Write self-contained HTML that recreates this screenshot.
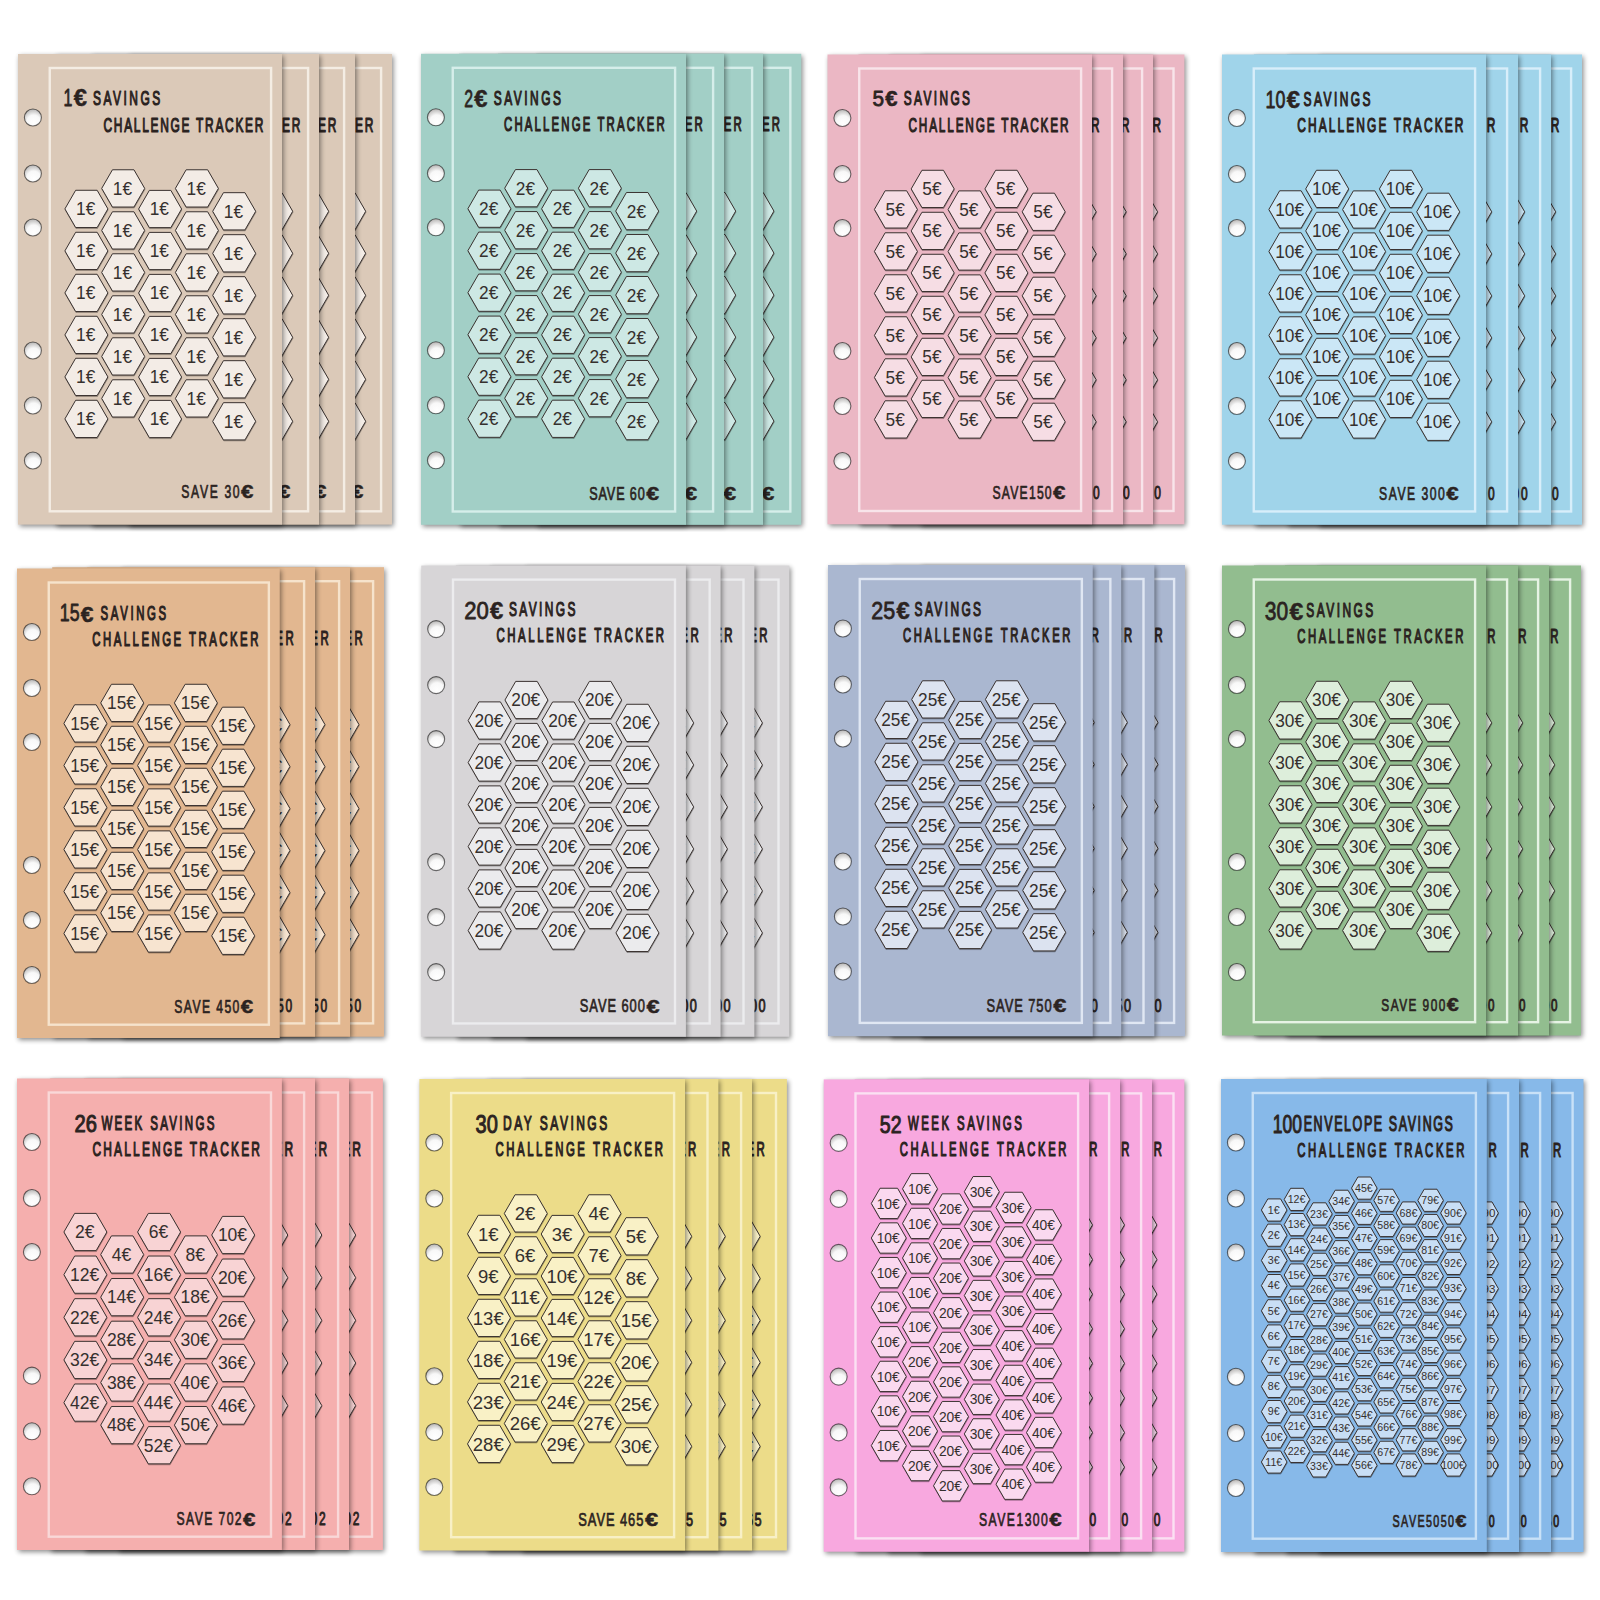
<!DOCTYPE html>
<html><head><meta charset="utf-8"><style>
html,body{margin:0;padding:0;background:#ffffff;}
svg{display:block;}
text{font-family:"Liberation Sans", sans-serif;}
</style></head><body>
<svg width="1600" height="1600" viewBox="0 0 1600 1600">
<defs>
<radialGradient id="hole" cx="0.55" cy="0.72" r="0.8" fx="0.55" fy="0.8">
<stop offset="0" stop-color="#ffffff"/><stop offset="0.5" stop-color="#f8f8f8"/><stop offset="1" stop-color="#a8a6a5"/>
</radialGradient>
<filter id="blur" x="-20%" y="-20%" width="140%" height="140%"><feGaussianBlur stdDeviation="2.6"/></filter>
<linearGradient id="shR" x1="0" y1="0" x2="1" y2="0">
<stop offset="0" stop-color="#000" stop-opacity="0.30"/><stop offset="0.35" stop-color="#000" stop-opacity="0.12"/><stop offset="1" stop-color="#000" stop-opacity="0"/>
</linearGradient>
<linearGradient id="shB" x1="0" y1="0" x2="0" y2="1">
<stop offset="0" stop-color="#000" stop-opacity="0.70"/><stop offset="0.3" stop-color="#000" stop-opacity="0.35"/><stop offset="1" stop-color="#000" stop-opacity="0"/>
</linearGradient>
<linearGradient id="shT" x1="0" y1="1" x2="0" y2="0">
<stop offset="0" stop-color="#000" stop-opacity="0.08"/><stop offset="1" stop-color="#000" stop-opacity="0"/>
</linearGradient>
</defs>
<rect width="1600" height="1600" fill="#ffffff"/>

<defs>
<g id="hx0f"><polygon points="64.90,208.90 75.65,190.28 97.15,190.28 107.90,208.90 97.15,227.52 75.65,227.52"/><polygon points="64.90,250.90 75.65,232.28 97.15,232.28 107.90,250.90 97.15,269.52 75.65,269.52"/><polygon points="64.90,292.90 75.65,274.28 97.15,274.28 107.90,292.90 97.15,311.52 75.65,311.52"/><polygon points="64.90,334.90 75.65,316.28 97.15,316.28 107.90,334.90 97.15,353.52 75.65,353.52"/><polygon points="64.90,376.90 75.65,358.28 97.15,358.28 107.90,376.90 97.15,395.52 75.65,395.52"/><polygon points="64.90,418.90 75.65,400.28 97.15,400.28 107.90,418.90 97.15,437.52 75.65,437.52"/><polygon points="101.70,188.40 112.45,169.78 133.95,169.78 144.70,188.40 133.95,207.02 112.45,207.02"/><polygon points="101.70,230.40 112.45,211.78 133.95,211.78 144.70,230.40 133.95,249.02 112.45,249.02"/><polygon points="101.70,272.40 112.45,253.78 133.95,253.78 144.70,272.40 133.95,291.02 112.45,291.02"/><polygon points="101.70,314.40 112.45,295.78 133.95,295.78 144.70,314.40 133.95,333.02 112.45,333.02"/><polygon points="101.70,356.40 112.45,337.78 133.95,337.78 144.70,356.40 133.95,375.02 112.45,375.02"/><polygon points="101.70,398.40 112.45,379.78 133.95,379.78 144.70,398.40 133.95,417.02 112.45,417.02"/><polygon points="138.60,209.00 149.35,190.38 170.85,190.38 181.60,209.00 170.85,227.62 149.35,227.62"/><polygon points="138.60,251.00 149.35,232.38 170.85,232.38 181.60,251.00 170.85,269.62 149.35,269.62"/><polygon points="138.60,293.00 149.35,274.38 170.85,274.38 181.60,293.00 170.85,311.62 149.35,311.62"/><polygon points="138.60,335.00 149.35,316.38 170.85,316.38 181.60,335.00 170.85,353.62 149.35,353.62"/><polygon points="138.60,377.00 149.35,358.38 170.85,358.38 181.60,377.00 170.85,395.62 149.35,395.62"/><polygon points="138.60,419.00 149.35,400.38 170.85,400.38 181.60,419.00 170.85,437.62 149.35,437.62"/><polygon points="175.40,188.40 186.15,169.78 207.65,169.78 218.40,188.40 207.65,207.02 186.15,207.02"/><polygon points="175.40,230.40 186.15,211.78 207.65,211.78 218.40,230.40 207.65,249.02 186.15,249.02"/><polygon points="175.40,272.40 186.15,253.78 207.65,253.78 218.40,272.40 207.65,291.02 186.15,291.02"/><polygon points="175.40,314.40 186.15,295.78 207.65,295.78 218.40,314.40 207.65,333.02 186.15,333.02"/><polygon points="175.40,356.40 186.15,337.78 207.65,337.78 218.40,356.40 207.65,375.02 186.15,375.02"/><polygon points="175.40,398.40 186.15,379.78 207.65,379.78 218.40,398.40 207.65,417.02 186.15,417.02"/><polygon points="212.70,211.30 223.45,192.68 244.95,192.68 255.70,211.30 244.95,229.92 223.45,229.92"/><polygon points="212.70,253.30 223.45,234.68 244.95,234.68 255.70,253.30 244.95,271.92 223.45,271.92"/><polygon points="212.70,295.30 223.45,276.68 244.95,276.68 255.70,295.30 244.95,313.92 223.45,313.92"/><polygon points="212.70,337.30 223.45,318.68 244.95,318.68 255.70,337.30 244.95,355.92 223.45,355.92"/><polygon points="212.70,379.30 223.45,360.68 244.95,360.68 255.70,379.30 244.95,397.92 223.45,397.92"/><polygon points="212.70,421.30 223.45,402.68 244.95,402.68 255.70,421.30 244.95,439.92 223.45,439.92"/></g>
<g id="hx0b"><polygon points="212.70,211.30 223.45,192.68 244.95,192.68 255.70,211.30 244.95,229.92 223.45,229.92"/><polygon points="212.70,253.30 223.45,234.68 244.95,234.68 255.70,253.30 244.95,271.92 223.45,271.92"/><polygon points="212.70,295.30 223.45,276.68 244.95,276.68 255.70,295.30 244.95,313.92 223.45,313.92"/><polygon points="212.70,337.30 223.45,318.68 244.95,318.68 255.70,337.30 244.95,355.92 223.45,355.92"/><polygon points="212.70,379.30 223.45,360.68 244.95,360.68 255.70,379.30 244.95,397.92 223.45,397.92"/><polygon points="212.70,421.30 223.45,402.68 244.95,402.68 255.70,421.30 244.95,439.92 223.45,439.92"/></g>
<g id="hx1f"><polygon points="467.90,208.70 478.65,190.08 500.15,190.08 510.90,208.70 500.15,227.32 478.65,227.32"/><polygon points="467.90,250.70 478.65,232.08 500.15,232.08 510.90,250.70 500.15,269.32 478.65,269.32"/><polygon points="467.90,292.70 478.65,274.08 500.15,274.08 510.90,292.70 500.15,311.32 478.65,311.32"/><polygon points="467.90,334.70 478.65,316.08 500.15,316.08 510.90,334.70 500.15,353.32 478.65,353.32"/><polygon points="467.90,376.70 478.65,358.08 500.15,358.08 510.90,376.70 500.15,395.32 478.65,395.32"/><polygon points="467.90,418.70 478.65,400.08 500.15,400.08 510.90,418.70 500.15,437.32 478.65,437.32"/><polygon points="504.70,188.20 515.45,169.58 536.95,169.58 547.70,188.20 536.95,206.82 515.45,206.82"/><polygon points="504.70,230.20 515.45,211.58 536.95,211.58 547.70,230.20 536.95,248.82 515.45,248.82"/><polygon points="504.70,272.20 515.45,253.58 536.95,253.58 547.70,272.20 536.95,290.82 515.45,290.82"/><polygon points="504.70,314.20 515.45,295.58 536.95,295.58 547.70,314.20 536.95,332.82 515.45,332.82"/><polygon points="504.70,356.20 515.45,337.58 536.95,337.58 547.70,356.20 536.95,374.82 515.45,374.82"/><polygon points="504.70,398.20 515.45,379.58 536.95,379.58 547.70,398.20 536.95,416.82 515.45,416.82"/><polygon points="541.60,208.80 552.35,190.18 573.85,190.18 584.60,208.80 573.85,227.42 552.35,227.42"/><polygon points="541.60,250.80 552.35,232.18 573.85,232.18 584.60,250.80 573.85,269.42 552.35,269.42"/><polygon points="541.60,292.80 552.35,274.18 573.85,274.18 584.60,292.80 573.85,311.42 552.35,311.42"/><polygon points="541.60,334.80 552.35,316.18 573.85,316.18 584.60,334.80 573.85,353.42 552.35,353.42"/><polygon points="541.60,376.80 552.35,358.18 573.85,358.18 584.60,376.80 573.85,395.42 552.35,395.42"/><polygon points="541.60,418.80 552.35,400.18 573.85,400.18 584.60,418.80 573.85,437.42 552.35,437.42"/><polygon points="578.40,188.20 589.15,169.58 610.65,169.58 621.40,188.20 610.65,206.82 589.15,206.82"/><polygon points="578.40,230.20 589.15,211.58 610.65,211.58 621.40,230.20 610.65,248.82 589.15,248.82"/><polygon points="578.40,272.20 589.15,253.58 610.65,253.58 621.40,272.20 610.65,290.82 589.15,290.82"/><polygon points="578.40,314.20 589.15,295.58 610.65,295.58 621.40,314.20 610.65,332.82 589.15,332.82"/><polygon points="578.40,356.20 589.15,337.58 610.65,337.58 621.40,356.20 610.65,374.82 589.15,374.82"/><polygon points="578.40,398.20 589.15,379.58 610.65,379.58 621.40,398.20 610.65,416.82 589.15,416.82"/><polygon points="615.70,211.10 626.45,192.48 647.95,192.48 658.70,211.10 647.95,229.72 626.45,229.72"/><polygon points="615.70,253.10 626.45,234.48 647.95,234.48 658.70,253.10 647.95,271.72 626.45,271.72"/><polygon points="615.70,295.10 626.45,276.48 647.95,276.48 658.70,295.10 647.95,313.72 626.45,313.72"/><polygon points="615.70,337.10 626.45,318.48 647.95,318.48 658.70,337.10 647.95,355.72 626.45,355.72"/><polygon points="615.70,379.10 626.45,360.48 647.95,360.48 658.70,379.10 647.95,397.72 626.45,397.72"/><polygon points="615.70,421.10 626.45,402.48 647.95,402.48 658.70,421.10 647.95,439.72 626.45,439.72"/></g>
<g id="hx1b"><polygon points="615.70,211.10 626.45,192.48 647.95,192.48 658.70,211.10 647.95,229.72 626.45,229.72"/><polygon points="615.70,253.10 626.45,234.48 647.95,234.48 658.70,253.10 647.95,271.72 626.45,271.72"/><polygon points="615.70,295.10 626.45,276.48 647.95,276.48 658.70,295.10 647.95,313.72 626.45,313.72"/><polygon points="615.70,337.10 626.45,318.48 647.95,318.48 658.70,337.10 647.95,355.72 626.45,355.72"/><polygon points="615.70,379.10 626.45,360.48 647.95,360.48 658.70,379.10 647.95,397.72 626.45,397.72"/><polygon points="615.70,421.10 626.45,402.48 647.95,402.48 658.70,421.10 647.95,439.72 626.45,439.72"/></g>
<g id="hx2f"><polygon points="874.40,209.40 885.15,190.78 906.65,190.78 917.40,209.40 906.65,228.02 885.15,228.02"/><polygon points="874.40,251.40 885.15,232.78 906.65,232.78 917.40,251.40 906.65,270.02 885.15,270.02"/><polygon points="874.40,293.40 885.15,274.78 906.65,274.78 917.40,293.40 906.65,312.02 885.15,312.02"/><polygon points="874.40,335.40 885.15,316.78 906.65,316.78 917.40,335.40 906.65,354.02 885.15,354.02"/><polygon points="874.40,377.40 885.15,358.78 906.65,358.78 917.40,377.40 906.65,396.02 885.15,396.02"/><polygon points="874.40,419.40 885.15,400.78 906.65,400.78 917.40,419.40 906.65,438.02 885.15,438.02"/><polygon points="911.20,188.90 921.95,170.28 943.45,170.28 954.20,188.90 943.45,207.52 921.95,207.52"/><polygon points="911.20,230.90 921.95,212.28 943.45,212.28 954.20,230.90 943.45,249.52 921.95,249.52"/><polygon points="911.20,272.90 921.95,254.28 943.45,254.28 954.20,272.90 943.45,291.52 921.95,291.52"/><polygon points="911.20,314.90 921.95,296.28 943.45,296.28 954.20,314.90 943.45,333.52 921.95,333.52"/><polygon points="911.20,356.90 921.95,338.28 943.45,338.28 954.20,356.90 943.45,375.52 921.95,375.52"/><polygon points="911.20,398.90 921.95,380.28 943.45,380.28 954.20,398.90 943.45,417.52 921.95,417.52"/><polygon points="948.10,209.50 958.85,190.88 980.35,190.88 991.10,209.50 980.35,228.12 958.85,228.12"/><polygon points="948.10,251.50 958.85,232.88 980.35,232.88 991.10,251.50 980.35,270.12 958.85,270.12"/><polygon points="948.10,293.50 958.85,274.88 980.35,274.88 991.10,293.50 980.35,312.12 958.85,312.12"/><polygon points="948.10,335.50 958.85,316.88 980.35,316.88 991.10,335.50 980.35,354.12 958.85,354.12"/><polygon points="948.10,377.50 958.85,358.88 980.35,358.88 991.10,377.50 980.35,396.12 958.85,396.12"/><polygon points="948.10,419.50 958.85,400.88 980.35,400.88 991.10,419.50 980.35,438.12 958.85,438.12"/><polygon points="984.90,188.90 995.65,170.28 1017.15,170.28 1027.90,188.90 1017.15,207.52 995.65,207.52"/><polygon points="984.90,230.90 995.65,212.28 1017.15,212.28 1027.90,230.90 1017.15,249.52 995.65,249.52"/><polygon points="984.90,272.90 995.65,254.28 1017.15,254.28 1027.90,272.90 1017.15,291.52 995.65,291.52"/><polygon points="984.90,314.90 995.65,296.28 1017.15,296.28 1027.90,314.90 1017.15,333.52 995.65,333.52"/><polygon points="984.90,356.90 995.65,338.28 1017.15,338.28 1027.90,356.90 1017.15,375.52 995.65,375.52"/><polygon points="984.90,398.90 995.65,380.28 1017.15,380.28 1027.90,398.90 1017.15,417.52 995.65,417.52"/><polygon points="1022.20,211.80 1032.95,193.18 1054.45,193.18 1065.20,211.80 1054.45,230.42 1032.95,230.42"/><polygon points="1022.20,253.80 1032.95,235.18 1054.45,235.18 1065.20,253.80 1054.45,272.42 1032.95,272.42"/><polygon points="1022.20,295.80 1032.95,277.18 1054.45,277.18 1065.20,295.80 1054.45,314.42 1032.95,314.42"/><polygon points="1022.20,337.80 1032.95,319.18 1054.45,319.18 1065.20,337.80 1054.45,356.42 1032.95,356.42"/><polygon points="1022.20,379.80 1032.95,361.18 1054.45,361.18 1065.20,379.80 1054.45,398.42 1032.95,398.42"/><polygon points="1022.20,421.80 1032.95,403.18 1054.45,403.18 1065.20,421.80 1054.45,440.42 1032.95,440.42"/></g>
<g id="hx2b"><polygon points="1022.20,211.80 1032.95,193.18 1054.45,193.18 1065.20,211.80 1054.45,230.42 1032.95,230.42"/><polygon points="1022.20,253.80 1032.95,235.18 1054.45,235.18 1065.20,253.80 1054.45,272.42 1032.95,272.42"/><polygon points="1022.20,295.80 1032.95,277.18 1054.45,277.18 1065.20,295.80 1054.45,314.42 1032.95,314.42"/><polygon points="1022.20,337.80 1032.95,319.18 1054.45,319.18 1065.20,337.80 1054.45,356.42 1032.95,356.42"/><polygon points="1022.20,379.80 1032.95,361.18 1054.45,361.18 1065.20,379.80 1054.45,398.42 1032.95,398.42"/><polygon points="1022.20,421.80 1032.95,403.18 1054.45,403.18 1065.20,421.80 1054.45,440.42 1032.95,440.42"/></g>
<g id="hx3f"><polygon points="1268.90,209.40 1279.65,190.78 1301.15,190.78 1311.90,209.40 1301.15,228.02 1279.65,228.02"/><polygon points="1268.90,251.40 1279.65,232.78 1301.15,232.78 1311.90,251.40 1301.15,270.02 1279.65,270.02"/><polygon points="1268.90,293.40 1279.65,274.78 1301.15,274.78 1311.90,293.40 1301.15,312.02 1279.65,312.02"/><polygon points="1268.90,335.40 1279.65,316.78 1301.15,316.78 1311.90,335.40 1301.15,354.02 1279.65,354.02"/><polygon points="1268.90,377.40 1279.65,358.78 1301.15,358.78 1311.90,377.40 1301.15,396.02 1279.65,396.02"/><polygon points="1268.90,419.40 1279.65,400.78 1301.15,400.78 1311.90,419.40 1301.15,438.02 1279.65,438.02"/><polygon points="1305.70,188.90 1316.45,170.28 1337.95,170.28 1348.70,188.90 1337.95,207.52 1316.45,207.52"/><polygon points="1305.70,230.90 1316.45,212.28 1337.95,212.28 1348.70,230.90 1337.95,249.52 1316.45,249.52"/><polygon points="1305.70,272.90 1316.45,254.28 1337.95,254.28 1348.70,272.90 1337.95,291.52 1316.45,291.52"/><polygon points="1305.70,314.90 1316.45,296.28 1337.95,296.28 1348.70,314.90 1337.95,333.52 1316.45,333.52"/><polygon points="1305.70,356.90 1316.45,338.28 1337.95,338.28 1348.70,356.90 1337.95,375.52 1316.45,375.52"/><polygon points="1305.70,398.90 1316.45,380.28 1337.95,380.28 1348.70,398.90 1337.95,417.52 1316.45,417.52"/><polygon points="1342.60,209.50 1353.35,190.88 1374.85,190.88 1385.60,209.50 1374.85,228.12 1353.35,228.12"/><polygon points="1342.60,251.50 1353.35,232.88 1374.85,232.88 1385.60,251.50 1374.85,270.12 1353.35,270.12"/><polygon points="1342.60,293.50 1353.35,274.88 1374.85,274.88 1385.60,293.50 1374.85,312.12 1353.35,312.12"/><polygon points="1342.60,335.50 1353.35,316.88 1374.85,316.88 1385.60,335.50 1374.85,354.12 1353.35,354.12"/><polygon points="1342.60,377.50 1353.35,358.88 1374.85,358.88 1385.60,377.50 1374.85,396.12 1353.35,396.12"/><polygon points="1342.60,419.50 1353.35,400.88 1374.85,400.88 1385.60,419.50 1374.85,438.12 1353.35,438.12"/><polygon points="1379.40,188.90 1390.15,170.28 1411.65,170.28 1422.40,188.90 1411.65,207.52 1390.15,207.52"/><polygon points="1379.40,230.90 1390.15,212.28 1411.65,212.28 1422.40,230.90 1411.65,249.52 1390.15,249.52"/><polygon points="1379.40,272.90 1390.15,254.28 1411.65,254.28 1422.40,272.90 1411.65,291.52 1390.15,291.52"/><polygon points="1379.40,314.90 1390.15,296.28 1411.65,296.28 1422.40,314.90 1411.65,333.52 1390.15,333.52"/><polygon points="1379.40,356.90 1390.15,338.28 1411.65,338.28 1422.40,356.90 1411.65,375.52 1390.15,375.52"/><polygon points="1379.40,398.90 1390.15,380.28 1411.65,380.28 1422.40,398.90 1411.65,417.52 1390.15,417.52"/><polygon points="1416.70,211.80 1427.45,193.18 1448.95,193.18 1459.70,211.80 1448.95,230.42 1427.45,230.42"/><polygon points="1416.70,253.80 1427.45,235.18 1448.95,235.18 1459.70,253.80 1448.95,272.42 1427.45,272.42"/><polygon points="1416.70,295.80 1427.45,277.18 1448.95,277.18 1459.70,295.80 1448.95,314.42 1427.45,314.42"/><polygon points="1416.70,337.80 1427.45,319.18 1448.95,319.18 1459.70,337.80 1448.95,356.42 1427.45,356.42"/><polygon points="1416.70,379.80 1427.45,361.18 1448.95,361.18 1459.70,379.80 1448.95,398.42 1427.45,398.42"/><polygon points="1416.70,421.80 1427.45,403.18 1448.95,403.18 1459.70,421.80 1448.95,440.42 1427.45,440.42"/></g>
<g id="hx3b"><polygon points="1416.70,211.80 1427.45,193.18 1448.95,193.18 1459.70,211.80 1448.95,230.42 1427.45,230.42"/><polygon points="1416.70,253.80 1427.45,235.18 1448.95,235.18 1459.70,253.80 1448.95,272.42 1427.45,272.42"/><polygon points="1416.70,295.80 1427.45,277.18 1448.95,277.18 1459.70,295.80 1448.95,314.42 1427.45,314.42"/><polygon points="1416.70,337.80 1427.45,319.18 1448.95,319.18 1459.70,337.80 1448.95,356.42 1427.45,356.42"/><polygon points="1416.70,379.80 1427.45,361.18 1448.95,361.18 1459.70,379.80 1448.95,398.42 1427.45,398.42"/><polygon points="1416.70,421.80 1427.45,403.18 1448.95,403.18 1459.70,421.80 1448.95,440.42 1427.45,440.42"/></g>
<g id="hx4f"><polygon points="63.90,723.40 74.65,704.78 96.15,704.78 106.90,723.40 96.15,742.02 74.65,742.02"/><polygon points="63.90,765.40 74.65,746.78 96.15,746.78 106.90,765.40 96.15,784.02 74.65,784.02"/><polygon points="63.90,807.40 74.65,788.78 96.15,788.78 106.90,807.40 96.15,826.02 74.65,826.02"/><polygon points="63.90,849.40 74.65,830.78 96.15,830.78 106.90,849.40 96.15,868.02 74.65,868.02"/><polygon points="63.90,891.40 74.65,872.78 96.15,872.78 106.90,891.40 96.15,910.02 74.65,910.02"/><polygon points="63.90,933.40 74.65,914.78 96.15,914.78 106.90,933.40 96.15,952.02 74.65,952.02"/><polygon points="100.70,702.90 111.45,684.28 132.95,684.28 143.70,702.90 132.95,721.52 111.45,721.52"/><polygon points="100.70,744.90 111.45,726.28 132.95,726.28 143.70,744.90 132.95,763.52 111.45,763.52"/><polygon points="100.70,786.90 111.45,768.28 132.95,768.28 143.70,786.90 132.95,805.52 111.45,805.52"/><polygon points="100.70,828.90 111.45,810.28 132.95,810.28 143.70,828.90 132.95,847.52 111.45,847.52"/><polygon points="100.70,870.90 111.45,852.28 132.95,852.28 143.70,870.90 132.95,889.52 111.45,889.52"/><polygon points="100.70,912.90 111.45,894.28 132.95,894.28 143.70,912.90 132.95,931.52 111.45,931.52"/><polygon points="137.60,723.50 148.35,704.88 169.85,704.88 180.60,723.50 169.85,742.12 148.35,742.12"/><polygon points="137.60,765.50 148.35,746.88 169.85,746.88 180.60,765.50 169.85,784.12 148.35,784.12"/><polygon points="137.60,807.50 148.35,788.88 169.85,788.88 180.60,807.50 169.85,826.12 148.35,826.12"/><polygon points="137.60,849.50 148.35,830.88 169.85,830.88 180.60,849.50 169.85,868.12 148.35,868.12"/><polygon points="137.60,891.50 148.35,872.88 169.85,872.88 180.60,891.50 169.85,910.12 148.35,910.12"/><polygon points="137.60,933.50 148.35,914.88 169.85,914.88 180.60,933.50 169.85,952.12 148.35,952.12"/><polygon points="174.40,702.90 185.15,684.28 206.65,684.28 217.40,702.90 206.65,721.52 185.15,721.52"/><polygon points="174.40,744.90 185.15,726.28 206.65,726.28 217.40,744.90 206.65,763.52 185.15,763.52"/><polygon points="174.40,786.90 185.15,768.28 206.65,768.28 217.40,786.90 206.65,805.52 185.15,805.52"/><polygon points="174.40,828.90 185.15,810.28 206.65,810.28 217.40,828.90 206.65,847.52 185.15,847.52"/><polygon points="174.40,870.90 185.15,852.28 206.65,852.28 217.40,870.90 206.65,889.52 185.15,889.52"/><polygon points="174.40,912.90 185.15,894.28 206.65,894.28 217.40,912.90 206.65,931.52 185.15,931.52"/><polygon points="211.70,725.80 222.45,707.18 243.95,707.18 254.70,725.80 243.95,744.42 222.45,744.42"/><polygon points="211.70,767.80 222.45,749.18 243.95,749.18 254.70,767.80 243.95,786.42 222.45,786.42"/><polygon points="211.70,809.80 222.45,791.18 243.95,791.18 254.70,809.80 243.95,828.42 222.45,828.42"/><polygon points="211.70,851.80 222.45,833.18 243.95,833.18 254.70,851.80 243.95,870.42 222.45,870.42"/><polygon points="211.70,893.80 222.45,875.18 243.95,875.18 254.70,893.80 243.95,912.42 222.45,912.42"/><polygon points="211.70,935.80 222.45,917.18 243.95,917.18 254.70,935.80 243.95,954.42 222.45,954.42"/></g>
<g id="hx4b"><polygon points="211.70,725.80 222.45,707.18 243.95,707.18 254.70,725.80 243.95,744.42 222.45,744.42"/><polygon points="211.70,767.80 222.45,749.18 243.95,749.18 254.70,767.80 243.95,786.42 222.45,786.42"/><polygon points="211.70,809.80 222.45,791.18 243.95,791.18 254.70,809.80 243.95,828.42 222.45,828.42"/><polygon points="211.70,851.80 222.45,833.18 243.95,833.18 254.70,851.80 243.95,870.42 222.45,870.42"/><polygon points="211.70,893.80 222.45,875.18 243.95,875.18 254.70,893.80 243.95,912.42 222.45,912.42"/><polygon points="211.70,935.80 222.45,917.18 243.95,917.18 254.70,935.80 243.95,954.42 222.45,954.42"/></g>
<g id="hx5f"><polygon points="468.15,720.50 478.90,701.88 500.40,701.88 511.15,720.50 500.40,739.12 478.90,739.12"/><polygon points="468.15,762.50 478.90,743.88 500.40,743.88 511.15,762.50 500.40,781.12 478.90,781.12"/><polygon points="468.15,804.50 478.90,785.88 500.40,785.88 511.15,804.50 500.40,823.12 478.90,823.12"/><polygon points="468.15,846.50 478.90,827.88 500.40,827.88 511.15,846.50 500.40,865.12 478.90,865.12"/><polygon points="468.15,888.50 478.90,869.88 500.40,869.88 511.15,888.50 500.40,907.12 478.90,907.12"/><polygon points="468.15,930.50 478.90,911.88 500.40,911.88 511.15,930.50 500.40,949.12 478.90,949.12"/><polygon points="504.95,700.00 515.70,681.38 537.20,681.38 547.95,700.00 537.20,718.62 515.70,718.62"/><polygon points="504.95,742.00 515.70,723.38 537.20,723.38 547.95,742.00 537.20,760.62 515.70,760.62"/><polygon points="504.95,784.00 515.70,765.38 537.20,765.38 547.95,784.00 537.20,802.62 515.70,802.62"/><polygon points="504.95,826.00 515.70,807.38 537.20,807.38 547.95,826.00 537.20,844.62 515.70,844.62"/><polygon points="504.95,868.00 515.70,849.38 537.20,849.38 547.95,868.00 537.20,886.62 515.70,886.62"/><polygon points="504.95,910.00 515.70,891.38 537.20,891.38 547.95,910.00 537.20,928.62 515.70,928.62"/><polygon points="541.85,720.60 552.60,701.98 574.10,701.98 584.85,720.60 574.10,739.22 552.60,739.22"/><polygon points="541.85,762.60 552.60,743.98 574.10,743.98 584.85,762.60 574.10,781.22 552.60,781.22"/><polygon points="541.85,804.60 552.60,785.98 574.10,785.98 584.85,804.60 574.10,823.22 552.60,823.22"/><polygon points="541.85,846.60 552.60,827.98 574.10,827.98 584.85,846.60 574.10,865.22 552.60,865.22"/><polygon points="541.85,888.60 552.60,869.98 574.10,869.98 584.85,888.60 574.10,907.22 552.60,907.22"/><polygon points="541.85,930.60 552.60,911.98 574.10,911.98 584.85,930.60 574.10,949.22 552.60,949.22"/><polygon points="578.65,700.00 589.40,681.38 610.90,681.38 621.65,700.00 610.90,718.62 589.40,718.62"/><polygon points="578.65,742.00 589.40,723.38 610.90,723.38 621.65,742.00 610.90,760.62 589.40,760.62"/><polygon points="578.65,784.00 589.40,765.38 610.90,765.38 621.65,784.00 610.90,802.62 589.40,802.62"/><polygon points="578.65,826.00 589.40,807.38 610.90,807.38 621.65,826.00 610.90,844.62 589.40,844.62"/><polygon points="578.65,868.00 589.40,849.38 610.90,849.38 621.65,868.00 610.90,886.62 589.40,886.62"/><polygon points="578.65,910.00 589.40,891.38 610.90,891.38 621.65,910.00 610.90,928.62 589.40,928.62"/><polygon points="615.95,722.90 626.70,704.28 648.20,704.28 658.95,722.90 648.20,741.52 626.70,741.52"/><polygon points="615.95,764.90 626.70,746.28 648.20,746.28 658.95,764.90 648.20,783.52 626.70,783.52"/><polygon points="615.95,806.90 626.70,788.28 648.20,788.28 658.95,806.90 648.20,825.52 626.70,825.52"/><polygon points="615.95,848.90 626.70,830.28 648.20,830.28 658.95,848.90 648.20,867.52 626.70,867.52"/><polygon points="615.95,890.90 626.70,872.28 648.20,872.28 658.95,890.90 648.20,909.52 626.70,909.52"/><polygon points="615.95,932.90 626.70,914.28 648.20,914.28 658.95,932.90 648.20,951.52 626.70,951.52"/></g>
<g id="hx5b"><polygon points="615.95,722.90 626.70,704.28 648.20,704.28 658.95,722.90 648.20,741.52 626.70,741.52"/><polygon points="615.95,764.90 626.70,746.28 648.20,746.28 658.95,764.90 648.20,783.52 626.70,783.52"/><polygon points="615.95,806.90 626.70,788.28 648.20,788.28 658.95,806.90 648.20,825.52 626.70,825.52"/><polygon points="615.95,848.90 626.70,830.28 648.20,830.28 658.95,848.90 648.20,867.52 626.70,867.52"/><polygon points="615.95,890.90 626.70,872.28 648.20,872.28 658.95,890.90 648.20,909.52 626.70,909.52"/><polygon points="615.95,932.90 626.70,914.28 648.20,914.28 658.95,932.90 648.20,951.52 626.70,951.52"/></g>
<g id="hx6f"><polygon points="874.90,719.90 885.65,701.28 907.15,701.28 917.90,719.90 907.15,738.52 885.65,738.52"/><polygon points="874.90,761.90 885.65,743.28 907.15,743.28 917.90,761.90 907.15,780.52 885.65,780.52"/><polygon points="874.90,803.90 885.65,785.28 907.15,785.28 917.90,803.90 907.15,822.52 885.65,822.52"/><polygon points="874.90,845.90 885.65,827.28 907.15,827.28 917.90,845.90 907.15,864.52 885.65,864.52"/><polygon points="874.90,887.90 885.65,869.28 907.15,869.28 917.90,887.90 907.15,906.52 885.65,906.52"/><polygon points="874.90,929.90 885.65,911.28 907.15,911.28 917.90,929.90 907.15,948.52 885.65,948.52"/><polygon points="911.70,699.40 922.45,680.78 943.95,680.78 954.70,699.40 943.95,718.02 922.45,718.02"/><polygon points="911.70,741.40 922.45,722.78 943.95,722.78 954.70,741.40 943.95,760.02 922.45,760.02"/><polygon points="911.70,783.40 922.45,764.78 943.95,764.78 954.70,783.40 943.95,802.02 922.45,802.02"/><polygon points="911.70,825.40 922.45,806.78 943.95,806.78 954.70,825.40 943.95,844.02 922.45,844.02"/><polygon points="911.70,867.40 922.45,848.78 943.95,848.78 954.70,867.40 943.95,886.02 922.45,886.02"/><polygon points="911.70,909.40 922.45,890.78 943.95,890.78 954.70,909.40 943.95,928.02 922.45,928.02"/><polygon points="948.60,720.00 959.35,701.38 980.85,701.38 991.60,720.00 980.85,738.62 959.35,738.62"/><polygon points="948.60,762.00 959.35,743.38 980.85,743.38 991.60,762.00 980.85,780.62 959.35,780.62"/><polygon points="948.60,804.00 959.35,785.38 980.85,785.38 991.60,804.00 980.85,822.62 959.35,822.62"/><polygon points="948.60,846.00 959.35,827.38 980.85,827.38 991.60,846.00 980.85,864.62 959.35,864.62"/><polygon points="948.60,888.00 959.35,869.38 980.85,869.38 991.60,888.00 980.85,906.62 959.35,906.62"/><polygon points="948.60,930.00 959.35,911.38 980.85,911.38 991.60,930.00 980.85,948.62 959.35,948.62"/><polygon points="985.40,699.40 996.15,680.78 1017.65,680.78 1028.40,699.40 1017.65,718.02 996.15,718.02"/><polygon points="985.40,741.40 996.15,722.78 1017.65,722.78 1028.40,741.40 1017.65,760.02 996.15,760.02"/><polygon points="985.40,783.40 996.15,764.78 1017.65,764.78 1028.40,783.40 1017.65,802.02 996.15,802.02"/><polygon points="985.40,825.40 996.15,806.78 1017.65,806.78 1028.40,825.40 1017.65,844.02 996.15,844.02"/><polygon points="985.40,867.40 996.15,848.78 1017.65,848.78 1028.40,867.40 1017.65,886.02 996.15,886.02"/><polygon points="985.40,909.40 996.15,890.78 1017.65,890.78 1028.40,909.40 1017.65,928.02 996.15,928.02"/><polygon points="1022.70,722.30 1033.45,703.68 1054.95,703.68 1065.70,722.30 1054.95,740.92 1033.45,740.92"/><polygon points="1022.70,764.30 1033.45,745.68 1054.95,745.68 1065.70,764.30 1054.95,782.92 1033.45,782.92"/><polygon points="1022.70,806.30 1033.45,787.68 1054.95,787.68 1065.70,806.30 1054.95,824.92 1033.45,824.92"/><polygon points="1022.70,848.30 1033.45,829.68 1054.95,829.68 1065.70,848.30 1054.95,866.92 1033.45,866.92"/><polygon points="1022.70,890.30 1033.45,871.68 1054.95,871.68 1065.70,890.30 1054.95,908.92 1033.45,908.92"/><polygon points="1022.70,932.30 1033.45,913.68 1054.95,913.68 1065.70,932.30 1054.95,950.92 1033.45,950.92"/></g>
<g id="hx6b"><polygon points="1022.70,722.30 1033.45,703.68 1054.95,703.68 1065.70,722.30 1054.95,740.92 1033.45,740.92"/><polygon points="1022.70,764.30 1033.45,745.68 1054.95,745.68 1065.70,764.30 1054.95,782.92 1033.45,782.92"/><polygon points="1022.70,806.30 1033.45,787.68 1054.95,787.68 1065.70,806.30 1054.95,824.92 1033.45,824.92"/><polygon points="1022.70,848.30 1033.45,829.68 1054.95,829.68 1065.70,848.30 1054.95,866.92 1033.45,866.92"/><polygon points="1022.70,890.30 1033.45,871.68 1054.95,871.68 1065.70,890.30 1054.95,908.92 1033.45,908.92"/><polygon points="1022.70,932.30 1033.45,913.68 1054.95,913.68 1065.70,932.30 1054.95,950.92 1033.45,950.92"/></g>
<g id="hx7f"><polygon points="1268.90,720.40 1279.65,701.78 1301.15,701.78 1311.90,720.40 1301.15,739.02 1279.65,739.02"/><polygon points="1268.90,762.40 1279.65,743.78 1301.15,743.78 1311.90,762.40 1301.15,781.02 1279.65,781.02"/><polygon points="1268.90,804.40 1279.65,785.78 1301.15,785.78 1311.90,804.40 1301.15,823.02 1279.65,823.02"/><polygon points="1268.90,846.40 1279.65,827.78 1301.15,827.78 1311.90,846.40 1301.15,865.02 1279.65,865.02"/><polygon points="1268.90,888.40 1279.65,869.78 1301.15,869.78 1311.90,888.40 1301.15,907.02 1279.65,907.02"/><polygon points="1268.90,930.40 1279.65,911.78 1301.15,911.78 1311.90,930.40 1301.15,949.02 1279.65,949.02"/><polygon points="1305.70,699.90 1316.45,681.28 1337.95,681.28 1348.70,699.90 1337.95,718.52 1316.45,718.52"/><polygon points="1305.70,741.90 1316.45,723.28 1337.95,723.28 1348.70,741.90 1337.95,760.52 1316.45,760.52"/><polygon points="1305.70,783.90 1316.45,765.28 1337.95,765.28 1348.70,783.90 1337.95,802.52 1316.45,802.52"/><polygon points="1305.70,825.90 1316.45,807.28 1337.95,807.28 1348.70,825.90 1337.95,844.52 1316.45,844.52"/><polygon points="1305.70,867.90 1316.45,849.28 1337.95,849.28 1348.70,867.90 1337.95,886.52 1316.45,886.52"/><polygon points="1305.70,909.90 1316.45,891.28 1337.95,891.28 1348.70,909.90 1337.95,928.52 1316.45,928.52"/><polygon points="1342.60,720.50 1353.35,701.88 1374.85,701.88 1385.60,720.50 1374.85,739.12 1353.35,739.12"/><polygon points="1342.60,762.50 1353.35,743.88 1374.85,743.88 1385.60,762.50 1374.85,781.12 1353.35,781.12"/><polygon points="1342.60,804.50 1353.35,785.88 1374.85,785.88 1385.60,804.50 1374.85,823.12 1353.35,823.12"/><polygon points="1342.60,846.50 1353.35,827.88 1374.85,827.88 1385.60,846.50 1374.85,865.12 1353.35,865.12"/><polygon points="1342.60,888.50 1353.35,869.88 1374.85,869.88 1385.60,888.50 1374.85,907.12 1353.35,907.12"/><polygon points="1342.60,930.50 1353.35,911.88 1374.85,911.88 1385.60,930.50 1374.85,949.12 1353.35,949.12"/><polygon points="1379.40,699.90 1390.15,681.28 1411.65,681.28 1422.40,699.90 1411.65,718.52 1390.15,718.52"/><polygon points="1379.40,741.90 1390.15,723.28 1411.65,723.28 1422.40,741.90 1411.65,760.52 1390.15,760.52"/><polygon points="1379.40,783.90 1390.15,765.28 1411.65,765.28 1422.40,783.90 1411.65,802.52 1390.15,802.52"/><polygon points="1379.40,825.90 1390.15,807.28 1411.65,807.28 1422.40,825.90 1411.65,844.52 1390.15,844.52"/><polygon points="1379.40,867.90 1390.15,849.28 1411.65,849.28 1422.40,867.90 1411.65,886.52 1390.15,886.52"/><polygon points="1379.40,909.90 1390.15,891.28 1411.65,891.28 1422.40,909.90 1411.65,928.52 1390.15,928.52"/><polygon points="1416.70,722.80 1427.45,704.18 1448.95,704.18 1459.70,722.80 1448.95,741.42 1427.45,741.42"/><polygon points="1416.70,764.80 1427.45,746.18 1448.95,746.18 1459.70,764.80 1448.95,783.42 1427.45,783.42"/><polygon points="1416.70,806.80 1427.45,788.18 1448.95,788.18 1459.70,806.80 1448.95,825.42 1427.45,825.42"/><polygon points="1416.70,848.80 1427.45,830.18 1448.95,830.18 1459.70,848.80 1448.95,867.42 1427.45,867.42"/><polygon points="1416.70,890.80 1427.45,872.18 1448.95,872.18 1459.70,890.80 1448.95,909.42 1427.45,909.42"/><polygon points="1416.70,932.80 1427.45,914.18 1448.95,914.18 1459.70,932.80 1448.95,951.42 1427.45,951.42"/></g>
<g id="hx7b"><polygon points="1416.70,722.80 1427.45,704.18 1448.95,704.18 1459.70,722.80 1448.95,741.42 1427.45,741.42"/><polygon points="1416.70,764.80 1427.45,746.18 1448.95,746.18 1459.70,764.80 1448.95,783.42 1427.45,783.42"/><polygon points="1416.70,806.80 1427.45,788.18 1448.95,788.18 1459.70,806.80 1448.95,825.42 1427.45,825.42"/><polygon points="1416.70,848.80 1427.45,830.18 1448.95,830.18 1459.70,848.80 1448.95,867.42 1427.45,867.42"/><polygon points="1416.70,890.80 1427.45,872.18 1448.95,872.18 1459.70,890.80 1448.95,909.42 1427.45,909.42"/><polygon points="1416.70,932.80 1427.45,914.18 1448.95,914.18 1459.70,932.80 1448.95,951.42 1427.45,951.42"/></g>
<g id="hx8f"><polygon points="63.90,1232.00 74.65,1213.38 96.15,1213.38 106.90,1232.00 96.15,1250.62 74.65,1250.62"/><polygon points="63.90,1274.65 74.65,1256.03 96.15,1256.03 106.90,1274.65 96.15,1293.27 74.65,1293.27"/><polygon points="63.90,1317.30 74.65,1298.68 96.15,1298.68 106.90,1317.30 96.15,1335.92 74.65,1335.92"/><polygon points="63.90,1359.95 74.65,1341.33 96.15,1341.33 106.90,1359.95 96.15,1378.57 74.65,1378.57"/><polygon points="63.90,1402.60 74.65,1383.98 96.15,1383.98 106.90,1402.60 96.15,1421.22 74.65,1421.22"/><polygon points="100.70,1254.50 111.45,1235.88 132.95,1235.88 143.70,1254.50 132.95,1273.12 111.45,1273.12"/><polygon points="100.70,1297.15 111.45,1278.53 132.95,1278.53 143.70,1297.15 132.95,1315.77 111.45,1315.77"/><polygon points="100.70,1339.80 111.45,1321.18 132.95,1321.18 143.70,1339.80 132.95,1358.42 111.45,1358.42"/><polygon points="100.70,1382.45 111.45,1363.83 132.95,1363.83 143.70,1382.45 132.95,1401.07 111.45,1401.07"/><polygon points="100.70,1425.10 111.45,1406.48 132.95,1406.48 143.70,1425.10 132.95,1443.72 111.45,1443.72"/><polygon points="137.60,1232.00 148.35,1213.38 169.85,1213.38 180.60,1232.00 169.85,1250.62 148.35,1250.62"/><polygon points="137.60,1274.65 148.35,1256.03 169.85,1256.03 180.60,1274.65 169.85,1293.27 148.35,1293.27"/><polygon points="137.60,1317.30 148.35,1298.68 169.85,1298.68 180.60,1317.30 169.85,1335.92 148.35,1335.92"/><polygon points="137.60,1359.95 148.35,1341.33 169.85,1341.33 180.60,1359.95 169.85,1378.57 148.35,1378.57"/><polygon points="137.60,1402.60 148.35,1383.98 169.85,1383.98 180.60,1402.60 169.85,1421.22 148.35,1421.22"/><polygon points="137.60,1445.25 148.35,1426.63 169.85,1426.63 180.60,1445.25 169.85,1463.87 148.35,1463.87"/><polygon points="174.40,1254.50 185.15,1235.88 206.65,1235.88 217.40,1254.50 206.65,1273.12 185.15,1273.12"/><polygon points="174.40,1297.15 185.15,1278.53 206.65,1278.53 217.40,1297.15 206.65,1315.77 185.15,1315.77"/><polygon points="174.40,1339.80 185.15,1321.18 206.65,1321.18 217.40,1339.80 206.65,1358.42 185.15,1358.42"/><polygon points="174.40,1382.45 185.15,1363.83 206.65,1363.83 217.40,1382.45 206.65,1401.07 185.15,1401.07"/><polygon points="174.40,1425.10 185.15,1406.48 206.65,1406.48 217.40,1425.10 206.65,1443.72 185.15,1443.72"/><polygon points="211.70,1235.00 222.45,1216.38 243.95,1216.38 254.70,1235.00 243.95,1253.62 222.45,1253.62"/><polygon points="211.70,1277.65 222.45,1259.03 243.95,1259.03 254.70,1277.65 243.95,1296.27 222.45,1296.27"/><polygon points="211.70,1320.30 222.45,1301.68 243.95,1301.68 254.70,1320.30 243.95,1338.92 222.45,1338.92"/><polygon points="211.70,1362.95 222.45,1344.33 243.95,1344.33 254.70,1362.95 243.95,1381.57 222.45,1381.57"/><polygon points="211.70,1405.60 222.45,1386.98 243.95,1386.98 254.70,1405.60 243.95,1424.22 222.45,1424.22"/></g>
<g id="hx8b"><polygon points="211.70,1235.00 222.45,1216.38 243.95,1216.38 254.70,1235.00 243.95,1253.62 222.45,1253.62"/><polygon points="211.70,1277.65 222.45,1259.03 243.95,1259.03 254.70,1277.65 243.95,1296.27 222.45,1296.27"/><polygon points="211.70,1320.30 222.45,1301.68 243.95,1301.68 254.70,1320.30 243.95,1338.92 222.45,1338.92"/><polygon points="211.70,1362.95 222.45,1344.33 243.95,1344.33 254.70,1362.95 243.95,1381.57 222.45,1381.57"/><polygon points="211.70,1405.60 222.45,1386.98 243.95,1386.98 254.70,1405.60 243.95,1424.22 222.45,1424.22"/></g>
<g id="hx9f"><polygon points="467.50,1233.90 478.25,1215.28 499.75,1215.28 510.50,1233.90 499.75,1252.52 478.25,1252.52"/><polygon points="467.50,1275.90 478.25,1257.28 499.75,1257.28 510.50,1275.90 499.75,1294.52 478.25,1294.52"/><polygon points="467.50,1317.90 478.25,1299.28 499.75,1299.28 510.50,1317.90 499.75,1336.52 478.25,1336.52"/><polygon points="467.50,1359.90 478.25,1341.28 499.75,1341.28 510.50,1359.90 499.75,1378.52 478.25,1378.52"/><polygon points="467.50,1401.90 478.25,1383.28 499.75,1383.28 510.50,1401.90 499.75,1420.52 478.25,1420.52"/><polygon points="467.50,1443.90 478.25,1425.28 499.75,1425.28 510.50,1443.90 499.75,1462.52 478.25,1462.52"/><polygon points="504.30,1213.40 515.05,1194.78 536.55,1194.78 547.30,1213.40 536.55,1232.02 515.05,1232.02"/><polygon points="504.30,1255.40 515.05,1236.78 536.55,1236.78 547.30,1255.40 536.55,1274.02 515.05,1274.02"/><polygon points="504.30,1297.40 515.05,1278.78 536.55,1278.78 547.30,1297.40 536.55,1316.02 515.05,1316.02"/><polygon points="504.30,1339.40 515.05,1320.78 536.55,1320.78 547.30,1339.40 536.55,1358.02 515.05,1358.02"/><polygon points="504.30,1381.40 515.05,1362.78 536.55,1362.78 547.30,1381.40 536.55,1400.02 515.05,1400.02"/><polygon points="504.30,1423.40 515.05,1404.78 536.55,1404.78 547.30,1423.40 536.55,1442.02 515.05,1442.02"/><polygon points="541.20,1234.00 551.95,1215.38 573.45,1215.38 584.20,1234.00 573.45,1252.62 551.95,1252.62"/><polygon points="541.20,1276.00 551.95,1257.38 573.45,1257.38 584.20,1276.00 573.45,1294.62 551.95,1294.62"/><polygon points="541.20,1318.00 551.95,1299.38 573.45,1299.38 584.20,1318.00 573.45,1336.62 551.95,1336.62"/><polygon points="541.20,1360.00 551.95,1341.38 573.45,1341.38 584.20,1360.00 573.45,1378.62 551.95,1378.62"/><polygon points="541.20,1402.00 551.95,1383.38 573.45,1383.38 584.20,1402.00 573.45,1420.62 551.95,1420.62"/><polygon points="541.20,1444.00 551.95,1425.38 573.45,1425.38 584.20,1444.00 573.45,1462.62 551.95,1462.62"/><polygon points="578.00,1213.40 588.75,1194.78 610.25,1194.78 621.00,1213.40 610.25,1232.02 588.75,1232.02"/><polygon points="578.00,1255.40 588.75,1236.78 610.25,1236.78 621.00,1255.40 610.25,1274.02 588.75,1274.02"/><polygon points="578.00,1297.40 588.75,1278.78 610.25,1278.78 621.00,1297.40 610.25,1316.02 588.75,1316.02"/><polygon points="578.00,1339.40 588.75,1320.78 610.25,1320.78 621.00,1339.40 610.25,1358.02 588.75,1358.02"/><polygon points="578.00,1381.40 588.75,1362.78 610.25,1362.78 621.00,1381.40 610.25,1400.02 588.75,1400.02"/><polygon points="578.00,1423.40 588.75,1404.78 610.25,1404.78 621.00,1423.40 610.25,1442.02 588.75,1442.02"/><polygon points="615.30,1236.30 626.05,1217.68 647.55,1217.68 658.30,1236.30 647.55,1254.92 626.05,1254.92"/><polygon points="615.30,1278.30 626.05,1259.68 647.55,1259.68 658.30,1278.30 647.55,1296.92 626.05,1296.92"/><polygon points="615.30,1320.30 626.05,1301.68 647.55,1301.68 658.30,1320.30 647.55,1338.92 626.05,1338.92"/><polygon points="615.30,1362.30 626.05,1343.68 647.55,1343.68 658.30,1362.30 647.55,1380.92 626.05,1380.92"/><polygon points="615.30,1404.30 626.05,1385.68 647.55,1385.68 658.30,1404.30 647.55,1422.92 626.05,1422.92"/><polygon points="615.30,1446.30 626.05,1427.68 647.55,1427.68 658.30,1446.30 647.55,1464.92 626.05,1464.92"/></g>
<g id="hx9b"><polygon points="615.30,1236.30 626.05,1217.68 647.55,1217.68 658.30,1236.30 647.55,1254.92 626.05,1254.92"/><polygon points="615.30,1278.30 626.05,1259.68 647.55,1259.68 658.30,1278.30 647.55,1296.92 626.05,1296.92"/><polygon points="615.30,1320.30 626.05,1301.68 647.55,1301.68 658.30,1320.30 647.55,1338.92 626.05,1338.92"/><polygon points="615.30,1362.30 626.05,1343.68 647.55,1343.68 658.30,1362.30 647.55,1380.92 626.05,1380.92"/><polygon points="615.30,1404.30 626.05,1385.68 647.55,1385.68 658.30,1404.30 647.55,1422.92 626.05,1422.92"/><polygon points="615.30,1446.30 626.05,1427.68 647.55,1427.68 658.30,1446.30 647.55,1464.92 626.05,1464.92"/></g>
<g id="hx10f"><polygon points="871.30,1203.40 880.05,1188.24 897.55,1188.24 906.30,1203.40 897.55,1218.56 880.05,1218.56"/><polygon points="871.30,1238.00 880.05,1222.84 897.55,1222.84 906.30,1238.00 897.55,1253.16 880.05,1253.16"/><polygon points="871.30,1272.60 880.05,1257.44 897.55,1257.44 906.30,1272.60 897.55,1287.76 880.05,1287.76"/><polygon points="871.30,1307.20 880.05,1292.04 897.55,1292.04 906.30,1307.20 897.55,1322.36 880.05,1322.36"/><polygon points="871.30,1341.80 880.05,1326.64 897.55,1326.64 906.30,1341.80 897.55,1356.96 880.05,1356.96"/><polygon points="871.30,1376.40 880.05,1361.24 897.55,1361.24 906.30,1376.40 897.55,1391.56 880.05,1391.56"/><polygon points="871.30,1411.00 880.05,1395.84 897.55,1395.84 906.30,1411.00 897.55,1426.16 880.05,1426.16"/><polygon points="871.30,1445.60 880.05,1430.44 897.55,1430.44 906.30,1445.60 897.55,1460.76 880.05,1460.76"/><polygon points="902.50,1188.80 911.25,1173.64 928.75,1173.64 937.50,1188.80 928.75,1203.96 911.25,1203.96"/><polygon points="902.50,1223.40 911.25,1208.24 928.75,1208.24 937.50,1223.40 928.75,1238.56 911.25,1238.56"/><polygon points="902.50,1258.00 911.25,1242.84 928.75,1242.84 937.50,1258.00 928.75,1273.16 911.25,1273.16"/><polygon points="902.50,1292.60 911.25,1277.44 928.75,1277.44 937.50,1292.60 928.75,1307.76 911.25,1307.76"/><polygon points="902.50,1327.20 911.25,1312.04 928.75,1312.04 937.50,1327.20 928.75,1342.36 911.25,1342.36"/><polygon points="902.50,1361.80 911.25,1346.64 928.75,1346.64 937.50,1361.80 928.75,1376.96 911.25,1376.96"/><polygon points="902.50,1396.40 911.25,1381.24 928.75,1381.24 937.50,1396.40 928.75,1411.56 911.25,1411.56"/><polygon points="902.50,1431.00 911.25,1415.84 928.75,1415.84 937.50,1431.00 928.75,1446.16 911.25,1446.16"/><polygon points="902.50,1465.60 911.25,1450.44 928.75,1450.44 937.50,1465.60 928.75,1480.76 911.25,1480.76"/><polygon points="933.50,1209.00 942.25,1193.84 959.75,1193.84 968.50,1209.00 959.75,1224.16 942.25,1224.16"/><polygon points="933.50,1243.60 942.25,1228.44 959.75,1228.44 968.50,1243.60 959.75,1258.76 942.25,1258.76"/><polygon points="933.50,1278.20 942.25,1263.04 959.75,1263.04 968.50,1278.20 959.75,1293.36 942.25,1293.36"/><polygon points="933.50,1312.80 942.25,1297.64 959.75,1297.64 968.50,1312.80 959.75,1327.96 942.25,1327.96"/><polygon points="933.50,1347.40 942.25,1332.24 959.75,1332.24 968.50,1347.40 959.75,1362.56 942.25,1362.56"/><polygon points="933.50,1382.00 942.25,1366.84 959.75,1366.84 968.50,1382.00 959.75,1397.16 942.25,1397.16"/><polygon points="933.50,1416.60 942.25,1401.44 959.75,1401.44 968.50,1416.60 959.75,1431.76 942.25,1431.76"/><polygon points="933.50,1451.20 942.25,1436.04 959.75,1436.04 968.50,1451.20 959.75,1466.36 942.25,1466.36"/><polygon points="933.50,1485.80 942.25,1470.64 959.75,1470.64 968.50,1485.80 959.75,1500.96 942.25,1500.96"/><polygon points="964.30,1191.70 973.05,1176.54 990.55,1176.54 999.30,1191.70 990.55,1206.86 973.05,1206.86"/><polygon points="964.30,1226.30 973.05,1211.14 990.55,1211.14 999.30,1226.30 990.55,1241.46 973.05,1241.46"/><polygon points="964.30,1260.90 973.05,1245.74 990.55,1245.74 999.30,1260.90 990.55,1276.06 973.05,1276.06"/><polygon points="964.30,1295.50 973.05,1280.34 990.55,1280.34 999.30,1295.50 990.55,1310.66 973.05,1310.66"/><polygon points="964.30,1330.10 973.05,1314.94 990.55,1314.94 999.30,1330.10 990.55,1345.26 973.05,1345.26"/><polygon points="964.30,1364.70 973.05,1349.54 990.55,1349.54 999.30,1364.70 990.55,1379.86 973.05,1379.86"/><polygon points="964.30,1399.30 973.05,1384.14 990.55,1384.14 999.30,1399.30 990.55,1414.46 973.05,1414.46"/><polygon points="964.30,1433.90 973.05,1418.74 990.55,1418.74 999.30,1433.90 990.55,1449.06 973.05,1449.06"/><polygon points="964.30,1468.50 973.05,1453.34 990.55,1453.34 999.30,1468.50 990.55,1483.66 973.05,1483.66"/><polygon points="996.00,1207.40 1004.75,1192.24 1022.25,1192.24 1031.00,1207.40 1022.25,1222.56 1004.75,1222.56"/><polygon points="996.00,1242.00 1004.75,1226.84 1022.25,1226.84 1031.00,1242.00 1022.25,1257.16 1004.75,1257.16"/><polygon points="996.00,1276.60 1004.75,1261.44 1022.25,1261.44 1031.00,1276.60 1022.25,1291.76 1004.75,1291.76"/><polygon points="996.00,1311.20 1004.75,1296.04 1022.25,1296.04 1031.00,1311.20 1022.25,1326.36 1004.75,1326.36"/><polygon points="996.00,1345.80 1004.75,1330.64 1022.25,1330.64 1031.00,1345.80 1022.25,1360.96 1004.75,1360.96"/><polygon points="996.00,1380.40 1004.75,1365.24 1022.25,1365.24 1031.00,1380.40 1022.25,1395.56 1004.75,1395.56"/><polygon points="996.00,1415.00 1004.75,1399.84 1022.25,1399.84 1031.00,1415.00 1022.25,1430.16 1004.75,1430.16"/><polygon points="996.00,1449.60 1004.75,1434.44 1022.25,1434.44 1031.00,1449.60 1022.25,1464.76 1004.75,1464.76"/><polygon points="996.00,1484.20 1004.75,1469.04 1022.25,1469.04 1031.00,1484.20 1022.25,1499.36 1004.75,1499.36"/><polygon points="1026.50,1224.90 1035.25,1209.74 1052.75,1209.74 1061.50,1224.90 1052.75,1240.06 1035.25,1240.06"/><polygon points="1026.50,1259.50 1035.25,1244.34 1052.75,1244.34 1061.50,1259.50 1052.75,1274.66 1035.25,1274.66"/><polygon points="1026.50,1294.10 1035.25,1278.94 1052.75,1278.94 1061.50,1294.10 1052.75,1309.26 1035.25,1309.26"/><polygon points="1026.50,1328.70 1035.25,1313.54 1052.75,1313.54 1061.50,1328.70 1052.75,1343.86 1035.25,1343.86"/><polygon points="1026.50,1363.30 1035.25,1348.14 1052.75,1348.14 1061.50,1363.30 1052.75,1378.46 1035.25,1378.46"/><polygon points="1026.50,1397.90 1035.25,1382.74 1052.75,1382.74 1061.50,1397.90 1052.75,1413.06 1035.25,1413.06"/><polygon points="1026.50,1432.50 1035.25,1417.34 1052.75,1417.34 1061.50,1432.50 1052.75,1447.66 1035.25,1447.66"/><polygon points="1026.50,1467.10 1035.25,1451.94 1052.75,1451.94 1061.50,1467.10 1052.75,1482.26 1035.25,1482.26"/></g>
<g id="hx10b"><polygon points="1026.50,1224.90 1035.25,1209.74 1052.75,1209.74 1061.50,1224.90 1052.75,1240.06 1035.25,1240.06"/><polygon points="1026.50,1259.50 1035.25,1244.34 1052.75,1244.34 1061.50,1259.50 1052.75,1274.66 1035.25,1274.66"/><polygon points="1026.50,1294.10 1035.25,1278.94 1052.75,1278.94 1061.50,1294.10 1052.75,1309.26 1035.25,1309.26"/><polygon points="1026.50,1328.70 1035.25,1313.54 1052.75,1313.54 1061.50,1328.70 1052.75,1343.86 1035.25,1343.86"/><polygon points="1026.50,1363.30 1035.25,1348.14 1052.75,1348.14 1061.50,1363.30 1052.75,1378.46 1035.25,1378.46"/><polygon points="1026.50,1397.90 1035.25,1382.74 1052.75,1382.74 1061.50,1397.90 1052.75,1413.06 1035.25,1413.06"/><polygon points="1026.50,1432.50 1035.25,1417.34 1052.75,1417.34 1061.50,1432.50 1052.75,1447.66 1035.25,1447.66"/><polygon points="1026.50,1467.10 1035.25,1451.94 1052.75,1451.94 1061.50,1467.10 1052.75,1482.26 1035.25,1482.26"/></g>
<g id="hx11f"><polygon points="1261.40,1210.00 1267.80,1198.91 1280.60,1198.91 1287.00,1210.00 1280.60,1221.09 1267.80,1221.09"/><polygon points="1261.40,1235.20 1267.80,1224.11 1280.60,1224.11 1287.00,1235.20 1280.60,1246.29 1267.80,1246.29"/><polygon points="1261.40,1260.40 1267.80,1249.31 1280.60,1249.31 1287.00,1260.40 1280.60,1271.49 1267.80,1271.49"/><polygon points="1261.40,1285.60 1267.80,1274.51 1280.60,1274.51 1287.00,1285.60 1280.60,1296.69 1267.80,1296.69"/><polygon points="1261.40,1310.80 1267.80,1299.71 1280.60,1299.71 1287.00,1310.80 1280.60,1321.89 1267.80,1321.89"/><polygon points="1261.40,1336.00 1267.80,1324.91 1280.60,1324.91 1287.00,1336.00 1280.60,1347.09 1267.80,1347.09"/><polygon points="1261.40,1361.20 1267.80,1350.11 1280.60,1350.11 1287.00,1361.20 1280.60,1372.29 1267.80,1372.29"/><polygon points="1261.40,1386.40 1267.80,1375.31 1280.60,1375.31 1287.00,1386.40 1280.60,1397.49 1267.80,1397.49"/><polygon points="1261.40,1411.60 1267.80,1400.51 1280.60,1400.51 1287.00,1411.60 1280.60,1422.69 1267.80,1422.69"/><polygon points="1261.40,1436.80 1267.80,1425.71 1280.60,1425.71 1287.00,1436.80 1280.60,1447.89 1267.80,1447.89"/><polygon points="1261.40,1462.00 1267.80,1450.91 1280.60,1450.91 1287.00,1462.00 1280.60,1473.09 1267.80,1473.09"/><polygon points="1284.20,1199.40 1290.60,1188.31 1303.40,1188.31 1309.80,1199.40 1303.40,1210.49 1290.60,1210.49"/><polygon points="1284.20,1224.60 1290.60,1213.51 1303.40,1213.51 1309.80,1224.60 1303.40,1235.69 1290.60,1235.69"/><polygon points="1284.20,1249.80 1290.60,1238.71 1303.40,1238.71 1309.80,1249.80 1303.40,1260.89 1290.60,1260.89"/><polygon points="1284.20,1275.00 1290.60,1263.91 1303.40,1263.91 1309.80,1275.00 1303.40,1286.09 1290.60,1286.09"/><polygon points="1284.20,1300.20 1290.60,1289.11 1303.40,1289.11 1309.80,1300.20 1303.40,1311.29 1290.60,1311.29"/><polygon points="1284.20,1325.40 1290.60,1314.31 1303.40,1314.31 1309.80,1325.40 1303.40,1336.49 1290.60,1336.49"/><polygon points="1284.20,1350.60 1290.60,1339.51 1303.40,1339.51 1309.80,1350.60 1303.40,1361.69 1290.60,1361.69"/><polygon points="1284.20,1375.80 1290.60,1364.71 1303.40,1364.71 1309.80,1375.80 1303.40,1386.89 1290.60,1386.89"/><polygon points="1284.20,1401.00 1290.60,1389.91 1303.40,1389.91 1309.80,1401.00 1303.40,1412.09 1290.60,1412.09"/><polygon points="1284.20,1426.20 1290.60,1415.11 1303.40,1415.11 1309.80,1426.20 1303.40,1437.29 1290.60,1437.29"/><polygon points="1284.20,1451.40 1290.60,1440.31 1303.40,1440.31 1309.80,1451.40 1303.40,1462.49 1290.60,1462.49"/><polygon points="1306.60,1213.90 1313.00,1202.81 1325.80,1202.81 1332.20,1213.90 1325.80,1224.99 1313.00,1224.99"/><polygon points="1306.60,1239.10 1313.00,1228.01 1325.80,1228.01 1332.20,1239.10 1325.80,1250.19 1313.00,1250.19"/><polygon points="1306.60,1264.30 1313.00,1253.21 1325.80,1253.21 1332.20,1264.30 1325.80,1275.39 1313.00,1275.39"/><polygon points="1306.60,1289.50 1313.00,1278.41 1325.80,1278.41 1332.20,1289.50 1325.80,1300.59 1313.00,1300.59"/><polygon points="1306.60,1314.70 1313.00,1303.61 1325.80,1303.61 1332.20,1314.70 1325.80,1325.79 1313.00,1325.79"/><polygon points="1306.60,1339.90 1313.00,1328.81 1325.80,1328.81 1332.20,1339.90 1325.80,1350.99 1313.00,1350.99"/><polygon points="1306.60,1365.10 1313.00,1354.01 1325.80,1354.01 1332.20,1365.10 1325.80,1376.19 1313.00,1376.19"/><polygon points="1306.60,1390.30 1313.00,1379.21 1325.80,1379.21 1332.20,1390.30 1325.80,1401.39 1313.00,1401.39"/><polygon points="1306.60,1415.50 1313.00,1404.41 1325.80,1404.41 1332.20,1415.50 1325.80,1426.59 1313.00,1426.59"/><polygon points="1306.60,1440.70 1313.00,1429.61 1325.80,1429.61 1332.20,1440.70 1325.80,1451.79 1313.00,1451.79"/><polygon points="1306.60,1465.90 1313.00,1454.81 1325.80,1454.81 1332.20,1465.90 1325.80,1476.99 1313.00,1476.99"/><polygon points="1328.80,1201.30 1335.20,1190.21 1348.00,1190.21 1354.40,1201.30 1348.00,1212.39 1335.20,1212.39"/><polygon points="1328.80,1226.50 1335.20,1215.41 1348.00,1215.41 1354.40,1226.50 1348.00,1237.59 1335.20,1237.59"/><polygon points="1328.80,1251.70 1335.20,1240.61 1348.00,1240.61 1354.40,1251.70 1348.00,1262.79 1335.20,1262.79"/><polygon points="1328.80,1276.90 1335.20,1265.81 1348.00,1265.81 1354.40,1276.90 1348.00,1287.99 1335.20,1287.99"/><polygon points="1328.80,1302.10 1335.20,1291.01 1348.00,1291.01 1354.40,1302.10 1348.00,1313.19 1335.20,1313.19"/><polygon points="1328.80,1327.30 1335.20,1316.21 1348.00,1316.21 1354.40,1327.30 1348.00,1338.39 1335.20,1338.39"/><polygon points="1328.80,1352.50 1335.20,1341.41 1348.00,1341.41 1354.40,1352.50 1348.00,1363.59 1335.20,1363.59"/><polygon points="1328.80,1377.70 1335.20,1366.61 1348.00,1366.61 1354.40,1377.70 1348.00,1388.79 1335.20,1388.79"/><polygon points="1328.80,1402.90 1335.20,1391.81 1348.00,1391.81 1354.40,1402.90 1348.00,1413.99 1335.20,1413.99"/><polygon points="1328.80,1428.10 1335.20,1417.01 1348.00,1417.01 1354.40,1428.10 1348.00,1439.19 1335.20,1439.19"/><polygon points="1328.80,1453.30 1335.20,1442.21 1348.00,1442.21 1354.40,1453.30 1348.00,1464.39 1335.20,1464.39"/><polygon points="1351.50,1188.10 1357.90,1177.01 1370.70,1177.01 1377.10,1188.10 1370.70,1199.19 1357.90,1199.19"/><polygon points="1351.50,1213.30 1357.90,1202.21 1370.70,1202.21 1377.10,1213.30 1370.70,1224.39 1357.90,1224.39"/><polygon points="1351.50,1238.50 1357.90,1227.41 1370.70,1227.41 1377.10,1238.50 1370.70,1249.59 1357.90,1249.59"/><polygon points="1351.50,1263.70 1357.90,1252.61 1370.70,1252.61 1377.10,1263.70 1370.70,1274.79 1357.90,1274.79"/><polygon points="1351.50,1288.90 1357.90,1277.81 1370.70,1277.81 1377.10,1288.90 1370.70,1299.99 1357.90,1299.99"/><polygon points="1351.50,1314.10 1357.90,1303.01 1370.70,1303.01 1377.10,1314.10 1370.70,1325.19 1357.90,1325.19"/><polygon points="1351.50,1339.30 1357.90,1328.21 1370.70,1328.21 1377.10,1339.30 1370.70,1350.39 1357.90,1350.39"/><polygon points="1351.50,1364.50 1357.90,1353.41 1370.70,1353.41 1377.10,1364.50 1370.70,1375.59 1357.90,1375.59"/><polygon points="1351.50,1389.70 1357.90,1378.61 1370.70,1378.61 1377.10,1389.70 1370.70,1400.79 1357.90,1400.79"/><polygon points="1351.50,1414.90 1357.90,1403.81 1370.70,1403.81 1377.10,1414.90 1370.70,1425.99 1357.90,1425.99"/><polygon points="1351.50,1440.10 1357.90,1429.01 1370.70,1429.01 1377.10,1440.10 1370.70,1451.19 1357.90,1451.19"/><polygon points="1351.50,1465.30 1357.90,1454.21 1370.70,1454.21 1377.10,1465.30 1370.70,1476.39 1357.90,1476.39"/><polygon points="1373.80,1200.30 1380.20,1189.21 1393.00,1189.21 1399.40,1200.30 1393.00,1211.39 1380.20,1211.39"/><polygon points="1373.80,1225.50 1380.20,1214.41 1393.00,1214.41 1399.40,1225.50 1393.00,1236.59 1380.20,1236.59"/><polygon points="1373.80,1250.70 1380.20,1239.61 1393.00,1239.61 1399.40,1250.70 1393.00,1261.79 1380.20,1261.79"/><polygon points="1373.80,1275.90 1380.20,1264.81 1393.00,1264.81 1399.40,1275.90 1393.00,1286.99 1380.20,1286.99"/><polygon points="1373.80,1301.10 1380.20,1290.01 1393.00,1290.01 1399.40,1301.10 1393.00,1312.19 1380.20,1312.19"/><polygon points="1373.80,1326.30 1380.20,1315.21 1393.00,1315.21 1399.40,1326.30 1393.00,1337.39 1380.20,1337.39"/><polygon points="1373.80,1351.50 1380.20,1340.41 1393.00,1340.41 1399.40,1351.50 1393.00,1362.59 1380.20,1362.59"/><polygon points="1373.80,1376.70 1380.20,1365.61 1393.00,1365.61 1399.40,1376.70 1393.00,1387.79 1380.20,1387.79"/><polygon points="1373.80,1401.90 1380.20,1390.81 1393.00,1390.81 1399.40,1401.90 1393.00,1412.99 1380.20,1412.99"/><polygon points="1373.80,1427.10 1380.20,1416.01 1393.00,1416.01 1399.40,1427.10 1393.00,1438.19 1380.20,1438.19"/><polygon points="1373.80,1452.30 1380.20,1441.21 1393.00,1441.21 1399.40,1452.30 1393.00,1463.39 1380.20,1463.39"/><polygon points="1396.10,1213.00 1402.50,1201.91 1415.30,1201.91 1421.70,1213.00 1415.30,1224.09 1402.50,1224.09"/><polygon points="1396.10,1238.20 1402.50,1227.11 1415.30,1227.11 1421.70,1238.20 1415.30,1249.29 1402.50,1249.29"/><polygon points="1396.10,1263.40 1402.50,1252.31 1415.30,1252.31 1421.70,1263.40 1415.30,1274.49 1402.50,1274.49"/><polygon points="1396.10,1288.60 1402.50,1277.51 1415.30,1277.51 1421.70,1288.60 1415.30,1299.69 1402.50,1299.69"/><polygon points="1396.10,1313.80 1402.50,1302.71 1415.30,1302.71 1421.70,1313.80 1415.30,1324.89 1402.50,1324.89"/><polygon points="1396.10,1339.00 1402.50,1327.91 1415.30,1327.91 1421.70,1339.00 1415.30,1350.09 1402.50,1350.09"/><polygon points="1396.10,1364.20 1402.50,1353.11 1415.30,1353.11 1421.70,1364.20 1415.30,1375.29 1402.50,1375.29"/><polygon points="1396.10,1389.40 1402.50,1378.31 1415.30,1378.31 1421.70,1389.40 1415.30,1400.49 1402.50,1400.49"/><polygon points="1396.10,1414.60 1402.50,1403.51 1415.30,1403.51 1421.70,1414.60 1415.30,1425.69 1402.50,1425.69"/><polygon points="1396.10,1439.80 1402.50,1428.71 1415.30,1428.71 1421.70,1439.80 1415.30,1450.89 1402.50,1450.89"/><polygon points="1396.10,1465.00 1402.50,1453.91 1415.30,1453.91 1421.70,1465.00 1415.30,1476.09 1402.50,1476.09"/><polygon points="1417.80,1200.30 1424.20,1189.21 1437.00,1189.21 1443.40,1200.30 1437.00,1211.39 1424.20,1211.39"/><polygon points="1417.80,1225.50 1424.20,1214.41 1437.00,1214.41 1443.40,1225.50 1437.00,1236.59 1424.20,1236.59"/><polygon points="1417.80,1250.70 1424.20,1239.61 1437.00,1239.61 1443.40,1250.70 1437.00,1261.79 1424.20,1261.79"/><polygon points="1417.80,1275.90 1424.20,1264.81 1437.00,1264.81 1443.40,1275.90 1437.00,1286.99 1424.20,1286.99"/><polygon points="1417.80,1301.10 1424.20,1290.01 1437.00,1290.01 1443.40,1301.10 1437.00,1312.19 1424.20,1312.19"/><polygon points="1417.80,1326.30 1424.20,1315.21 1437.00,1315.21 1443.40,1326.30 1437.00,1337.39 1424.20,1337.39"/><polygon points="1417.80,1351.50 1424.20,1340.41 1437.00,1340.41 1443.40,1351.50 1437.00,1362.59 1424.20,1362.59"/><polygon points="1417.80,1376.70 1424.20,1365.61 1437.00,1365.61 1443.40,1376.70 1437.00,1387.79 1424.20,1387.79"/><polygon points="1417.80,1401.90 1424.20,1390.81 1437.00,1390.81 1443.40,1401.90 1437.00,1412.99 1424.20,1412.99"/><polygon points="1417.80,1427.10 1424.20,1416.01 1437.00,1416.01 1443.40,1427.10 1437.00,1438.19 1424.20,1438.19"/><polygon points="1417.80,1452.30 1424.20,1441.21 1437.00,1441.21 1443.40,1452.30 1437.00,1463.39 1424.20,1463.39"/><polygon points="1440.60,1213.00 1447.00,1201.91 1459.80,1201.91 1466.20,1213.00 1459.80,1224.09 1447.00,1224.09"/><polygon points="1440.60,1238.20 1447.00,1227.11 1459.80,1227.11 1466.20,1238.20 1459.80,1249.29 1447.00,1249.29"/><polygon points="1440.60,1263.40 1447.00,1252.31 1459.80,1252.31 1466.20,1263.40 1459.80,1274.49 1447.00,1274.49"/><polygon points="1440.60,1288.60 1447.00,1277.51 1459.80,1277.51 1466.20,1288.60 1459.80,1299.69 1447.00,1299.69"/><polygon points="1440.60,1313.80 1447.00,1302.71 1459.80,1302.71 1466.20,1313.80 1459.80,1324.89 1447.00,1324.89"/><polygon points="1440.60,1339.00 1447.00,1327.91 1459.80,1327.91 1466.20,1339.00 1459.80,1350.09 1447.00,1350.09"/><polygon points="1440.60,1364.20 1447.00,1353.11 1459.80,1353.11 1466.20,1364.20 1459.80,1375.29 1447.00,1375.29"/><polygon points="1440.60,1389.40 1447.00,1378.31 1459.80,1378.31 1466.20,1389.40 1459.80,1400.49 1447.00,1400.49"/><polygon points="1440.60,1414.60 1447.00,1403.51 1459.80,1403.51 1466.20,1414.60 1459.80,1425.69 1447.00,1425.69"/><polygon points="1440.60,1439.80 1447.00,1428.71 1459.80,1428.71 1466.20,1439.80 1459.80,1450.89 1447.00,1450.89"/><polygon points="1440.60,1465.00 1447.00,1453.91 1459.80,1453.91 1466.20,1465.00 1459.80,1476.09 1447.00,1476.09"/></g>
<g id="hx11b"><polygon points="1417.80,1200.30 1424.20,1189.21 1437.00,1189.21 1443.40,1200.30 1437.00,1211.39 1424.20,1211.39"/><polygon points="1417.80,1225.50 1424.20,1214.41 1437.00,1214.41 1443.40,1225.50 1437.00,1236.59 1424.20,1236.59"/><polygon points="1417.80,1250.70 1424.20,1239.61 1437.00,1239.61 1443.40,1250.70 1437.00,1261.79 1424.20,1261.79"/><polygon points="1417.80,1275.90 1424.20,1264.81 1437.00,1264.81 1443.40,1275.90 1437.00,1286.99 1424.20,1286.99"/><polygon points="1417.80,1301.10 1424.20,1290.01 1437.00,1290.01 1443.40,1301.10 1437.00,1312.19 1424.20,1312.19"/><polygon points="1417.80,1326.30 1424.20,1315.21 1437.00,1315.21 1443.40,1326.30 1437.00,1337.39 1424.20,1337.39"/><polygon points="1417.80,1351.50 1424.20,1340.41 1437.00,1340.41 1443.40,1351.50 1437.00,1362.59 1424.20,1362.59"/><polygon points="1417.80,1376.70 1424.20,1365.61 1437.00,1365.61 1443.40,1376.70 1437.00,1387.79 1424.20,1387.79"/><polygon points="1417.80,1401.90 1424.20,1390.81 1437.00,1390.81 1443.40,1401.90 1437.00,1412.99 1424.20,1412.99"/><polygon points="1417.80,1427.10 1424.20,1416.01 1437.00,1416.01 1443.40,1427.10 1437.00,1438.19 1424.20,1438.19"/><polygon points="1417.80,1452.30 1424.20,1441.21 1437.00,1441.21 1443.40,1452.30 1437.00,1463.39 1424.20,1463.39"/><polygon points="1440.60,1213.00 1447.00,1201.91 1459.80,1201.91 1466.20,1213.00 1459.80,1224.09 1447.00,1224.09"/><polygon points="1440.60,1238.20 1447.00,1227.11 1459.80,1227.11 1466.20,1238.20 1459.80,1249.29 1447.00,1249.29"/><polygon points="1440.60,1263.40 1447.00,1252.31 1459.80,1252.31 1466.20,1263.40 1459.80,1274.49 1447.00,1274.49"/><polygon points="1440.60,1288.60 1447.00,1277.51 1459.80,1277.51 1466.20,1288.60 1459.80,1299.69 1447.00,1299.69"/><polygon points="1440.60,1313.80 1447.00,1302.71 1459.80,1302.71 1466.20,1313.80 1459.80,1324.89 1447.00,1324.89"/><polygon points="1440.60,1339.00 1447.00,1327.91 1459.80,1327.91 1466.20,1339.00 1459.80,1350.09 1447.00,1350.09"/><polygon points="1440.60,1364.20 1447.00,1353.11 1459.80,1353.11 1466.20,1364.20 1459.80,1375.29 1447.00,1375.29"/><polygon points="1440.60,1389.40 1447.00,1378.31 1459.80,1378.31 1466.20,1389.40 1459.80,1400.49 1447.00,1400.49"/><polygon points="1440.60,1414.60 1447.00,1403.51 1459.80,1403.51 1466.20,1414.60 1459.80,1425.69 1447.00,1425.69"/><polygon points="1440.60,1439.80 1447.00,1428.71 1459.80,1428.71 1466.20,1439.80 1459.80,1450.89 1447.00,1450.89"/><polygon points="1440.60,1465.00 1447.00,1453.91 1459.80,1453.91 1466.20,1465.00 1459.80,1476.09 1447.00,1476.09"/></g>
<g id="pc0"><rect x="49.75" y="68.00" width="221.35" height="443.30" fill="none" stroke="#f4ede4" stroke-width="2.4"/>
<text x="63.40" y="105.70" font-size="24.6" font-weight="normal" textLength="8.87" lengthAdjust="spacingAndGlyphs" fill="#2b2321" stroke="#2b2321" stroke-width="0.8" stroke-linejoin="round" >1</text>
<text x="73.66" y="105.85" font-size="23.1" font-weight="bold" textLength="13.19" lengthAdjust="spacingAndGlyphs" fill="#2b2321" stroke="#2b2321" stroke-width="0.5" stroke-linejoin="round" >€</text>
<text transform="scale(0.58,1)" x="160.52" y="104.90" font-size="20.6" font-weight="normal" textLength="115.69" lengthAdjust="spacing" fill="#2b2321" stroke="#2b2321" stroke-width="1.0" stroke-linejoin="round" vector-effect="non-scaling-stroke" >SAVINGS</text>
<text transform="scale(0.58,1)" x="178.45" y="131.80" font-size="20.6" font-weight="normal" textLength="275.69" lengthAdjust="spacing" fill="#2b2321" stroke="#2b2321" stroke-width="1.0" stroke-linejoin="round" vector-effect="non-scaling-stroke" >CHALLENGE TRACKER</text>
<use href="#hx0f" fill="#000" fill-opacity="0.22" stroke="#000" stroke-opacity="0.22" stroke-width="1" transform="translate(0.3,1.0)"/>
<use href="#hx0f" fill="#f3ece6" stroke="#3a3230" stroke-width="1.0"/>
<g text-anchor="middle" fill="#35302e" font-weight="normal"><text x="85.68" y="215.38" font-size="18.0" textLength="19.22" lengthAdjust="spacingAndGlyphs">1€</text><text x="85.68" y="257.38" font-size="18.0" textLength="19.22" lengthAdjust="spacingAndGlyphs">1€</text><text x="85.68" y="299.38" font-size="18.0" textLength="19.22" lengthAdjust="spacingAndGlyphs">1€</text><text x="85.68" y="341.38" font-size="18.0" textLength="19.22" lengthAdjust="spacingAndGlyphs">1€</text><text x="85.68" y="383.38" font-size="18.0" textLength="19.22" lengthAdjust="spacingAndGlyphs">1€</text><text x="85.68" y="425.38" font-size="18.0" textLength="19.22" lengthAdjust="spacingAndGlyphs">1€</text><text x="122.48" y="194.88" font-size="18.0" textLength="19.22" lengthAdjust="spacingAndGlyphs">1€</text><text x="122.48" y="236.88" font-size="18.0" textLength="19.22" lengthAdjust="spacingAndGlyphs">1€</text><text x="122.48" y="278.88" font-size="18.0" textLength="19.22" lengthAdjust="spacingAndGlyphs">1€</text><text x="122.48" y="320.88" font-size="18.0" textLength="19.22" lengthAdjust="spacingAndGlyphs">1€</text><text x="122.48" y="362.88" font-size="18.0" textLength="19.22" lengthAdjust="spacingAndGlyphs">1€</text><text x="122.48" y="404.88" font-size="18.0" textLength="19.22" lengthAdjust="spacingAndGlyphs">1€</text><text x="159.38" y="215.48" font-size="18.0" textLength="19.22" lengthAdjust="spacingAndGlyphs">1€</text><text x="159.38" y="257.48" font-size="18.0" textLength="19.22" lengthAdjust="spacingAndGlyphs">1€</text><text x="159.38" y="299.48" font-size="18.0" textLength="19.22" lengthAdjust="spacingAndGlyphs">1€</text><text x="159.38" y="341.48" font-size="18.0" textLength="19.22" lengthAdjust="spacingAndGlyphs">1€</text><text x="159.38" y="383.48" font-size="18.0" textLength="19.22" lengthAdjust="spacingAndGlyphs">1€</text><text x="159.38" y="425.48" font-size="18.0" textLength="19.22" lengthAdjust="spacingAndGlyphs">1€</text><text x="196.18" y="194.88" font-size="18.0" textLength="19.22" lengthAdjust="spacingAndGlyphs">1€</text><text x="196.18" y="236.88" font-size="18.0" textLength="19.22" lengthAdjust="spacingAndGlyphs">1€</text><text x="196.18" y="278.88" font-size="18.0" textLength="19.22" lengthAdjust="spacingAndGlyphs">1€</text><text x="196.18" y="320.88" font-size="18.0" textLength="19.22" lengthAdjust="spacingAndGlyphs">1€</text><text x="196.18" y="362.88" font-size="18.0" textLength="19.22" lengthAdjust="spacingAndGlyphs">1€</text><text x="196.18" y="404.88" font-size="18.0" textLength="19.22" lengthAdjust="spacingAndGlyphs">1€</text><text x="233.48" y="217.78" font-size="18.0" textLength="19.22" lengthAdjust="spacingAndGlyphs">1€</text><text x="233.48" y="259.78" font-size="18.0" textLength="19.22" lengthAdjust="spacingAndGlyphs">1€</text><text x="233.48" y="301.78" font-size="18.0" textLength="19.22" lengthAdjust="spacingAndGlyphs">1€</text><text x="233.48" y="343.78" font-size="18.0" textLength="19.22" lengthAdjust="spacingAndGlyphs">1€</text><text x="233.48" y="385.78" font-size="18.0" textLength="19.22" lengthAdjust="spacingAndGlyphs">1€</text><text x="233.48" y="427.78" font-size="18.0" textLength="19.22" lengthAdjust="spacingAndGlyphs">1€</text></g></g>
<g id="pb0"><rect x="49.75" y="68.00" width="221.35" height="443.30" fill="none" stroke="#f4ede4" stroke-width="2.4"/>
<text x="63.40" y="105.70" font-size="24.6" font-weight="normal" textLength="8.87" lengthAdjust="spacingAndGlyphs" fill="#2b2321" stroke="#2b2321" stroke-width="0.8" stroke-linejoin="round" >1</text>
<text x="73.66" y="105.85" font-size="23.1" font-weight="bold" textLength="13.19" lengthAdjust="spacingAndGlyphs" fill="#2b2321" stroke="#2b2321" stroke-width="0.5" stroke-linejoin="round" >€</text>
<text transform="scale(0.58,1)" x="160.52" y="104.90" font-size="20.6" font-weight="normal" textLength="115.69" lengthAdjust="spacing" fill="#2b2321" stroke="#2b2321" stroke-width="1.0" stroke-linejoin="round" vector-effect="non-scaling-stroke" >SAVINGS</text>
<text transform="scale(0.58,1)" x="178.45" y="131.80" font-size="20.6" font-weight="normal" textLength="275.69" lengthAdjust="spacing" fill="#2b2321" stroke="#2b2321" stroke-width="1.0" stroke-linejoin="round" vector-effect="non-scaling-stroke" >CHALLENGE TRACKER</text>
<use href="#hx0b" fill="#000" fill-opacity="0.22" stroke="#000" stroke-opacity="0.22" stroke-width="1" transform="translate(0.3,1.0)"/>
<use href="#hx0b" fill="#f3ece6" stroke="#3a3230" stroke-width="1.0"/>
<g text-anchor="middle" fill="#35302e" font-weight="normal"><text x="233.48" y="217.78" font-size="18.0" textLength="19.22" lengthAdjust="spacingAndGlyphs">1€</text><text x="233.48" y="259.78" font-size="18.0" textLength="19.22" lengthAdjust="spacingAndGlyphs">1€</text><text x="233.48" y="301.78" font-size="18.0" textLength="19.22" lengthAdjust="spacingAndGlyphs">1€</text><text x="233.48" y="343.78" font-size="18.0" textLength="19.22" lengthAdjust="spacingAndGlyphs">1€</text><text x="233.48" y="385.78" font-size="18.0" textLength="19.22" lengthAdjust="spacingAndGlyphs">1€</text><text x="233.48" y="427.78" font-size="18.0" textLength="19.22" lengthAdjust="spacingAndGlyphs">1€</text></g></g>
<g id="pc1"><rect x="452.75" y="67.80" width="222.35" height="443.70" fill="none" stroke="#d6eeea" stroke-width="2.4"/>
<text x="464.15" y="107.10" font-size="24.6" font-weight="normal" textLength="8.82" lengthAdjust="spacingAndGlyphs" fill="#2b2321" stroke="#2b2321" stroke-width="0.8" stroke-linejoin="round" >2</text>
<text x="474.36" y="107.25" font-size="23.1" font-weight="bold" textLength="13.19" lengthAdjust="spacingAndGlyphs" fill="#2b2321" stroke="#2b2321" stroke-width="0.5" stroke-linejoin="round" >€</text>
<text transform="scale(0.58,1)" x="851.38" y="104.90" font-size="20.6" font-weight="normal" textLength="115.69" lengthAdjust="spacing" fill="#2b2321" stroke="#2b2321" stroke-width="1.0" stroke-linejoin="round" vector-effect="non-scaling-stroke" >SAVINGS</text>
<text transform="scale(0.58,1)" x="869.14" y="131.10" font-size="19.6" font-weight="normal" textLength="277.07" lengthAdjust="spacing" fill="#2b2321" stroke="#2b2321" stroke-width="1.0" stroke-linejoin="round" vector-effect="non-scaling-stroke" >CHALLENGE TRACKER</text>
<use href="#hx1f" fill="#000" fill-opacity="0.22" stroke="#000" stroke-opacity="0.22" stroke-width="1" transform="translate(0.3,1.0)"/>
<use href="#hx1f" fill="#cde8e4" stroke="#3a3230" stroke-width="1.0"/>
<g text-anchor="middle" fill="#35302e" font-weight="normal"><text x="488.68" y="215.18" font-size="18.0" textLength="19.22" lengthAdjust="spacingAndGlyphs">2€</text><text x="488.68" y="257.18" font-size="18.0" textLength="19.22" lengthAdjust="spacingAndGlyphs">2€</text><text x="488.68" y="299.18" font-size="18.0" textLength="19.22" lengthAdjust="spacingAndGlyphs">2€</text><text x="488.68" y="341.18" font-size="18.0" textLength="19.22" lengthAdjust="spacingAndGlyphs">2€</text><text x="488.68" y="383.18" font-size="18.0" textLength="19.22" lengthAdjust="spacingAndGlyphs">2€</text><text x="488.68" y="425.18" font-size="18.0" textLength="19.22" lengthAdjust="spacingAndGlyphs">2€</text><text x="525.48" y="194.68" font-size="18.0" textLength="19.22" lengthAdjust="spacingAndGlyphs">2€</text><text x="525.48" y="236.68" font-size="18.0" textLength="19.22" lengthAdjust="spacingAndGlyphs">2€</text><text x="525.48" y="278.68" font-size="18.0" textLength="19.22" lengthAdjust="spacingAndGlyphs">2€</text><text x="525.48" y="320.68" font-size="18.0" textLength="19.22" lengthAdjust="spacingAndGlyphs">2€</text><text x="525.48" y="362.68" font-size="18.0" textLength="19.22" lengthAdjust="spacingAndGlyphs">2€</text><text x="525.48" y="404.68" font-size="18.0" textLength="19.22" lengthAdjust="spacingAndGlyphs">2€</text><text x="562.38" y="215.28" font-size="18.0" textLength="19.22" lengthAdjust="spacingAndGlyphs">2€</text><text x="562.38" y="257.28" font-size="18.0" textLength="19.22" lengthAdjust="spacingAndGlyphs">2€</text><text x="562.38" y="299.28" font-size="18.0" textLength="19.22" lengthAdjust="spacingAndGlyphs">2€</text><text x="562.38" y="341.28" font-size="18.0" textLength="19.22" lengthAdjust="spacingAndGlyphs">2€</text><text x="562.38" y="383.28" font-size="18.0" textLength="19.22" lengthAdjust="spacingAndGlyphs">2€</text><text x="562.38" y="425.28" font-size="18.0" textLength="19.22" lengthAdjust="spacingAndGlyphs">2€</text><text x="599.18" y="194.68" font-size="18.0" textLength="19.22" lengthAdjust="spacingAndGlyphs">2€</text><text x="599.18" y="236.68" font-size="18.0" textLength="19.22" lengthAdjust="spacingAndGlyphs">2€</text><text x="599.18" y="278.68" font-size="18.0" textLength="19.22" lengthAdjust="spacingAndGlyphs">2€</text><text x="599.18" y="320.68" font-size="18.0" textLength="19.22" lengthAdjust="spacingAndGlyphs">2€</text><text x="599.18" y="362.68" font-size="18.0" textLength="19.22" lengthAdjust="spacingAndGlyphs">2€</text><text x="599.18" y="404.68" font-size="18.0" textLength="19.22" lengthAdjust="spacingAndGlyphs">2€</text><text x="636.48" y="217.58" font-size="18.0" textLength="19.22" lengthAdjust="spacingAndGlyphs">2€</text><text x="636.48" y="259.58" font-size="18.0" textLength="19.22" lengthAdjust="spacingAndGlyphs">2€</text><text x="636.48" y="301.58" font-size="18.0" textLength="19.22" lengthAdjust="spacingAndGlyphs">2€</text><text x="636.48" y="343.58" font-size="18.0" textLength="19.22" lengthAdjust="spacingAndGlyphs">2€</text><text x="636.48" y="385.58" font-size="18.0" textLength="19.22" lengthAdjust="spacingAndGlyphs">2€</text><text x="636.48" y="427.58" font-size="18.0" textLength="19.22" lengthAdjust="spacingAndGlyphs">2€</text></g></g>
<g id="pb1"><rect x="452.75" y="67.80" width="222.35" height="443.70" fill="none" stroke="#d6eeea" stroke-width="2.4"/>
<text x="464.15" y="107.10" font-size="24.6" font-weight="normal" textLength="8.82" lengthAdjust="spacingAndGlyphs" fill="#2b2321" stroke="#2b2321" stroke-width="0.8" stroke-linejoin="round" >2</text>
<text x="474.36" y="107.25" font-size="23.1" font-weight="bold" textLength="13.19" lengthAdjust="spacingAndGlyphs" fill="#2b2321" stroke="#2b2321" stroke-width="0.5" stroke-linejoin="round" >€</text>
<text transform="scale(0.58,1)" x="851.38" y="104.90" font-size="20.6" font-weight="normal" textLength="115.69" lengthAdjust="spacing" fill="#2b2321" stroke="#2b2321" stroke-width="1.0" stroke-linejoin="round" vector-effect="non-scaling-stroke" >SAVINGS</text>
<text transform="scale(0.58,1)" x="869.14" y="131.10" font-size="19.6" font-weight="normal" textLength="277.07" lengthAdjust="spacing" fill="#2b2321" stroke="#2b2321" stroke-width="1.0" stroke-linejoin="round" vector-effect="non-scaling-stroke" >CHALLENGE TRACKER</text>
<use href="#hx1b" fill="#000" fill-opacity="0.22" stroke="#000" stroke-opacity="0.22" stroke-width="1" transform="translate(0.3,1.0)"/>
<use href="#hx1b" fill="#cde8e4" stroke="#3a3230" stroke-width="1.0"/>
<g text-anchor="middle" fill="#35302e" font-weight="normal"><text x="636.48" y="217.58" font-size="18.0" textLength="19.22" lengthAdjust="spacingAndGlyphs">2€</text><text x="636.48" y="259.58" font-size="18.0" textLength="19.22" lengthAdjust="spacingAndGlyphs">2€</text><text x="636.48" y="301.58" font-size="18.0" textLength="19.22" lengthAdjust="spacingAndGlyphs">2€</text><text x="636.48" y="343.58" font-size="18.0" textLength="19.22" lengthAdjust="spacingAndGlyphs">2€</text><text x="636.48" y="385.58" font-size="18.0" textLength="19.22" lengthAdjust="spacingAndGlyphs">2€</text><text x="636.48" y="427.58" font-size="18.0" textLength="19.22" lengthAdjust="spacingAndGlyphs">2€</text></g></g>
<g id="pc2"><rect x="859.25" y="68.50" width="221.85" height="442.50" fill="none" stroke="#f8e4ea" stroke-width="2.4"/>
<text x="872.40" y="106.30" font-size="22.8" font-weight="normal" textLength="11.58" lengthAdjust="spacingAndGlyphs" fill="#2b2321" stroke="#2b2321" stroke-width="0.8" stroke-linejoin="round" >5</text>
<text x="885.32" y="106.45" font-size="21.4" font-weight="bold" textLength="12.23" lengthAdjust="spacingAndGlyphs" fill="#2b2321" stroke="#2b2321" stroke-width="0.5" stroke-linejoin="round" >€</text>
<text transform="scale(0.58,1)" x="1558.28" y="105.50" font-size="20.4" font-weight="normal" textLength="114.14" lengthAdjust="spacing" fill="#2b2321" stroke="#2b2321" stroke-width="1.0" stroke-linejoin="round" vector-effect="non-scaling-stroke" >SAVINGS</text>
<text transform="scale(0.58,1)" x="1566.38" y="132.00" font-size="20.3" font-weight="normal" textLength="275.86" lengthAdjust="spacing" fill="#2b2321" stroke="#2b2321" stroke-width="1.0" stroke-linejoin="round" vector-effect="non-scaling-stroke" >CHALLENGE TRACKER</text>
<use href="#hx2f" fill="#000" fill-opacity="0.22" stroke="#000" stroke-opacity="0.22" stroke-width="1" transform="translate(0.3,1.0)"/>
<use href="#hx2f" fill="#f6dde4" stroke="#3a3230" stroke-width="1.0"/>
<g text-anchor="middle" fill="#35302e" font-weight="normal"><text x="895.18" y="215.88" font-size="18.0" textLength="19.22" lengthAdjust="spacingAndGlyphs">5€</text><text x="895.18" y="257.88" font-size="18.0" textLength="19.22" lengthAdjust="spacingAndGlyphs">5€</text><text x="895.18" y="299.88" font-size="18.0" textLength="19.22" lengthAdjust="spacingAndGlyphs">5€</text><text x="895.18" y="341.88" font-size="18.0" textLength="19.22" lengthAdjust="spacingAndGlyphs">5€</text><text x="895.18" y="383.88" font-size="18.0" textLength="19.22" lengthAdjust="spacingAndGlyphs">5€</text><text x="895.18" y="425.88" font-size="18.0" textLength="19.22" lengthAdjust="spacingAndGlyphs">5€</text><text x="931.98" y="195.38" font-size="18.0" textLength="19.22" lengthAdjust="spacingAndGlyphs">5€</text><text x="931.98" y="237.38" font-size="18.0" textLength="19.22" lengthAdjust="spacingAndGlyphs">5€</text><text x="931.98" y="279.38" font-size="18.0" textLength="19.22" lengthAdjust="spacingAndGlyphs">5€</text><text x="931.98" y="321.38" font-size="18.0" textLength="19.22" lengthAdjust="spacingAndGlyphs">5€</text><text x="931.98" y="363.38" font-size="18.0" textLength="19.22" lengthAdjust="spacingAndGlyphs">5€</text><text x="931.98" y="405.38" font-size="18.0" textLength="19.22" lengthAdjust="spacingAndGlyphs">5€</text><text x="968.88" y="215.98" font-size="18.0" textLength="19.22" lengthAdjust="spacingAndGlyphs">5€</text><text x="968.88" y="257.98" font-size="18.0" textLength="19.22" lengthAdjust="spacingAndGlyphs">5€</text><text x="968.88" y="299.98" font-size="18.0" textLength="19.22" lengthAdjust="spacingAndGlyphs">5€</text><text x="968.88" y="341.98" font-size="18.0" textLength="19.22" lengthAdjust="spacingAndGlyphs">5€</text><text x="968.88" y="383.98" font-size="18.0" textLength="19.22" lengthAdjust="spacingAndGlyphs">5€</text><text x="968.88" y="425.98" font-size="18.0" textLength="19.22" lengthAdjust="spacingAndGlyphs">5€</text><text x="1005.68" y="195.38" font-size="18.0" textLength="19.22" lengthAdjust="spacingAndGlyphs">5€</text><text x="1005.68" y="237.38" font-size="18.0" textLength="19.22" lengthAdjust="spacingAndGlyphs">5€</text><text x="1005.68" y="279.38" font-size="18.0" textLength="19.22" lengthAdjust="spacingAndGlyphs">5€</text><text x="1005.68" y="321.38" font-size="18.0" textLength="19.22" lengthAdjust="spacingAndGlyphs">5€</text><text x="1005.68" y="363.38" font-size="18.0" textLength="19.22" lengthAdjust="spacingAndGlyphs">5€</text><text x="1005.68" y="405.38" font-size="18.0" textLength="19.22" lengthAdjust="spacingAndGlyphs">5€</text><text x="1042.98" y="218.28" font-size="18.0" textLength="19.22" lengthAdjust="spacingAndGlyphs">5€</text><text x="1042.98" y="260.28" font-size="18.0" textLength="19.22" lengthAdjust="spacingAndGlyphs">5€</text><text x="1042.98" y="302.28" font-size="18.0" textLength="19.22" lengthAdjust="spacingAndGlyphs">5€</text><text x="1042.98" y="344.28" font-size="18.0" textLength="19.22" lengthAdjust="spacingAndGlyphs">5€</text><text x="1042.98" y="386.28" font-size="18.0" textLength="19.22" lengthAdjust="spacingAndGlyphs">5€</text><text x="1042.98" y="428.28" font-size="18.0" textLength="19.22" lengthAdjust="spacingAndGlyphs">5€</text></g></g>
<g id="pb2"><rect x="859.25" y="68.50" width="221.85" height="442.50" fill="none" stroke="#f8e4ea" stroke-width="2.4"/>
<text x="872.40" y="106.30" font-size="22.8" font-weight="normal" textLength="11.58" lengthAdjust="spacingAndGlyphs" fill="#2b2321" stroke="#2b2321" stroke-width="0.8" stroke-linejoin="round" >5</text>
<text x="885.32" y="106.45" font-size="21.4" font-weight="bold" textLength="12.23" lengthAdjust="spacingAndGlyphs" fill="#2b2321" stroke="#2b2321" stroke-width="0.5" stroke-linejoin="round" >€</text>
<text transform="scale(0.58,1)" x="1558.28" y="105.50" font-size="20.4" font-weight="normal" textLength="114.14" lengthAdjust="spacing" fill="#2b2321" stroke="#2b2321" stroke-width="1.0" stroke-linejoin="round" vector-effect="non-scaling-stroke" >SAVINGS</text>
<text transform="scale(0.58,1)" x="1566.38" y="132.00" font-size="20.3" font-weight="normal" textLength="275.86" lengthAdjust="spacing" fill="#2b2321" stroke="#2b2321" stroke-width="1.0" stroke-linejoin="round" vector-effect="non-scaling-stroke" >CHALLENGE TRACKER</text>
<use href="#hx2b" fill="#000" fill-opacity="0.22" stroke="#000" stroke-opacity="0.22" stroke-width="1" transform="translate(0.3,1.0)"/>
<use href="#hx2b" fill="#f6dde4" stroke="#3a3230" stroke-width="1.0"/>
<g text-anchor="middle" fill="#35302e" font-weight="normal"><text x="1042.98" y="218.28" font-size="18.0" textLength="19.22" lengthAdjust="spacingAndGlyphs">5€</text><text x="1042.98" y="260.28" font-size="18.0" textLength="19.22" lengthAdjust="spacingAndGlyphs">5€</text><text x="1042.98" y="302.28" font-size="18.0" textLength="19.22" lengthAdjust="spacingAndGlyphs">5€</text><text x="1042.98" y="344.28" font-size="18.0" textLength="19.22" lengthAdjust="spacingAndGlyphs">5€</text><text x="1042.98" y="386.28" font-size="18.0" textLength="19.22" lengthAdjust="spacingAndGlyphs">5€</text><text x="1042.98" y="428.28" font-size="18.0" textLength="19.22" lengthAdjust="spacingAndGlyphs">5€</text></g></g>
<g id="pc3"><rect x="1253.75" y="68.50" width="221.35" height="442.95" fill="none" stroke="#d8eefa" stroke-width="2.4"/>
<text x="1265.50" y="107.80" font-size="24.7" font-weight="normal" textLength="19.79" lengthAdjust="spacingAndGlyphs" fill="#2b2321" stroke="#2b2321" stroke-width="0.8" stroke-linejoin="round" >10</text>
<text x="1286.69" y="107.95" font-size="23.2" font-weight="bold" textLength="13.26" lengthAdjust="spacingAndGlyphs" fill="#2b2321" stroke="#2b2321" stroke-width="0.5" stroke-linejoin="round" >€</text>
<text transform="scale(0.58,1)" x="2247.41" y="105.60" font-size="20.6" font-weight="normal" textLength="115.52" lengthAdjust="spacing" fill="#2b2321" stroke="#2b2321" stroke-width="1.0" stroke-linejoin="round" vector-effect="non-scaling-stroke" >SAVINGS</text>
<text transform="scale(0.58,1)" x="2236.72" y="131.80" font-size="20.6" font-weight="normal" textLength="286.38" lengthAdjust="spacing" fill="#2b2321" stroke="#2b2321" stroke-width="1.0" stroke-linejoin="round" vector-effect="non-scaling-stroke" >CHALLENGE TRACKER</text>
<use href="#hx3f" fill="#000" fill-opacity="0.22" stroke="#000" stroke-opacity="0.22" stroke-width="1" transform="translate(0.3,1.0)"/>
<use href="#hx3f" fill="#cbe7f6" stroke="#3a3230" stroke-width="1.0"/>
<g text-anchor="middle" fill="#35302e" font-weight="normal"><text x="1289.68" y="215.88" font-size="18.0" textLength="28.83" lengthAdjust="spacingAndGlyphs">10€</text><text x="1289.68" y="257.88" font-size="18.0" textLength="28.83" lengthAdjust="spacingAndGlyphs">10€</text><text x="1289.68" y="299.88" font-size="18.0" textLength="28.83" lengthAdjust="spacingAndGlyphs">10€</text><text x="1289.68" y="341.88" font-size="18.0" textLength="28.83" lengthAdjust="spacingAndGlyphs">10€</text><text x="1289.68" y="383.88" font-size="18.0" textLength="28.83" lengthAdjust="spacingAndGlyphs">10€</text><text x="1289.68" y="425.88" font-size="18.0" textLength="28.83" lengthAdjust="spacingAndGlyphs">10€</text><text x="1326.48" y="195.38" font-size="18.0" textLength="28.83" lengthAdjust="spacingAndGlyphs">10€</text><text x="1326.48" y="237.38" font-size="18.0" textLength="28.83" lengthAdjust="spacingAndGlyphs">10€</text><text x="1326.48" y="279.38" font-size="18.0" textLength="28.83" lengthAdjust="spacingAndGlyphs">10€</text><text x="1326.48" y="321.38" font-size="18.0" textLength="28.83" lengthAdjust="spacingAndGlyphs">10€</text><text x="1326.48" y="363.38" font-size="18.0" textLength="28.83" lengthAdjust="spacingAndGlyphs">10€</text><text x="1326.48" y="405.38" font-size="18.0" textLength="28.83" lengthAdjust="spacingAndGlyphs">10€</text><text x="1363.38" y="215.98" font-size="18.0" textLength="28.83" lengthAdjust="spacingAndGlyphs">10€</text><text x="1363.38" y="257.98" font-size="18.0" textLength="28.83" lengthAdjust="spacingAndGlyphs">10€</text><text x="1363.38" y="299.98" font-size="18.0" textLength="28.83" lengthAdjust="spacingAndGlyphs">10€</text><text x="1363.38" y="341.98" font-size="18.0" textLength="28.83" lengthAdjust="spacingAndGlyphs">10€</text><text x="1363.38" y="383.98" font-size="18.0" textLength="28.83" lengthAdjust="spacingAndGlyphs">10€</text><text x="1363.38" y="425.98" font-size="18.0" textLength="28.83" lengthAdjust="spacingAndGlyphs">10€</text><text x="1400.18" y="195.38" font-size="18.0" textLength="28.83" lengthAdjust="spacingAndGlyphs">10€</text><text x="1400.18" y="237.38" font-size="18.0" textLength="28.83" lengthAdjust="spacingAndGlyphs">10€</text><text x="1400.18" y="279.38" font-size="18.0" textLength="28.83" lengthAdjust="spacingAndGlyphs">10€</text><text x="1400.18" y="321.38" font-size="18.0" textLength="28.83" lengthAdjust="spacingAndGlyphs">10€</text><text x="1400.18" y="363.38" font-size="18.0" textLength="28.83" lengthAdjust="spacingAndGlyphs">10€</text><text x="1400.18" y="405.38" font-size="18.0" textLength="28.83" lengthAdjust="spacingAndGlyphs">10€</text><text x="1437.48" y="218.28" font-size="18.0" textLength="28.83" lengthAdjust="spacingAndGlyphs">10€</text><text x="1437.48" y="260.28" font-size="18.0" textLength="28.83" lengthAdjust="spacingAndGlyphs">10€</text><text x="1437.48" y="302.28" font-size="18.0" textLength="28.83" lengthAdjust="spacingAndGlyphs">10€</text><text x="1437.48" y="344.28" font-size="18.0" textLength="28.83" lengthAdjust="spacingAndGlyphs">10€</text><text x="1437.48" y="386.28" font-size="18.0" textLength="28.83" lengthAdjust="spacingAndGlyphs">10€</text><text x="1437.48" y="428.28" font-size="18.0" textLength="28.83" lengthAdjust="spacingAndGlyphs">10€</text></g></g>
<g id="pb3"><rect x="1253.75" y="68.50" width="221.35" height="442.95" fill="none" stroke="#d8eefa" stroke-width="2.4"/>
<text x="1265.50" y="107.80" font-size="24.7" font-weight="normal" textLength="19.79" lengthAdjust="spacingAndGlyphs" fill="#2b2321" stroke="#2b2321" stroke-width="0.8" stroke-linejoin="round" >10</text>
<text x="1286.69" y="107.95" font-size="23.2" font-weight="bold" textLength="13.26" lengthAdjust="spacingAndGlyphs" fill="#2b2321" stroke="#2b2321" stroke-width="0.5" stroke-linejoin="round" >€</text>
<text transform="scale(0.58,1)" x="2247.41" y="105.60" font-size="20.6" font-weight="normal" textLength="115.52" lengthAdjust="spacing" fill="#2b2321" stroke="#2b2321" stroke-width="1.0" stroke-linejoin="round" vector-effect="non-scaling-stroke" >SAVINGS</text>
<text transform="scale(0.58,1)" x="2236.72" y="131.80" font-size="20.6" font-weight="normal" textLength="286.38" lengthAdjust="spacing" fill="#2b2321" stroke="#2b2321" stroke-width="1.0" stroke-linejoin="round" vector-effect="non-scaling-stroke" >CHALLENGE TRACKER</text>
<use href="#hx3b" fill="#000" fill-opacity="0.22" stroke="#000" stroke-opacity="0.22" stroke-width="1" transform="translate(0.3,1.0)"/>
<use href="#hx3b" fill="#cbe7f6" stroke="#3a3230" stroke-width="1.0"/>
<g text-anchor="middle" fill="#35302e" font-weight="normal"><text x="1437.48" y="218.28" font-size="18.0" textLength="28.83" lengthAdjust="spacingAndGlyphs">10€</text><text x="1437.48" y="260.28" font-size="18.0" textLength="28.83" lengthAdjust="spacingAndGlyphs">10€</text><text x="1437.48" y="302.28" font-size="18.0" textLength="28.83" lengthAdjust="spacingAndGlyphs">10€</text><text x="1437.48" y="344.28" font-size="18.0" textLength="28.83" lengthAdjust="spacingAndGlyphs">10€</text><text x="1437.48" y="386.28" font-size="18.0" textLength="28.83" lengthAdjust="spacingAndGlyphs">10€</text><text x="1437.48" y="428.28" font-size="18.0" textLength="28.83" lengthAdjust="spacingAndGlyphs">10€</text></g></g>
<g id="pc4"><rect x="48.75" y="582.50" width="220.10" height="442.20" fill="none" stroke="#f6e3cc" stroke-width="2.4"/>
<text x="59.80" y="621.40" font-size="23.6" font-weight="normal" textLength="19.72" lengthAdjust="spacingAndGlyphs" fill="#2b2321" stroke="#2b2321" stroke-width="0.8" stroke-linejoin="round" >15</text>
<text x="80.88" y="621.55" font-size="22.2" font-weight="bold" textLength="12.67" lengthAdjust="spacingAndGlyphs" fill="#2b2321" stroke="#2b2321" stroke-width="0.5" stroke-linejoin="round" >€</text>
<text transform="scale(0.58,1)" x="173.28" y="619.90" font-size="19.6" font-weight="normal" textLength="113.28" lengthAdjust="spacing" fill="#2b2321" stroke="#2b2321" stroke-width="1.0" stroke-linejoin="round" vector-effect="non-scaling-stroke" >SAVINGS</text>
<text transform="scale(0.58,1)" x="159.14" y="646.10" font-size="19.6" font-weight="normal" textLength="286.38" lengthAdjust="spacing" fill="#2b2321" stroke="#2b2321" stroke-width="1.0" stroke-linejoin="round" vector-effect="non-scaling-stroke" >CHALLENGE TRACKER</text>
<use href="#hx4f" fill="#000" fill-opacity="0.22" stroke="#000" stroke-opacity="0.22" stroke-width="1" transform="translate(0.3,1.0)"/>
<use href="#hx4f" fill="#f7e4d0" stroke="#3a3230" stroke-width="1.0"/>
<g text-anchor="middle" fill="#35302e" font-weight="normal"><text x="84.68" y="729.88" font-size="18.0" textLength="28.83" lengthAdjust="spacingAndGlyphs">15€</text><text x="84.68" y="771.88" font-size="18.0" textLength="28.83" lengthAdjust="spacingAndGlyphs">15€</text><text x="84.68" y="813.88" font-size="18.0" textLength="28.83" lengthAdjust="spacingAndGlyphs">15€</text><text x="84.68" y="855.88" font-size="18.0" textLength="28.83" lengthAdjust="spacingAndGlyphs">15€</text><text x="84.68" y="897.88" font-size="18.0" textLength="28.83" lengthAdjust="spacingAndGlyphs">15€</text><text x="84.68" y="939.88" font-size="18.0" textLength="28.83" lengthAdjust="spacingAndGlyphs">15€</text><text x="121.48" y="709.38" font-size="18.0" textLength="28.83" lengthAdjust="spacingAndGlyphs">15€</text><text x="121.48" y="751.38" font-size="18.0" textLength="28.83" lengthAdjust="spacingAndGlyphs">15€</text><text x="121.48" y="793.38" font-size="18.0" textLength="28.83" lengthAdjust="spacingAndGlyphs">15€</text><text x="121.48" y="835.38" font-size="18.0" textLength="28.83" lengthAdjust="spacingAndGlyphs">15€</text><text x="121.48" y="877.38" font-size="18.0" textLength="28.83" lengthAdjust="spacingAndGlyphs">15€</text><text x="121.48" y="919.38" font-size="18.0" textLength="28.83" lengthAdjust="spacingAndGlyphs">15€</text><text x="158.38" y="729.98" font-size="18.0" textLength="28.83" lengthAdjust="spacingAndGlyphs">15€</text><text x="158.38" y="771.98" font-size="18.0" textLength="28.83" lengthAdjust="spacingAndGlyphs">15€</text><text x="158.38" y="813.98" font-size="18.0" textLength="28.83" lengthAdjust="spacingAndGlyphs">15€</text><text x="158.38" y="855.98" font-size="18.0" textLength="28.83" lengthAdjust="spacingAndGlyphs">15€</text><text x="158.38" y="897.98" font-size="18.0" textLength="28.83" lengthAdjust="spacingAndGlyphs">15€</text><text x="158.38" y="939.98" font-size="18.0" textLength="28.83" lengthAdjust="spacingAndGlyphs">15€</text><text x="195.18" y="709.38" font-size="18.0" textLength="28.83" lengthAdjust="spacingAndGlyphs">15€</text><text x="195.18" y="751.38" font-size="18.0" textLength="28.83" lengthAdjust="spacingAndGlyphs">15€</text><text x="195.18" y="793.38" font-size="18.0" textLength="28.83" lengthAdjust="spacingAndGlyphs">15€</text><text x="195.18" y="835.38" font-size="18.0" textLength="28.83" lengthAdjust="spacingAndGlyphs">15€</text><text x="195.18" y="877.38" font-size="18.0" textLength="28.83" lengthAdjust="spacingAndGlyphs">15€</text><text x="195.18" y="919.38" font-size="18.0" textLength="28.83" lengthAdjust="spacingAndGlyphs">15€</text><text x="232.48" y="732.28" font-size="18.0" textLength="28.83" lengthAdjust="spacingAndGlyphs">15€</text><text x="232.48" y="774.28" font-size="18.0" textLength="28.83" lengthAdjust="spacingAndGlyphs">15€</text><text x="232.48" y="816.28" font-size="18.0" textLength="28.83" lengthAdjust="spacingAndGlyphs">15€</text><text x="232.48" y="858.28" font-size="18.0" textLength="28.83" lengthAdjust="spacingAndGlyphs">15€</text><text x="232.48" y="900.28" font-size="18.0" textLength="28.83" lengthAdjust="spacingAndGlyphs">15€</text><text x="232.48" y="942.28" font-size="18.0" textLength="28.83" lengthAdjust="spacingAndGlyphs">15€</text></g></g>
<g id="pb4"><rect x="48.75" y="582.50" width="220.10" height="442.20" fill="none" stroke="#f6e3cc" stroke-width="2.4"/>
<text x="59.80" y="621.40" font-size="23.6" font-weight="normal" textLength="19.72" lengthAdjust="spacingAndGlyphs" fill="#2b2321" stroke="#2b2321" stroke-width="0.8" stroke-linejoin="round" >15</text>
<text x="80.88" y="621.55" font-size="22.2" font-weight="bold" textLength="12.67" lengthAdjust="spacingAndGlyphs" fill="#2b2321" stroke="#2b2321" stroke-width="0.5" stroke-linejoin="round" >€</text>
<text transform="scale(0.58,1)" x="173.28" y="619.90" font-size="19.6" font-weight="normal" textLength="113.28" lengthAdjust="spacing" fill="#2b2321" stroke="#2b2321" stroke-width="1.0" stroke-linejoin="round" vector-effect="non-scaling-stroke" >SAVINGS</text>
<text transform="scale(0.58,1)" x="159.14" y="646.10" font-size="19.6" font-weight="normal" textLength="286.38" lengthAdjust="spacing" fill="#2b2321" stroke="#2b2321" stroke-width="1.0" stroke-linejoin="round" vector-effect="non-scaling-stroke" >CHALLENGE TRACKER</text>
<use href="#hx4b" fill="#000" fill-opacity="0.22" stroke="#000" stroke-opacity="0.22" stroke-width="1" transform="translate(0.3,1.0)"/>
<use href="#hx4b" fill="#f7e4d0" stroke="#3a3230" stroke-width="1.0"/>
<g text-anchor="middle" fill="#35302e" font-weight="normal"><text x="232.48" y="732.28" font-size="18.0" textLength="28.83" lengthAdjust="spacingAndGlyphs">15€</text><text x="232.48" y="774.28" font-size="18.0" textLength="28.83" lengthAdjust="spacingAndGlyphs">15€</text><text x="232.48" y="816.28" font-size="18.0" textLength="28.83" lengthAdjust="spacingAndGlyphs">15€</text><text x="232.48" y="858.28" font-size="18.0" textLength="28.83" lengthAdjust="spacingAndGlyphs">15€</text><text x="232.48" y="900.28" font-size="18.0" textLength="28.83" lengthAdjust="spacingAndGlyphs">15€</text><text x="232.48" y="942.28" font-size="18.0" textLength="28.83" lengthAdjust="spacingAndGlyphs">15€</text></g></g>
<g id="pc5"><rect x="453.00" y="579.60" width="222.00" height="443.85" fill="none" stroke="#ececee" stroke-width="2.4"/>
<text x="464.15" y="618.50" font-size="24.7" font-weight="normal" textLength="24.54" lengthAdjust="spacingAndGlyphs" fill="#2b2321" stroke="#2b2321" stroke-width="0.8" stroke-linejoin="round" >20</text>
<text x="490.09" y="618.65" font-size="23.2" font-weight="bold" textLength="13.26" lengthAdjust="spacingAndGlyphs" fill="#2b2321" stroke="#2b2321" stroke-width="0.5" stroke-linejoin="round" >€</text>
<text transform="scale(0.58,1)" x="877.59" y="616.30" font-size="20.6" font-weight="normal" textLength="114.48" lengthAdjust="spacing" fill="#2b2321" stroke="#2b2321" stroke-width="1.0" stroke-linejoin="round" vector-effect="non-scaling-stroke" >SAVINGS</text>
<text transform="scale(0.58,1)" x="856.03" y="642.50" font-size="19.7" font-weight="normal" textLength="288.97" lengthAdjust="spacing" fill="#2b2321" stroke="#2b2321" stroke-width="1.0" stroke-linejoin="round" vector-effect="non-scaling-stroke" >CHALLENGE TRACKER</text>
<use href="#hx5f" fill="#000" fill-opacity="0.22" stroke="#000" stroke-opacity="0.22" stroke-width="1" transform="translate(0.3,1.0)"/>
<use href="#hx5f" fill="#ebebed" stroke="#3a3230" stroke-width="1.0"/>
<g text-anchor="middle" fill="#35302e" font-weight="normal"><text x="488.93" y="726.98" font-size="18.0" textLength="28.83" lengthAdjust="spacingAndGlyphs">20€</text><text x="488.93" y="768.98" font-size="18.0" textLength="28.83" lengthAdjust="spacingAndGlyphs">20€</text><text x="488.93" y="810.98" font-size="18.0" textLength="28.83" lengthAdjust="spacingAndGlyphs">20€</text><text x="488.93" y="852.98" font-size="18.0" textLength="28.83" lengthAdjust="spacingAndGlyphs">20€</text><text x="488.93" y="894.98" font-size="18.0" textLength="28.83" lengthAdjust="spacingAndGlyphs">20€</text><text x="488.93" y="936.98" font-size="18.0" textLength="28.83" lengthAdjust="spacingAndGlyphs">20€</text><text x="525.73" y="706.48" font-size="18.0" textLength="28.83" lengthAdjust="spacingAndGlyphs">20€</text><text x="525.73" y="748.48" font-size="18.0" textLength="28.83" lengthAdjust="spacingAndGlyphs">20€</text><text x="525.73" y="790.48" font-size="18.0" textLength="28.83" lengthAdjust="spacingAndGlyphs">20€</text><text x="525.73" y="832.48" font-size="18.0" textLength="28.83" lengthAdjust="spacingAndGlyphs">20€</text><text x="525.73" y="874.48" font-size="18.0" textLength="28.83" lengthAdjust="spacingAndGlyphs">20€</text><text x="525.73" y="916.48" font-size="18.0" textLength="28.83" lengthAdjust="spacingAndGlyphs">20€</text><text x="562.63" y="727.08" font-size="18.0" textLength="28.83" lengthAdjust="spacingAndGlyphs">20€</text><text x="562.63" y="769.08" font-size="18.0" textLength="28.83" lengthAdjust="spacingAndGlyphs">20€</text><text x="562.63" y="811.08" font-size="18.0" textLength="28.83" lengthAdjust="spacingAndGlyphs">20€</text><text x="562.63" y="853.08" font-size="18.0" textLength="28.83" lengthAdjust="spacingAndGlyphs">20€</text><text x="562.63" y="895.08" font-size="18.0" textLength="28.83" lengthAdjust="spacingAndGlyphs">20€</text><text x="562.63" y="937.08" font-size="18.0" textLength="28.83" lengthAdjust="spacingAndGlyphs">20€</text><text x="599.43" y="706.48" font-size="18.0" textLength="28.83" lengthAdjust="spacingAndGlyphs">20€</text><text x="599.43" y="748.48" font-size="18.0" textLength="28.83" lengthAdjust="spacingAndGlyphs">20€</text><text x="599.43" y="790.48" font-size="18.0" textLength="28.83" lengthAdjust="spacingAndGlyphs">20€</text><text x="599.43" y="832.48" font-size="18.0" textLength="28.83" lengthAdjust="spacingAndGlyphs">20€</text><text x="599.43" y="874.48" font-size="18.0" textLength="28.83" lengthAdjust="spacingAndGlyphs">20€</text><text x="599.43" y="916.48" font-size="18.0" textLength="28.83" lengthAdjust="spacingAndGlyphs">20€</text><text x="636.73" y="729.38" font-size="18.0" textLength="28.83" lengthAdjust="spacingAndGlyphs">20€</text><text x="636.73" y="771.38" font-size="18.0" textLength="28.83" lengthAdjust="spacingAndGlyphs">20€</text><text x="636.73" y="813.38" font-size="18.0" textLength="28.83" lengthAdjust="spacingAndGlyphs">20€</text><text x="636.73" y="855.38" font-size="18.0" textLength="28.83" lengthAdjust="spacingAndGlyphs">20€</text><text x="636.73" y="897.38" font-size="18.0" textLength="28.83" lengthAdjust="spacingAndGlyphs">20€</text><text x="636.73" y="939.38" font-size="18.0" textLength="28.83" lengthAdjust="spacingAndGlyphs">20€</text></g></g>
<g id="pb5"><rect x="453.00" y="579.60" width="222.00" height="443.85" fill="none" stroke="#ececee" stroke-width="2.4"/>
<text x="464.15" y="618.50" font-size="24.7" font-weight="normal" textLength="24.54" lengthAdjust="spacingAndGlyphs" fill="#2b2321" stroke="#2b2321" stroke-width="0.8" stroke-linejoin="round" >20</text>
<text x="490.09" y="618.65" font-size="23.2" font-weight="bold" textLength="13.26" lengthAdjust="spacingAndGlyphs" fill="#2b2321" stroke="#2b2321" stroke-width="0.5" stroke-linejoin="round" >€</text>
<text transform="scale(0.58,1)" x="877.59" y="616.30" font-size="20.6" font-weight="normal" textLength="114.48" lengthAdjust="spacing" fill="#2b2321" stroke="#2b2321" stroke-width="1.0" stroke-linejoin="round" vector-effect="non-scaling-stroke" >SAVINGS</text>
<text transform="scale(0.58,1)" x="856.03" y="642.50" font-size="19.7" font-weight="normal" textLength="288.97" lengthAdjust="spacing" fill="#2b2321" stroke="#2b2321" stroke-width="1.0" stroke-linejoin="round" vector-effect="non-scaling-stroke" >CHALLENGE TRACKER</text>
<use href="#hx5b" fill="#000" fill-opacity="0.22" stroke="#000" stroke-opacity="0.22" stroke-width="1" transform="translate(0.3,1.0)"/>
<use href="#hx5b" fill="#ebebed" stroke="#3a3230" stroke-width="1.0"/>
<g text-anchor="middle" fill="#35302e" font-weight="normal"><text x="636.73" y="729.38" font-size="18.0" textLength="28.83" lengthAdjust="spacingAndGlyphs">20€</text><text x="636.73" y="771.38" font-size="18.0" textLength="28.83" lengthAdjust="spacingAndGlyphs">20€</text><text x="636.73" y="813.38" font-size="18.0" textLength="28.83" lengthAdjust="spacingAndGlyphs">20€</text><text x="636.73" y="855.38" font-size="18.0" textLength="28.83" lengthAdjust="spacingAndGlyphs">20€</text><text x="636.73" y="897.38" font-size="18.0" textLength="28.83" lengthAdjust="spacingAndGlyphs">20€</text><text x="636.73" y="939.38" font-size="18.0" textLength="28.83" lengthAdjust="spacingAndGlyphs">20€</text></g></g>
<g id="pc6"><rect x="859.75" y="579.00" width="222.10" height="443.90" fill="none" stroke="#e0e7f3" stroke-width="2.4"/>
<text x="871.20" y="618.50" font-size="24.7" font-weight="normal" textLength="23.89" lengthAdjust="spacingAndGlyphs" fill="#2b2321" stroke="#2b2321" stroke-width="0.8" stroke-linejoin="round" >25</text>
<text x="896.49" y="618.65" font-size="23.2" font-weight="bold" textLength="13.26" lengthAdjust="spacingAndGlyphs" fill="#2b2321" stroke="#2b2321" stroke-width="0.5" stroke-linejoin="round" >€</text>
<text transform="scale(0.58,1)" x="1576.90" y="616.30" font-size="20.6" font-weight="normal" textLength="114.48" lengthAdjust="spacing" fill="#2b2321" stroke="#2b2321" stroke-width="1.0" stroke-linejoin="round" vector-effect="non-scaling-stroke" >SAVINGS</text>
<text transform="scale(0.58,1)" x="1556.90" y="642.50" font-size="19.4" font-weight="normal" textLength="288.79" lengthAdjust="spacing" fill="#2b2321" stroke="#2b2321" stroke-width="1.0" stroke-linejoin="round" vector-effect="non-scaling-stroke" >CHALLENGE TRACKER</text>
<use href="#hx6f" fill="#000" fill-opacity="0.22" stroke="#000" stroke-opacity="0.22" stroke-width="1" transform="translate(0.3,1.0)"/>
<use href="#hx6f" fill="#dce3f0" stroke="#3a3230" stroke-width="1.0"/>
<g text-anchor="middle" fill="#35302e" font-weight="normal"><text x="895.68" y="726.38" font-size="18.0" textLength="28.83" lengthAdjust="spacingAndGlyphs">25€</text><text x="895.68" y="768.38" font-size="18.0" textLength="28.83" lengthAdjust="spacingAndGlyphs">25€</text><text x="895.68" y="810.38" font-size="18.0" textLength="28.83" lengthAdjust="spacingAndGlyphs">25€</text><text x="895.68" y="852.38" font-size="18.0" textLength="28.83" lengthAdjust="spacingAndGlyphs">25€</text><text x="895.68" y="894.38" font-size="18.0" textLength="28.83" lengthAdjust="spacingAndGlyphs">25€</text><text x="895.68" y="936.38" font-size="18.0" textLength="28.83" lengthAdjust="spacingAndGlyphs">25€</text><text x="932.48" y="705.88" font-size="18.0" textLength="28.83" lengthAdjust="spacingAndGlyphs">25€</text><text x="932.48" y="747.88" font-size="18.0" textLength="28.83" lengthAdjust="spacingAndGlyphs">25€</text><text x="932.48" y="789.88" font-size="18.0" textLength="28.83" lengthAdjust="spacingAndGlyphs">25€</text><text x="932.48" y="831.88" font-size="18.0" textLength="28.83" lengthAdjust="spacingAndGlyphs">25€</text><text x="932.48" y="873.88" font-size="18.0" textLength="28.83" lengthAdjust="spacingAndGlyphs">25€</text><text x="932.48" y="915.88" font-size="18.0" textLength="28.83" lengthAdjust="spacingAndGlyphs">25€</text><text x="969.38" y="726.48" font-size="18.0" textLength="28.83" lengthAdjust="spacingAndGlyphs">25€</text><text x="969.38" y="768.48" font-size="18.0" textLength="28.83" lengthAdjust="spacingAndGlyphs">25€</text><text x="969.38" y="810.48" font-size="18.0" textLength="28.83" lengthAdjust="spacingAndGlyphs">25€</text><text x="969.38" y="852.48" font-size="18.0" textLength="28.83" lengthAdjust="spacingAndGlyphs">25€</text><text x="969.38" y="894.48" font-size="18.0" textLength="28.83" lengthAdjust="spacingAndGlyphs">25€</text><text x="969.38" y="936.48" font-size="18.0" textLength="28.83" lengthAdjust="spacingAndGlyphs">25€</text><text x="1006.18" y="705.88" font-size="18.0" textLength="28.83" lengthAdjust="spacingAndGlyphs">25€</text><text x="1006.18" y="747.88" font-size="18.0" textLength="28.83" lengthAdjust="spacingAndGlyphs">25€</text><text x="1006.18" y="789.88" font-size="18.0" textLength="28.83" lengthAdjust="spacingAndGlyphs">25€</text><text x="1006.18" y="831.88" font-size="18.0" textLength="28.83" lengthAdjust="spacingAndGlyphs">25€</text><text x="1006.18" y="873.88" font-size="18.0" textLength="28.83" lengthAdjust="spacingAndGlyphs">25€</text><text x="1006.18" y="915.88" font-size="18.0" textLength="28.83" lengthAdjust="spacingAndGlyphs">25€</text><text x="1043.48" y="728.78" font-size="18.0" textLength="28.83" lengthAdjust="spacingAndGlyphs">25€</text><text x="1043.48" y="770.78" font-size="18.0" textLength="28.83" lengthAdjust="spacingAndGlyphs">25€</text><text x="1043.48" y="812.78" font-size="18.0" textLength="28.83" lengthAdjust="spacingAndGlyphs">25€</text><text x="1043.48" y="854.78" font-size="18.0" textLength="28.83" lengthAdjust="spacingAndGlyphs">25€</text><text x="1043.48" y="896.78" font-size="18.0" textLength="28.83" lengthAdjust="spacingAndGlyphs">25€</text><text x="1043.48" y="938.78" font-size="18.0" textLength="28.83" lengthAdjust="spacingAndGlyphs">25€</text></g></g>
<g id="pb6"><rect x="859.75" y="579.00" width="222.10" height="443.90" fill="none" stroke="#e0e7f3" stroke-width="2.4"/>
<text x="871.20" y="618.50" font-size="24.7" font-weight="normal" textLength="23.89" lengthAdjust="spacingAndGlyphs" fill="#2b2321" stroke="#2b2321" stroke-width="0.8" stroke-linejoin="round" >25</text>
<text x="896.49" y="618.65" font-size="23.2" font-weight="bold" textLength="13.26" lengthAdjust="spacingAndGlyphs" fill="#2b2321" stroke="#2b2321" stroke-width="0.5" stroke-linejoin="round" >€</text>
<text transform="scale(0.58,1)" x="1576.90" y="616.30" font-size="20.6" font-weight="normal" textLength="114.48" lengthAdjust="spacing" fill="#2b2321" stroke="#2b2321" stroke-width="1.0" stroke-linejoin="round" vector-effect="non-scaling-stroke" >SAVINGS</text>
<text transform="scale(0.58,1)" x="1556.90" y="642.50" font-size="19.4" font-weight="normal" textLength="288.79" lengthAdjust="spacing" fill="#2b2321" stroke="#2b2321" stroke-width="1.0" stroke-linejoin="round" vector-effect="non-scaling-stroke" >CHALLENGE TRACKER</text>
<use href="#hx6b" fill="#000" fill-opacity="0.22" stroke="#000" stroke-opacity="0.22" stroke-width="1" transform="translate(0.3,1.0)"/>
<use href="#hx6b" fill="#dce3f0" stroke="#3a3230" stroke-width="1.0"/>
<g text-anchor="middle" fill="#35302e" font-weight="normal"><text x="1043.48" y="728.78" font-size="18.0" textLength="28.83" lengthAdjust="spacingAndGlyphs">25€</text><text x="1043.48" y="770.78" font-size="18.0" textLength="28.83" lengthAdjust="spacingAndGlyphs">25€</text><text x="1043.48" y="812.78" font-size="18.0" textLength="28.83" lengthAdjust="spacingAndGlyphs">25€</text><text x="1043.48" y="854.78" font-size="18.0" textLength="28.83" lengthAdjust="spacingAndGlyphs">25€</text><text x="1043.48" y="896.78" font-size="18.0" textLength="28.83" lengthAdjust="spacingAndGlyphs">25€</text><text x="1043.48" y="938.78" font-size="18.0" textLength="28.83" lengthAdjust="spacingAndGlyphs">25€</text></g></g>
<g id="pc7"><rect x="1253.75" y="579.50" width="221.35" height="442.70" fill="none" stroke="#e6f3e4" stroke-width="2.4"/>
<text x="1264.80" y="619.90" font-size="25.7" font-weight="normal" textLength="23.35" lengthAdjust="spacingAndGlyphs" fill="#2b2321" stroke="#2b2321" stroke-width="0.8" stroke-linejoin="round" >30</text>
<text x="1289.57" y="620.05" font-size="24.1" font-weight="bold" textLength="13.78" lengthAdjust="spacingAndGlyphs" fill="#2b2321" stroke="#2b2321" stroke-width="0.5" stroke-linejoin="round" >€</text>
<text transform="scale(0.58,1)" x="2252.07" y="617.00" font-size="20.6" font-weight="normal" textLength="115.69" lengthAdjust="spacing" fill="#2b2321" stroke="#2b2321" stroke-width="1.0" stroke-linejoin="round" vector-effect="non-scaling-stroke" >SAVINGS</text>
<text transform="scale(0.58,1)" x="2236.72" y="643.10" font-size="19.6" font-weight="normal" textLength="286.38" lengthAdjust="spacing" fill="#2b2321" stroke="#2b2321" stroke-width="1.0" stroke-linejoin="round" vector-effect="non-scaling-stroke" >CHALLENGE TRACKER</text>
<use href="#hx7f" fill="#000" fill-opacity="0.22" stroke="#000" stroke-opacity="0.22" stroke-width="1" transform="translate(0.3,1.0)"/>
<use href="#hx7f" fill="#ddeedb" stroke="#3a3230" stroke-width="1.0"/>
<g text-anchor="middle" fill="#35302e" font-weight="normal"><text x="1289.68" y="726.88" font-size="18.0" textLength="28.83" lengthAdjust="spacingAndGlyphs">30€</text><text x="1289.68" y="768.88" font-size="18.0" textLength="28.83" lengthAdjust="spacingAndGlyphs">30€</text><text x="1289.68" y="810.88" font-size="18.0" textLength="28.83" lengthAdjust="spacingAndGlyphs">30€</text><text x="1289.68" y="852.88" font-size="18.0" textLength="28.83" lengthAdjust="spacingAndGlyphs">30€</text><text x="1289.68" y="894.88" font-size="18.0" textLength="28.83" lengthAdjust="spacingAndGlyphs">30€</text><text x="1289.68" y="936.88" font-size="18.0" textLength="28.83" lengthAdjust="spacingAndGlyphs">30€</text><text x="1326.48" y="706.38" font-size="18.0" textLength="28.83" lengthAdjust="spacingAndGlyphs">30€</text><text x="1326.48" y="748.38" font-size="18.0" textLength="28.83" lengthAdjust="spacingAndGlyphs">30€</text><text x="1326.48" y="790.38" font-size="18.0" textLength="28.83" lengthAdjust="spacingAndGlyphs">30€</text><text x="1326.48" y="832.38" font-size="18.0" textLength="28.83" lengthAdjust="spacingAndGlyphs">30€</text><text x="1326.48" y="874.38" font-size="18.0" textLength="28.83" lengthAdjust="spacingAndGlyphs">30€</text><text x="1326.48" y="916.38" font-size="18.0" textLength="28.83" lengthAdjust="spacingAndGlyphs">30€</text><text x="1363.38" y="726.98" font-size="18.0" textLength="28.83" lengthAdjust="spacingAndGlyphs">30€</text><text x="1363.38" y="768.98" font-size="18.0" textLength="28.83" lengthAdjust="spacingAndGlyphs">30€</text><text x="1363.38" y="810.98" font-size="18.0" textLength="28.83" lengthAdjust="spacingAndGlyphs">30€</text><text x="1363.38" y="852.98" font-size="18.0" textLength="28.83" lengthAdjust="spacingAndGlyphs">30€</text><text x="1363.38" y="894.98" font-size="18.0" textLength="28.83" lengthAdjust="spacingAndGlyphs">30€</text><text x="1363.38" y="936.98" font-size="18.0" textLength="28.83" lengthAdjust="spacingAndGlyphs">30€</text><text x="1400.18" y="706.38" font-size="18.0" textLength="28.83" lengthAdjust="spacingAndGlyphs">30€</text><text x="1400.18" y="748.38" font-size="18.0" textLength="28.83" lengthAdjust="spacingAndGlyphs">30€</text><text x="1400.18" y="790.38" font-size="18.0" textLength="28.83" lengthAdjust="spacingAndGlyphs">30€</text><text x="1400.18" y="832.38" font-size="18.0" textLength="28.83" lengthAdjust="spacingAndGlyphs">30€</text><text x="1400.18" y="874.38" font-size="18.0" textLength="28.83" lengthAdjust="spacingAndGlyphs">30€</text><text x="1400.18" y="916.38" font-size="18.0" textLength="28.83" lengthAdjust="spacingAndGlyphs">30€</text><text x="1437.48" y="729.28" font-size="18.0" textLength="28.83" lengthAdjust="spacingAndGlyphs">30€</text><text x="1437.48" y="771.28" font-size="18.0" textLength="28.83" lengthAdjust="spacingAndGlyphs">30€</text><text x="1437.48" y="813.28" font-size="18.0" textLength="28.83" lengthAdjust="spacingAndGlyphs">30€</text><text x="1437.48" y="855.28" font-size="18.0" textLength="28.83" lengthAdjust="spacingAndGlyphs">30€</text><text x="1437.48" y="897.28" font-size="18.0" textLength="28.83" lengthAdjust="spacingAndGlyphs">30€</text><text x="1437.48" y="939.28" font-size="18.0" textLength="28.83" lengthAdjust="spacingAndGlyphs">30€</text></g></g>
<g id="pb7"><rect x="1253.75" y="579.50" width="221.35" height="442.70" fill="none" stroke="#e6f3e4" stroke-width="2.4"/>
<text x="1264.80" y="619.90" font-size="25.7" font-weight="normal" textLength="23.35" lengthAdjust="spacingAndGlyphs" fill="#2b2321" stroke="#2b2321" stroke-width="0.8" stroke-linejoin="round" >30</text>
<text x="1289.57" y="620.05" font-size="24.1" font-weight="bold" textLength="13.78" lengthAdjust="spacingAndGlyphs" fill="#2b2321" stroke="#2b2321" stroke-width="0.5" stroke-linejoin="round" >€</text>
<text transform="scale(0.58,1)" x="2252.07" y="617.00" font-size="20.6" font-weight="normal" textLength="115.69" lengthAdjust="spacing" fill="#2b2321" stroke="#2b2321" stroke-width="1.0" stroke-linejoin="round" vector-effect="non-scaling-stroke" >SAVINGS</text>
<text transform="scale(0.58,1)" x="2236.72" y="643.10" font-size="19.6" font-weight="normal" textLength="286.38" lengthAdjust="spacing" fill="#2b2321" stroke="#2b2321" stroke-width="1.0" stroke-linejoin="round" vector-effect="non-scaling-stroke" >CHALLENGE TRACKER</text>
<use href="#hx7b" fill="#000" fill-opacity="0.22" stroke="#000" stroke-opacity="0.22" stroke-width="1" transform="translate(0.3,1.0)"/>
<use href="#hx7b" fill="#ddeedb" stroke="#3a3230" stroke-width="1.0"/>
<g text-anchor="middle" fill="#35302e" font-weight="normal"><text x="1437.48" y="729.28" font-size="18.0" textLength="28.83" lengthAdjust="spacingAndGlyphs">30€</text><text x="1437.48" y="771.28" font-size="18.0" textLength="28.83" lengthAdjust="spacingAndGlyphs">30€</text><text x="1437.48" y="813.28" font-size="18.0" textLength="28.83" lengthAdjust="spacingAndGlyphs">30€</text><text x="1437.48" y="855.28" font-size="18.0" textLength="28.83" lengthAdjust="spacingAndGlyphs">30€</text><text x="1437.48" y="897.28" font-size="18.0" textLength="28.83" lengthAdjust="spacingAndGlyphs">30€</text><text x="1437.48" y="939.28" font-size="18.0" textLength="28.83" lengthAdjust="spacingAndGlyphs">30€</text></g></g>
<g id="pc8"><rect x="48.75" y="1092.50" width="222.25" height="444.20" fill="none" stroke="#f9d8d8" stroke-width="2.4"/>
<text x="74.60" y="1131.80" font-size="24.3" font-weight="normal" textLength="22.40" lengthAdjust="spacingAndGlyphs" fill="#2b2321" stroke="#2b2321" stroke-width="1.0" stroke-linejoin="round" >26</text>
<text transform="scale(0.58,1)" x="174.83" y="1129.80" font-size="19.9" font-weight="normal" textLength="195.00" lengthAdjust="spacing" fill="#2b2321" stroke="#2b2321" stroke-width="1.0" stroke-linejoin="round" vector-effect="non-scaling-stroke" >WEEK SAVINGS</text>
<text transform="scale(0.58,1)" x="159.48" y="1155.90" font-size="20.6" font-weight="normal" textLength="288.79" lengthAdjust="spacing" fill="#2b2321" stroke="#2b2321" stroke-width="1.0" stroke-linejoin="round" vector-effect="non-scaling-stroke" >CHALLENGE TRACKER</text>
<use href="#hx8f" fill="#000" fill-opacity="0.22" stroke="#000" stroke-opacity="0.22" stroke-width="1" transform="translate(0.3,1.0)"/>
<use href="#hx8f" fill="#f8d3d4" stroke="#3a3230" stroke-width="1.0"/>
<g text-anchor="middle" fill="#35302e" font-weight="normal"><text x="84.70" y="1238.30" font-size="17.5" textLength="19.46" lengthAdjust="spacingAndGlyphs">2€</text><text x="84.70" y="1280.95" font-size="17.5" textLength="29.19" lengthAdjust="spacingAndGlyphs">12€</text><text x="84.70" y="1323.60" font-size="17.5" textLength="29.19" lengthAdjust="spacingAndGlyphs">22€</text><text x="84.70" y="1366.25" font-size="17.5" textLength="29.19" lengthAdjust="spacingAndGlyphs">32€</text><text x="84.70" y="1408.90" font-size="17.5" textLength="29.19" lengthAdjust="spacingAndGlyphs">42€</text><text x="121.50" y="1260.80" font-size="17.5" textLength="19.46" lengthAdjust="spacingAndGlyphs">4€</text><text x="121.50" y="1303.45" font-size="17.5" textLength="29.19" lengthAdjust="spacingAndGlyphs">14€</text><text x="121.50" y="1346.10" font-size="17.5" textLength="29.19" lengthAdjust="spacingAndGlyphs">28€</text><text x="121.50" y="1388.75" font-size="17.5" textLength="29.19" lengthAdjust="spacingAndGlyphs">38€</text><text x="121.50" y="1431.40" font-size="17.5" textLength="29.19" lengthAdjust="spacingAndGlyphs">48€</text><text x="158.40" y="1238.30" font-size="17.5" textLength="19.46" lengthAdjust="spacingAndGlyphs">6€</text><text x="158.40" y="1280.95" font-size="17.5" textLength="29.19" lengthAdjust="spacingAndGlyphs">16€</text><text x="158.40" y="1323.60" font-size="17.5" textLength="29.19" lengthAdjust="spacingAndGlyphs">24€</text><text x="158.40" y="1366.25" font-size="17.5" textLength="29.19" lengthAdjust="spacingAndGlyphs">34€</text><text x="158.40" y="1408.90" font-size="17.5" textLength="29.19" lengthAdjust="spacingAndGlyphs">44€</text><text x="158.40" y="1451.55" font-size="17.5" textLength="29.19" lengthAdjust="spacingAndGlyphs">52€</text><text x="195.20" y="1260.80" font-size="17.5" textLength="19.46" lengthAdjust="spacingAndGlyphs">8€</text><text x="195.20" y="1303.45" font-size="17.5" textLength="29.19" lengthAdjust="spacingAndGlyphs">18€</text><text x="195.20" y="1346.10" font-size="17.5" textLength="29.19" lengthAdjust="spacingAndGlyphs">30€</text><text x="195.20" y="1388.75" font-size="17.5" textLength="29.19" lengthAdjust="spacingAndGlyphs">40€</text><text x="195.20" y="1431.40" font-size="17.5" textLength="29.19" lengthAdjust="spacingAndGlyphs">50€</text><text x="232.50" y="1241.30" font-size="17.5" textLength="29.19" lengthAdjust="spacingAndGlyphs">10€</text><text x="232.50" y="1283.95" font-size="17.5" textLength="29.19" lengthAdjust="spacingAndGlyphs">20€</text><text x="232.50" y="1326.60" font-size="17.5" textLength="29.19" lengthAdjust="spacingAndGlyphs">26€</text><text x="232.50" y="1369.25" font-size="17.5" textLength="29.19" lengthAdjust="spacingAndGlyphs">36€</text><text x="232.50" y="1411.90" font-size="17.5" textLength="29.19" lengthAdjust="spacingAndGlyphs">46€</text></g></g>
<g id="pb8"><rect x="48.75" y="1092.50" width="222.25" height="444.20" fill="none" stroke="#f9d8d8" stroke-width="2.4"/>
<text x="74.60" y="1131.80" font-size="24.3" font-weight="normal" textLength="22.40" lengthAdjust="spacingAndGlyphs" fill="#2b2321" stroke="#2b2321" stroke-width="1.0" stroke-linejoin="round" >26</text>
<text transform="scale(0.58,1)" x="174.83" y="1129.80" font-size="19.9" font-weight="normal" textLength="195.00" lengthAdjust="spacing" fill="#2b2321" stroke="#2b2321" stroke-width="1.0" stroke-linejoin="round" vector-effect="non-scaling-stroke" >WEEK SAVINGS</text>
<text transform="scale(0.58,1)" x="159.48" y="1155.90" font-size="20.6" font-weight="normal" textLength="288.79" lengthAdjust="spacing" fill="#2b2321" stroke="#2b2321" stroke-width="1.0" stroke-linejoin="round" vector-effect="non-scaling-stroke" >CHALLENGE TRACKER</text>
<use href="#hx8b" fill="#000" fill-opacity="0.22" stroke="#000" stroke-opacity="0.22" stroke-width="1" transform="translate(0.3,1.0)"/>
<use href="#hx8b" fill="#f8d3d4" stroke="#3a3230" stroke-width="1.0"/>
<g text-anchor="middle" fill="#35302e" font-weight="normal"><text x="232.50" y="1241.30" font-size="17.5" textLength="29.19" lengthAdjust="spacingAndGlyphs">10€</text><text x="232.50" y="1283.95" font-size="17.5" textLength="29.19" lengthAdjust="spacingAndGlyphs">20€</text><text x="232.50" y="1326.60" font-size="17.5" textLength="29.19" lengthAdjust="spacingAndGlyphs">26€</text><text x="232.50" y="1369.25" font-size="17.5" textLength="29.19" lengthAdjust="spacingAndGlyphs">36€</text><text x="232.50" y="1411.90" font-size="17.5" textLength="29.19" lengthAdjust="spacingAndGlyphs">46€</text></g></g>
<g id="pc9"><rect x="451.15" y="1093.00" width="222.95" height="444.20" fill="none" stroke="#f8f0c6" stroke-width="2.4"/>
<text x="475.50" y="1132.50" font-size="25.3" font-weight="normal" textLength="22.30" lengthAdjust="spacingAndGlyphs" fill="#2b2321" stroke="#2b2321" stroke-width="1.0" stroke-linejoin="round" >30</text>
<text transform="scale(0.58,1)" x="867.24" y="1129.80" font-size="20.7" font-weight="normal" textLength="179.66" lengthAdjust="spacing" fill="#2b2321" stroke="#2b2321" stroke-width="1.0" stroke-linejoin="round" vector-effect="non-scaling-stroke" >DAY SAVINGS</text>
<text transform="scale(0.58,1)" x="854.14" y="1155.90" font-size="19.6" font-weight="normal" textLength="288.79" lengthAdjust="spacing" fill="#2b2321" stroke="#2b2321" stroke-width="1.0" stroke-linejoin="round" vector-effect="non-scaling-stroke" >CHALLENGE TRACKER</text>
<use href="#hx9f" fill="#000" fill-opacity="0.22" stroke="#000" stroke-opacity="0.22" stroke-width="1" transform="translate(0.3,1.0)"/>
<use href="#hx9f" fill="#f9f1c6" stroke="#3a3230" stroke-width="1.0"/>
<g text-anchor="middle" fill="#35302e" font-weight="normal"><text x="488.26" y="1240.56" font-size="18.5" textLength="20.58" lengthAdjust="spacingAndGlyphs">1€</text><text x="488.26" y="1282.56" font-size="18.5" textLength="20.58" lengthAdjust="spacingAndGlyphs">9€</text><text x="488.26" y="1324.56" font-size="18.5" textLength="30.86" lengthAdjust="spacingAndGlyphs">13€</text><text x="488.26" y="1366.56" font-size="18.5" textLength="30.86" lengthAdjust="spacingAndGlyphs">18€</text><text x="488.26" y="1408.56" font-size="18.5" textLength="30.86" lengthAdjust="spacingAndGlyphs">23€</text><text x="488.26" y="1450.56" font-size="18.5" textLength="30.86" lengthAdjust="spacingAndGlyphs">28€</text><text x="525.06" y="1220.06" font-size="18.5" textLength="20.58" lengthAdjust="spacingAndGlyphs">2€</text><text x="525.06" y="1262.06" font-size="18.5" textLength="20.58" lengthAdjust="spacingAndGlyphs">6€</text><text x="525.06" y="1304.06" font-size="18.5" textLength="29.49" lengthAdjust="spacingAndGlyphs">11€</text><text x="525.06" y="1346.06" font-size="18.5" textLength="30.86" lengthAdjust="spacingAndGlyphs">16€</text><text x="525.06" y="1388.06" font-size="18.5" textLength="30.86" lengthAdjust="spacingAndGlyphs">21€</text><text x="525.06" y="1430.06" font-size="18.5" textLength="30.86" lengthAdjust="spacingAndGlyphs">26€</text><text x="561.96" y="1240.66" font-size="18.5" textLength="20.58" lengthAdjust="spacingAndGlyphs">3€</text><text x="561.96" y="1282.66" font-size="18.5" textLength="30.86" lengthAdjust="spacingAndGlyphs">10€</text><text x="561.96" y="1324.66" font-size="18.5" textLength="30.86" lengthAdjust="spacingAndGlyphs">14€</text><text x="561.96" y="1366.66" font-size="18.5" textLength="30.86" lengthAdjust="spacingAndGlyphs">19€</text><text x="561.96" y="1408.66" font-size="18.5" textLength="30.86" lengthAdjust="spacingAndGlyphs">24€</text><text x="561.96" y="1450.66" font-size="18.5" textLength="30.86" lengthAdjust="spacingAndGlyphs">29€</text><text x="598.76" y="1220.06" font-size="18.5" textLength="20.58" lengthAdjust="spacingAndGlyphs">4€</text><text x="598.76" y="1262.06" font-size="18.5" textLength="20.58" lengthAdjust="spacingAndGlyphs">7€</text><text x="598.76" y="1304.06" font-size="18.5" textLength="30.86" lengthAdjust="spacingAndGlyphs">12€</text><text x="598.76" y="1346.06" font-size="18.5" textLength="30.86" lengthAdjust="spacingAndGlyphs">17€</text><text x="598.76" y="1388.06" font-size="18.5" textLength="30.86" lengthAdjust="spacingAndGlyphs">22€</text><text x="598.76" y="1430.06" font-size="18.5" textLength="30.86" lengthAdjust="spacingAndGlyphs">27€</text><text x="636.06" y="1242.96" font-size="18.5" textLength="20.58" lengthAdjust="spacingAndGlyphs">5€</text><text x="636.06" y="1284.96" font-size="18.5" textLength="20.58" lengthAdjust="spacingAndGlyphs">8€</text><text x="636.06" y="1326.96" font-size="18.5" textLength="30.86" lengthAdjust="spacingAndGlyphs">15€</text><text x="636.06" y="1368.96" font-size="18.5" textLength="30.86" lengthAdjust="spacingAndGlyphs">20€</text><text x="636.06" y="1410.96" font-size="18.5" textLength="30.86" lengthAdjust="spacingAndGlyphs">25€</text><text x="636.06" y="1452.96" font-size="18.5" textLength="30.86" lengthAdjust="spacingAndGlyphs">30€</text></g></g>
<g id="pb9"><rect x="451.15" y="1093.00" width="222.95" height="444.20" fill="none" stroke="#f8f0c6" stroke-width="2.4"/>
<text x="475.50" y="1132.50" font-size="25.3" font-weight="normal" textLength="22.30" lengthAdjust="spacingAndGlyphs" fill="#2b2321" stroke="#2b2321" stroke-width="1.0" stroke-linejoin="round" >30</text>
<text transform="scale(0.58,1)" x="867.24" y="1129.80" font-size="20.7" font-weight="normal" textLength="179.66" lengthAdjust="spacing" fill="#2b2321" stroke="#2b2321" stroke-width="1.0" stroke-linejoin="round" vector-effect="non-scaling-stroke" >DAY SAVINGS</text>
<text transform="scale(0.58,1)" x="854.14" y="1155.90" font-size="19.6" font-weight="normal" textLength="288.79" lengthAdjust="spacing" fill="#2b2321" stroke="#2b2321" stroke-width="1.0" stroke-linejoin="round" vector-effect="non-scaling-stroke" >CHALLENGE TRACKER</text>
<use href="#hx9b" fill="#000" fill-opacity="0.22" stroke="#000" stroke-opacity="0.22" stroke-width="1" transform="translate(0.3,1.0)"/>
<use href="#hx9b" fill="#f9f1c6" stroke="#3a3230" stroke-width="1.0"/>
<g text-anchor="middle" fill="#35302e" font-weight="normal"><text x="636.06" y="1242.96" font-size="18.5" textLength="20.58" lengthAdjust="spacingAndGlyphs">5€</text><text x="636.06" y="1284.96" font-size="18.5" textLength="20.58" lengthAdjust="spacingAndGlyphs">8€</text><text x="636.06" y="1326.96" font-size="18.5" textLength="30.86" lengthAdjust="spacingAndGlyphs">15€</text><text x="636.06" y="1368.96" font-size="18.5" textLength="30.86" lengthAdjust="spacingAndGlyphs">20€</text><text x="636.06" y="1410.96" font-size="18.5" textLength="30.86" lengthAdjust="spacingAndGlyphs">25€</text><text x="636.06" y="1452.96" font-size="18.5" textLength="30.86" lengthAdjust="spacingAndGlyphs">30€</text></g></g>
<g id="pc10"><rect x="855.50" y="1093.40" width="222.60" height="445.00" fill="none" stroke="#fbe0f2" stroke-width="2.4"/>
<text x="879.80" y="1133.20" font-size="24.4" font-weight="normal" textLength="21.70" lengthAdjust="spacingAndGlyphs" fill="#2b2321" stroke="#2b2321" stroke-width="1.0" stroke-linejoin="round" >52</text>
<text transform="scale(0.58,1)" x="1565.52" y="1130.50" font-size="19.7" font-weight="normal" textLength="196.21" lengthAdjust="spacing" fill="#2b2321" stroke="#2b2321" stroke-width="1.0" stroke-linejoin="round" vector-effect="non-scaling-stroke" >WEEK SAVINGS</text>
<text transform="scale(0.58,1)" x="1551.21" y="1156.50" font-size="19.4" font-weight="normal" textLength="287.59" lengthAdjust="spacing" fill="#2b2321" stroke="#2b2321" stroke-width="1.0" stroke-linejoin="round" vector-effect="non-scaling-stroke" >CHALLENGE TRACKER</text>
<use href="#hx10f" fill="#000" fill-opacity="0.22" stroke="#000" stroke-opacity="0.22" stroke-width="1" transform="translate(0.3,1.0)"/>
<use href="#hx10f" fill="#fad9ef" stroke="#3a3230" stroke-width="1.0"/>
<g text-anchor="middle" fill="#35302e" font-weight="normal"><text x="888.22" y="1208.58" font-size="14.4" textLength="23.06" lengthAdjust="spacingAndGlyphs">10€</text><text x="888.22" y="1243.18" font-size="14.4" textLength="23.06" lengthAdjust="spacingAndGlyphs">10€</text><text x="888.22" y="1277.78" font-size="14.4" textLength="23.06" lengthAdjust="spacingAndGlyphs">10€</text><text x="888.22" y="1312.38" font-size="14.4" textLength="23.06" lengthAdjust="spacingAndGlyphs">10€</text><text x="888.22" y="1346.98" font-size="14.4" textLength="23.06" lengthAdjust="spacingAndGlyphs">10€</text><text x="888.22" y="1381.58" font-size="14.4" textLength="23.06" lengthAdjust="spacingAndGlyphs">10€</text><text x="888.22" y="1416.18" font-size="14.4" textLength="23.06" lengthAdjust="spacingAndGlyphs">10€</text><text x="888.22" y="1450.78" font-size="14.4" textLength="23.06" lengthAdjust="spacingAndGlyphs">10€</text><text x="919.42" y="1193.98" font-size="14.4" textLength="23.06" lengthAdjust="spacingAndGlyphs">10€</text><text x="919.42" y="1228.58" font-size="14.4" textLength="23.06" lengthAdjust="spacingAndGlyphs">10€</text><text x="919.42" y="1263.18" font-size="14.4" textLength="23.06" lengthAdjust="spacingAndGlyphs">10€</text><text x="919.42" y="1297.78" font-size="14.4" textLength="23.06" lengthAdjust="spacingAndGlyphs">10€</text><text x="919.42" y="1332.38" font-size="14.4" textLength="23.06" lengthAdjust="spacingAndGlyphs">10€</text><text x="919.42" y="1366.98" font-size="14.4" textLength="23.06" lengthAdjust="spacingAndGlyphs">20€</text><text x="919.42" y="1401.58" font-size="14.4" textLength="23.06" lengthAdjust="spacingAndGlyphs">20€</text><text x="919.42" y="1436.18" font-size="14.4" textLength="23.06" lengthAdjust="spacingAndGlyphs">20€</text><text x="919.42" y="1470.78" font-size="14.4" textLength="23.06" lengthAdjust="spacingAndGlyphs">20€</text><text x="950.42" y="1214.18" font-size="14.4" textLength="23.06" lengthAdjust="spacingAndGlyphs">20€</text><text x="950.42" y="1248.78" font-size="14.4" textLength="23.06" lengthAdjust="spacingAndGlyphs">20€</text><text x="950.42" y="1283.38" font-size="14.4" textLength="23.06" lengthAdjust="spacingAndGlyphs">20€</text><text x="950.42" y="1317.98" font-size="14.4" textLength="23.06" lengthAdjust="spacingAndGlyphs">20€</text><text x="950.42" y="1352.58" font-size="14.4" textLength="23.06" lengthAdjust="spacingAndGlyphs">20€</text><text x="950.42" y="1387.18" font-size="14.4" textLength="23.06" lengthAdjust="spacingAndGlyphs">20€</text><text x="950.42" y="1421.78" font-size="14.4" textLength="23.06" lengthAdjust="spacingAndGlyphs">20€</text><text x="950.42" y="1456.38" font-size="14.4" textLength="23.06" lengthAdjust="spacingAndGlyphs">20€</text><text x="950.42" y="1490.98" font-size="14.4" textLength="23.06" lengthAdjust="spacingAndGlyphs">20€</text><text x="981.22" y="1196.88" font-size="14.4" textLength="23.06" lengthAdjust="spacingAndGlyphs">30€</text><text x="981.22" y="1231.48" font-size="14.4" textLength="23.06" lengthAdjust="spacingAndGlyphs">30€</text><text x="981.22" y="1266.08" font-size="14.4" textLength="23.06" lengthAdjust="spacingAndGlyphs">30€</text><text x="981.22" y="1300.68" font-size="14.4" textLength="23.06" lengthAdjust="spacingAndGlyphs">30€</text><text x="981.22" y="1335.28" font-size="14.4" textLength="23.06" lengthAdjust="spacingAndGlyphs">30€</text><text x="981.22" y="1369.88" font-size="14.4" textLength="23.06" lengthAdjust="spacingAndGlyphs">30€</text><text x="981.22" y="1404.48" font-size="14.4" textLength="23.06" lengthAdjust="spacingAndGlyphs">30€</text><text x="981.22" y="1439.08" font-size="14.4" textLength="23.06" lengthAdjust="spacingAndGlyphs">30€</text><text x="981.22" y="1473.68" font-size="14.4" textLength="23.06" lengthAdjust="spacingAndGlyphs">30€</text><text x="1012.92" y="1212.58" font-size="14.4" textLength="23.06" lengthAdjust="spacingAndGlyphs">30€</text><text x="1012.92" y="1247.18" font-size="14.4" textLength="23.06" lengthAdjust="spacingAndGlyphs">30€</text><text x="1012.92" y="1281.78" font-size="14.4" textLength="23.06" lengthAdjust="spacingAndGlyphs">30€</text><text x="1012.92" y="1316.38" font-size="14.4" textLength="23.06" lengthAdjust="spacingAndGlyphs">30€</text><text x="1012.92" y="1350.98" font-size="14.4" textLength="23.06" lengthAdjust="spacingAndGlyphs">40€</text><text x="1012.92" y="1385.58" font-size="14.4" textLength="23.06" lengthAdjust="spacingAndGlyphs">40€</text><text x="1012.92" y="1420.18" font-size="14.4" textLength="23.06" lengthAdjust="spacingAndGlyphs">40€</text><text x="1012.92" y="1454.78" font-size="14.4" textLength="23.06" lengthAdjust="spacingAndGlyphs">40€</text><text x="1012.92" y="1489.38" font-size="14.4" textLength="23.06" lengthAdjust="spacingAndGlyphs">40€</text><text x="1043.42" y="1230.08" font-size="14.4" textLength="23.06" lengthAdjust="spacingAndGlyphs">40€</text><text x="1043.42" y="1264.68" font-size="14.4" textLength="23.06" lengthAdjust="spacingAndGlyphs">40€</text><text x="1043.42" y="1299.28" font-size="14.4" textLength="23.06" lengthAdjust="spacingAndGlyphs">40€</text><text x="1043.42" y="1333.88" font-size="14.4" textLength="23.06" lengthAdjust="spacingAndGlyphs">40€</text><text x="1043.42" y="1368.48" font-size="14.4" textLength="23.06" lengthAdjust="spacingAndGlyphs">40€</text><text x="1043.42" y="1403.08" font-size="14.4" textLength="23.06" lengthAdjust="spacingAndGlyphs">40€</text><text x="1043.42" y="1437.68" font-size="14.4" textLength="23.06" lengthAdjust="spacingAndGlyphs">40€</text><text x="1043.42" y="1472.28" font-size="14.4" textLength="23.06" lengthAdjust="spacingAndGlyphs">40€</text></g></g>
<g id="pb10"><rect x="855.50" y="1093.40" width="222.60" height="445.00" fill="none" stroke="#fbe0f2" stroke-width="2.4"/>
<text x="879.80" y="1133.20" font-size="24.4" font-weight="normal" textLength="21.70" lengthAdjust="spacingAndGlyphs" fill="#2b2321" stroke="#2b2321" stroke-width="1.0" stroke-linejoin="round" >52</text>
<text transform="scale(0.58,1)" x="1565.52" y="1130.50" font-size="19.7" font-weight="normal" textLength="196.21" lengthAdjust="spacing" fill="#2b2321" stroke="#2b2321" stroke-width="1.0" stroke-linejoin="round" vector-effect="non-scaling-stroke" >WEEK SAVINGS</text>
<text transform="scale(0.58,1)" x="1551.21" y="1156.50" font-size="19.4" font-weight="normal" textLength="287.59" lengthAdjust="spacing" fill="#2b2321" stroke="#2b2321" stroke-width="1.0" stroke-linejoin="round" vector-effect="non-scaling-stroke" >CHALLENGE TRACKER</text>
<use href="#hx10b" fill="#000" fill-opacity="0.22" stroke="#000" stroke-opacity="0.22" stroke-width="1" transform="translate(0.3,1.0)"/>
<use href="#hx10b" fill="#fad9ef" stroke="#3a3230" stroke-width="1.0"/>
<g text-anchor="middle" fill="#35302e" font-weight="normal"><text x="1043.42" y="1230.08" font-size="14.4" textLength="23.06" lengthAdjust="spacingAndGlyphs">40€</text><text x="1043.42" y="1264.68" font-size="14.4" textLength="23.06" lengthAdjust="spacingAndGlyphs">40€</text><text x="1043.42" y="1299.28" font-size="14.4" textLength="23.06" lengthAdjust="spacingAndGlyphs">40€</text><text x="1043.42" y="1333.88" font-size="14.4" textLength="23.06" lengthAdjust="spacingAndGlyphs">40€</text><text x="1043.42" y="1368.48" font-size="14.4" textLength="23.06" lengthAdjust="spacingAndGlyphs">40€</text><text x="1043.42" y="1403.08" font-size="14.4" textLength="23.06" lengthAdjust="spacingAndGlyphs">40€</text><text x="1043.42" y="1437.68" font-size="14.4" textLength="23.06" lengthAdjust="spacingAndGlyphs">40€</text><text x="1043.42" y="1472.28" font-size="14.4" textLength="23.06" lengthAdjust="spacingAndGlyphs">40€</text></g></g>
<g id="pc11"><rect x="1252.75" y="1093.00" width="223.15" height="445.70" fill="none" stroke="#c9e1f7" stroke-width="2.4"/>
<text x="1272.80" y="1133.30" font-size="25.6" font-weight="normal" textLength="29.20" lengthAdjust="spacingAndGlyphs" fill="#2b2321" stroke="#2b2321" stroke-width="1.0" stroke-linejoin="round" >100</text>
<text transform="scale(0.58,1)" x="2247.76" y="1131.10" font-size="21.5" font-weight="normal" textLength="257.24" lengthAdjust="spacing" fill="#2b2321" stroke="#2b2321" stroke-width="1.0" stroke-linejoin="round" vector-effect="non-scaling-stroke" >ENVELOPE SAVINGS</text>
<text transform="scale(0.58,1)" x="2236.55" y="1157.00" font-size="19.6" font-weight="normal" textLength="288.28" lengthAdjust="spacing" fill="#2b2321" stroke="#2b2321" stroke-width="1.0" stroke-linejoin="round" vector-effect="non-scaling-stroke" >CHALLENGE TRACKER</text>
<use href="#hx11f" fill="#000" fill-opacity="0.22" stroke="#000" stroke-opacity="0.22" stroke-width="1" transform="translate(0.3,1.0)"/>
<use href="#hx11f" fill="#c8def5" stroke="#3a3230" stroke-width="1.0"/>
<g text-anchor="middle" fill="#35302e" font-weight="normal"><text x="1273.78" y="1213.74" font-size="10.4" textLength="11.80" lengthAdjust="spacingAndGlyphs">1€</text><text x="1273.78" y="1238.94" font-size="10.4" textLength="11.80" lengthAdjust="spacingAndGlyphs">2€</text><text x="1273.78" y="1264.14" font-size="10.4" textLength="11.80" lengthAdjust="spacingAndGlyphs">3€</text><text x="1273.78" y="1289.34" font-size="10.4" textLength="11.80" lengthAdjust="spacingAndGlyphs">4€</text><text x="1273.78" y="1314.54" font-size="10.4" textLength="11.80" lengthAdjust="spacingAndGlyphs">5€</text><text x="1273.78" y="1339.74" font-size="10.4" textLength="11.80" lengthAdjust="spacingAndGlyphs">6€</text><text x="1273.78" y="1364.94" font-size="10.4" textLength="11.80" lengthAdjust="spacingAndGlyphs">7€</text><text x="1273.78" y="1390.14" font-size="10.4" textLength="11.80" lengthAdjust="spacingAndGlyphs">8€</text><text x="1273.78" y="1415.34" font-size="10.4" textLength="11.80" lengthAdjust="spacingAndGlyphs">9€</text><text x="1273.78" y="1440.54" font-size="10.4" textLength="17.70" lengthAdjust="spacingAndGlyphs">10€</text><text x="1273.78" y="1465.74" font-size="10.4" textLength="16.91" lengthAdjust="spacingAndGlyphs">11€</text><text x="1296.58" y="1203.14" font-size="10.4" textLength="17.70" lengthAdjust="spacingAndGlyphs">12€</text><text x="1296.58" y="1228.34" font-size="10.4" textLength="17.70" lengthAdjust="spacingAndGlyphs">13€</text><text x="1296.58" y="1253.54" font-size="10.4" textLength="17.70" lengthAdjust="spacingAndGlyphs">14€</text><text x="1296.58" y="1278.74" font-size="10.4" textLength="17.70" lengthAdjust="spacingAndGlyphs">15€</text><text x="1296.58" y="1303.94" font-size="10.4" textLength="17.70" lengthAdjust="spacingAndGlyphs">16€</text><text x="1296.58" y="1329.14" font-size="10.4" textLength="17.70" lengthAdjust="spacingAndGlyphs">17€</text><text x="1296.58" y="1354.34" font-size="10.4" textLength="17.70" lengthAdjust="spacingAndGlyphs">18€</text><text x="1296.58" y="1379.54" font-size="10.4" textLength="17.70" lengthAdjust="spacingAndGlyphs">19€</text><text x="1296.58" y="1404.74" font-size="10.4" textLength="17.70" lengthAdjust="spacingAndGlyphs">20€</text><text x="1296.58" y="1429.94" font-size="10.4" textLength="17.70" lengthAdjust="spacingAndGlyphs">21€</text><text x="1296.58" y="1455.14" font-size="10.4" textLength="17.70" lengthAdjust="spacingAndGlyphs">22€</text><text x="1318.98" y="1217.64" font-size="10.4" textLength="17.70" lengthAdjust="spacingAndGlyphs">23€</text><text x="1318.98" y="1242.84" font-size="10.4" textLength="17.70" lengthAdjust="spacingAndGlyphs">24€</text><text x="1318.98" y="1268.04" font-size="10.4" textLength="17.70" lengthAdjust="spacingAndGlyphs">25€</text><text x="1318.98" y="1293.24" font-size="10.4" textLength="17.70" lengthAdjust="spacingAndGlyphs">26€</text><text x="1318.98" y="1318.44" font-size="10.4" textLength="17.70" lengthAdjust="spacingAndGlyphs">27€</text><text x="1318.98" y="1343.64" font-size="10.4" textLength="17.70" lengthAdjust="spacingAndGlyphs">28€</text><text x="1318.98" y="1368.84" font-size="10.4" textLength="17.70" lengthAdjust="spacingAndGlyphs">29€</text><text x="1318.98" y="1394.04" font-size="10.4" textLength="17.70" lengthAdjust="spacingAndGlyphs">30€</text><text x="1318.98" y="1419.24" font-size="10.4" textLength="17.70" lengthAdjust="spacingAndGlyphs">31€</text><text x="1318.98" y="1444.44" font-size="10.4" textLength="17.70" lengthAdjust="spacingAndGlyphs">32€</text><text x="1318.98" y="1469.64" font-size="10.4" textLength="17.70" lengthAdjust="spacingAndGlyphs">33€</text><text x="1341.18" y="1205.04" font-size="10.4" textLength="17.70" lengthAdjust="spacingAndGlyphs">34€</text><text x="1341.18" y="1230.24" font-size="10.4" textLength="17.70" lengthAdjust="spacingAndGlyphs">35€</text><text x="1341.18" y="1255.44" font-size="10.4" textLength="17.70" lengthAdjust="spacingAndGlyphs">36€</text><text x="1341.18" y="1280.64" font-size="10.4" textLength="17.70" lengthAdjust="spacingAndGlyphs">37€</text><text x="1341.18" y="1305.84" font-size="10.4" textLength="17.70" lengthAdjust="spacingAndGlyphs">38€</text><text x="1341.18" y="1331.04" font-size="10.4" textLength="17.70" lengthAdjust="spacingAndGlyphs">39€</text><text x="1341.18" y="1356.24" font-size="10.4" textLength="17.70" lengthAdjust="spacingAndGlyphs">40€</text><text x="1341.18" y="1381.44" font-size="10.4" textLength="17.70" lengthAdjust="spacingAndGlyphs">41€</text><text x="1341.18" y="1406.64" font-size="10.4" textLength="17.70" lengthAdjust="spacingAndGlyphs">42€</text><text x="1341.18" y="1431.84" font-size="10.4" textLength="17.70" lengthAdjust="spacingAndGlyphs">43€</text><text x="1341.18" y="1457.04" font-size="10.4" textLength="17.70" lengthAdjust="spacingAndGlyphs">44€</text><text x="1363.88" y="1191.84" font-size="10.4" textLength="17.70" lengthAdjust="spacingAndGlyphs">45€</text><text x="1363.88" y="1217.04" font-size="10.4" textLength="17.70" lengthAdjust="spacingAndGlyphs">46€</text><text x="1363.88" y="1242.24" font-size="10.4" textLength="17.70" lengthAdjust="spacingAndGlyphs">47€</text><text x="1363.88" y="1267.44" font-size="10.4" textLength="17.70" lengthAdjust="spacingAndGlyphs">48€</text><text x="1363.88" y="1292.64" font-size="10.4" textLength="17.70" lengthAdjust="spacingAndGlyphs">49€</text><text x="1363.88" y="1317.84" font-size="10.4" textLength="17.70" lengthAdjust="spacingAndGlyphs">50€</text><text x="1363.88" y="1343.04" font-size="10.4" textLength="17.70" lengthAdjust="spacingAndGlyphs">51€</text><text x="1363.88" y="1368.24" font-size="10.4" textLength="17.70" lengthAdjust="spacingAndGlyphs">52€</text><text x="1363.88" y="1393.44" font-size="10.4" textLength="17.70" lengthAdjust="spacingAndGlyphs">53€</text><text x="1363.88" y="1418.64" font-size="10.4" textLength="17.70" lengthAdjust="spacingAndGlyphs">54€</text><text x="1363.88" y="1443.84" font-size="10.4" textLength="17.70" lengthAdjust="spacingAndGlyphs">55€</text><text x="1363.88" y="1469.04" font-size="10.4" textLength="17.70" lengthAdjust="spacingAndGlyphs">56€</text><text x="1386.18" y="1204.04" font-size="10.4" textLength="17.70" lengthAdjust="spacingAndGlyphs">57€</text><text x="1386.18" y="1229.24" font-size="10.4" textLength="17.70" lengthAdjust="spacingAndGlyphs">58€</text><text x="1386.18" y="1254.44" font-size="10.4" textLength="17.70" lengthAdjust="spacingAndGlyphs">59€</text><text x="1386.18" y="1279.64" font-size="10.4" textLength="17.70" lengthAdjust="spacingAndGlyphs">60€</text><text x="1386.18" y="1304.84" font-size="10.4" textLength="17.70" lengthAdjust="spacingAndGlyphs">61€</text><text x="1386.18" y="1330.04" font-size="10.4" textLength="17.70" lengthAdjust="spacingAndGlyphs">62€</text><text x="1386.18" y="1355.24" font-size="10.4" textLength="17.70" lengthAdjust="spacingAndGlyphs">63€</text><text x="1386.18" y="1380.44" font-size="10.4" textLength="17.70" lengthAdjust="spacingAndGlyphs">64€</text><text x="1386.18" y="1405.64" font-size="10.4" textLength="17.70" lengthAdjust="spacingAndGlyphs">65€</text><text x="1386.18" y="1430.84" font-size="10.4" textLength="17.70" lengthAdjust="spacingAndGlyphs">66€</text><text x="1386.18" y="1456.04" font-size="10.4" textLength="17.70" lengthAdjust="spacingAndGlyphs">67€</text><text x="1408.48" y="1216.74" font-size="10.4" textLength="17.70" lengthAdjust="spacingAndGlyphs">68€</text><text x="1408.48" y="1241.94" font-size="10.4" textLength="17.70" lengthAdjust="spacingAndGlyphs">69€</text><text x="1408.48" y="1267.14" font-size="10.4" textLength="17.70" lengthAdjust="spacingAndGlyphs">70€</text><text x="1408.48" y="1292.34" font-size="10.4" textLength="17.70" lengthAdjust="spacingAndGlyphs">71€</text><text x="1408.48" y="1317.54" font-size="10.4" textLength="17.70" lengthAdjust="spacingAndGlyphs">72€</text><text x="1408.48" y="1342.74" font-size="10.4" textLength="17.70" lengthAdjust="spacingAndGlyphs">73€</text><text x="1408.48" y="1367.94" font-size="10.4" textLength="17.70" lengthAdjust="spacingAndGlyphs">74€</text><text x="1408.48" y="1393.14" font-size="10.4" textLength="17.70" lengthAdjust="spacingAndGlyphs">75€</text><text x="1408.48" y="1418.34" font-size="10.4" textLength="17.70" lengthAdjust="spacingAndGlyphs">76€</text><text x="1408.48" y="1443.54" font-size="10.4" textLength="17.70" lengthAdjust="spacingAndGlyphs">77€</text><text x="1408.48" y="1468.74" font-size="10.4" textLength="17.70" lengthAdjust="spacingAndGlyphs">78€</text><text x="1430.18" y="1204.04" font-size="10.4" textLength="17.70" lengthAdjust="spacingAndGlyphs">79€</text><text x="1430.18" y="1229.24" font-size="10.4" textLength="17.70" lengthAdjust="spacingAndGlyphs">80€</text><text x="1430.18" y="1254.44" font-size="10.4" textLength="17.70" lengthAdjust="spacingAndGlyphs">81€</text><text x="1430.18" y="1279.64" font-size="10.4" textLength="17.70" lengthAdjust="spacingAndGlyphs">82€</text><text x="1430.18" y="1304.84" font-size="10.4" textLength="17.70" lengthAdjust="spacingAndGlyphs">83€</text><text x="1430.18" y="1330.04" font-size="10.4" textLength="17.70" lengthAdjust="spacingAndGlyphs">84€</text><text x="1430.18" y="1355.24" font-size="10.4" textLength="17.70" lengthAdjust="spacingAndGlyphs">85€</text><text x="1430.18" y="1380.44" font-size="10.4" textLength="17.70" lengthAdjust="spacingAndGlyphs">86€</text><text x="1430.18" y="1405.64" font-size="10.4" textLength="17.70" lengthAdjust="spacingAndGlyphs">87€</text><text x="1430.18" y="1430.84" font-size="10.4" textLength="17.70" lengthAdjust="spacingAndGlyphs">88€</text><text x="1430.18" y="1456.04" font-size="10.4" textLength="17.70" lengthAdjust="spacingAndGlyphs">89€</text><text x="1452.98" y="1216.74" font-size="10.4" textLength="17.70" lengthAdjust="spacingAndGlyphs">90€</text><text x="1452.98" y="1241.94" font-size="10.4" textLength="17.70" lengthAdjust="spacingAndGlyphs">91€</text><text x="1452.98" y="1267.14" font-size="10.4" textLength="17.70" lengthAdjust="spacingAndGlyphs">92€</text><text x="1452.98" y="1292.34" font-size="10.4" textLength="17.70" lengthAdjust="spacingAndGlyphs">93€</text><text x="1452.98" y="1317.54" font-size="10.4" textLength="17.70" lengthAdjust="spacingAndGlyphs">94€</text><text x="1452.98" y="1342.74" font-size="10.4" textLength="17.70" lengthAdjust="spacingAndGlyphs">95€</text><text x="1452.98" y="1367.94" font-size="10.4" textLength="17.70" lengthAdjust="spacingAndGlyphs">96€</text><text x="1452.98" y="1393.14" font-size="10.4" textLength="17.70" lengthAdjust="spacingAndGlyphs">97€</text><text x="1452.98" y="1418.34" font-size="10.4" textLength="17.70" lengthAdjust="spacingAndGlyphs">98€</text><text x="1452.98" y="1443.54" font-size="10.4" textLength="17.70" lengthAdjust="spacingAndGlyphs">99€</text><text x="1452.98" y="1468.74" font-size="10.4" textLength="23.60" lengthAdjust="spacingAndGlyphs">100€</text></g></g>
<g id="pb11"><rect x="1252.75" y="1093.00" width="223.15" height="445.70" fill="none" stroke="#c9e1f7" stroke-width="2.4"/>
<text x="1272.80" y="1133.30" font-size="25.6" font-weight="normal" textLength="29.20" lengthAdjust="spacingAndGlyphs" fill="#2b2321" stroke="#2b2321" stroke-width="1.0" stroke-linejoin="round" >100</text>
<text transform="scale(0.58,1)" x="2247.76" y="1131.10" font-size="21.5" font-weight="normal" textLength="257.24" lengthAdjust="spacing" fill="#2b2321" stroke="#2b2321" stroke-width="1.0" stroke-linejoin="round" vector-effect="non-scaling-stroke" >ENVELOPE SAVINGS</text>
<text transform="scale(0.58,1)" x="2236.55" y="1157.00" font-size="19.6" font-weight="normal" textLength="288.28" lengthAdjust="spacing" fill="#2b2321" stroke="#2b2321" stroke-width="1.0" stroke-linejoin="round" vector-effect="non-scaling-stroke" >CHALLENGE TRACKER</text>
<use href="#hx11b" fill="#000" fill-opacity="0.22" stroke="#000" stroke-opacity="0.22" stroke-width="1" transform="translate(0.3,1.0)"/>
<use href="#hx11b" fill="#c8def5" stroke="#3a3230" stroke-width="1.0"/>
<g text-anchor="middle" fill="#35302e" font-weight="normal"><text x="1434.03" y="1204.49" font-size="11.6">79</text><text x="1434.03" y="1229.69" font-size="11.6">80</text><text x="1434.03" y="1254.89" font-size="11.6">81</text><text x="1434.03" y="1280.09" font-size="11.6">82</text><text x="1434.03" y="1305.29" font-size="11.6">83</text><text x="1434.03" y="1330.49" font-size="11.6">84</text><text x="1434.03" y="1355.69" font-size="11.6">85</text><text x="1434.03" y="1380.89" font-size="11.6">86</text><text x="1434.03" y="1406.09" font-size="11.6">87</text><text x="1434.03" y="1431.29" font-size="11.6">88</text><text x="1434.03" y="1456.49" font-size="11.6">89</text><text x="1456.83" y="1217.19" font-size="11.6">90</text><text x="1456.83" y="1242.39" font-size="11.6">91</text><text x="1456.83" y="1267.59" font-size="11.6">92</text><text x="1456.83" y="1292.79" font-size="11.6">93</text><text x="1456.83" y="1317.99" font-size="11.6">94</text><text x="1456.83" y="1343.19" font-size="11.6">95</text><text x="1456.83" y="1368.39" font-size="11.6">96</text><text x="1456.83" y="1393.59" font-size="11.6">97</text><text x="1456.83" y="1418.79" font-size="11.6">98</text><text x="1456.83" y="1443.99" font-size="11.6">99</text><text x="1456.83" y="1469.19" font-size="11.6">100</text></g></g>
</defs>
<g transform="translate(110.00,0)">
<rect x="19.50" y="56.00" width="264.00" height="470.60" fill="#000" opacity="0.45" filter="url(#blur)"/>
<rect x="18.00" y="54.00" width="264.00" height="470.60" fill="#dbc9b8"/>
<use href="#pb0"/>
<text transform="scale(0.68,1)" x="266.62" y="498.20" font-size="17.9" font-weight="normal" textLength="85.77" lengthAdjust="spacing" fill="#2b2321" stroke="#2b2321" stroke-width="0.6" stroke-linejoin="round" vector-effect="non-scaling-stroke" >SAVE 30</text><text x="241.12" y="498.30" font-size="18.2" font-weight="bold" textLength="12.42" lengthAdjust="spacingAndGlyphs" fill="#2b2321" stroke="#2b2321" stroke-width="0.4" stroke-linejoin="round" >€</text>
</g>
<g transform="translate(73.00,0)">
<rect x="19.50" y="56.00" width="264.00" height="470.60" fill="#000" opacity="0.45" filter="url(#blur)"/>
<rect x="18.00" y="54.00" width="264.00" height="470.60" fill="#dbc9b8"/>
<use href="#pb0"/>
<text transform="scale(0.68,1)" x="266.62" y="498.20" font-size="17.9" font-weight="normal" textLength="85.77" lengthAdjust="spacing" fill="#2b2321" stroke="#2b2321" stroke-width="0.6" stroke-linejoin="round" vector-effect="non-scaling-stroke" >SAVE 30</text><text x="241.12" y="498.30" font-size="18.2" font-weight="bold" textLength="12.42" lengthAdjust="spacingAndGlyphs" fill="#2b2321" stroke="#2b2321" stroke-width="0.4" stroke-linejoin="round" >€</text>
</g>
<g transform="translate(37.00,0)">
<rect x="19.50" y="56.00" width="264.00" height="470.60" fill="#000" opacity="0.45" filter="url(#blur)"/>
<rect x="18.00" y="54.00" width="264.00" height="470.60" fill="#dbc9b8"/>
<use href="#pb0"/>
<text transform="scale(0.68,1)" x="266.62" y="498.20" font-size="17.9" font-weight="normal" textLength="85.77" lengthAdjust="spacing" fill="#2b2321" stroke="#2b2321" stroke-width="0.6" stroke-linejoin="round" vector-effect="non-scaling-stroke" >SAVE 30</text><text x="241.12" y="498.30" font-size="18.2" font-weight="bold" textLength="12.42" lengthAdjust="spacingAndGlyphs" fill="#2b2321" stroke="#2b2321" stroke-width="0.4" stroke-linejoin="round" >€</text>
</g>
<rect x="19.50" y="56.00" width="264.00" height="470.60" fill="#000" opacity="0.45" filter="url(#blur)"/>
<rect x="18.00" y="54.00" width="264.00" height="470.60" fill="#dbc9b8"/>
<use href="#pc0"/>
<text transform="scale(0.68,1)" x="266.62" y="498.20" font-size="17.9" font-weight="normal" textLength="85.77" lengthAdjust="spacing" fill="#2b2321" stroke="#2b2321" stroke-width="0.6" stroke-linejoin="round" vector-effect="non-scaling-stroke" >SAVE 30</text><text x="241.12" y="498.30" font-size="18.2" font-weight="bold" textLength="12.42" lengthAdjust="spacingAndGlyphs" fill="#2b2321" stroke="#2b2321" stroke-width="0.4" stroke-linejoin="round" >€</text>
<circle cx="32.90" cy="117.50" r="8.5" fill="url(#hole)" stroke="#000" stroke-opacity="0.55" stroke-width="1.1"/><circle cx="32.90" cy="173.50" r="8.5" fill="url(#hole)" stroke="#000" stroke-opacity="0.55" stroke-width="1.1"/><circle cx="32.90" cy="227.50" r="8.5" fill="url(#hole)" stroke="#000" stroke-opacity="0.55" stroke-width="1.1"/><circle cx="32.90" cy="350.50" r="8.5" fill="url(#hole)" stroke="#000" stroke-opacity="0.55" stroke-width="1.1"/><circle cx="32.90" cy="405.50" r="8.5" fill="url(#hole)" stroke="#000" stroke-opacity="0.55" stroke-width="1.1"/><circle cx="32.90" cy="460.50" r="8.5" fill="url(#hole)" stroke="#000" stroke-opacity="0.55" stroke-width="1.1"/>
<g transform="translate(115.25,0)">
<rect x="422.50" y="55.80" width="265.00" height="471.00" fill="#000" opacity="0.45" filter="url(#blur)"/>
<rect x="421.00" y="53.80" width="265.00" height="471.00" fill="#a2cfc6"/>
<use href="#pb1"/>
<text transform="scale(0.68,1)" x="866.47" y="500.30" font-size="18.6" font-weight="normal" textLength="81.76" lengthAdjust="spacing" fill="#2b2321" stroke="#2b2321" stroke-width="0.6" stroke-linejoin="round" vector-effect="non-scaling-stroke" >SAVE 60</text><text x="646.30" y="500.40" font-size="18.9" font-weight="bold" textLength="12.90" lengthAdjust="spacingAndGlyphs" fill="#2b2321" stroke="#2b2321" stroke-width="0.4" stroke-linejoin="round" >€</text>
</g>
<g transform="translate(77.00,0)">
<rect x="422.50" y="55.80" width="265.00" height="471.00" fill="#000" opacity="0.45" filter="url(#blur)"/>
<rect x="421.00" y="53.80" width="265.00" height="471.00" fill="#a2cfc6"/>
<use href="#pb1"/>
<text transform="scale(0.68,1)" x="866.47" y="500.30" font-size="18.6" font-weight="normal" textLength="81.76" lengthAdjust="spacing" fill="#2b2321" stroke="#2b2321" stroke-width="0.6" stroke-linejoin="round" vector-effect="non-scaling-stroke" >SAVE 60</text><text x="646.30" y="500.40" font-size="18.9" font-weight="bold" textLength="12.90" lengthAdjust="spacingAndGlyphs" fill="#2b2321" stroke="#2b2321" stroke-width="0.4" stroke-linejoin="round" >€</text>
</g>
<g transform="translate(38.00,0)">
<rect x="422.50" y="55.80" width="265.00" height="471.00" fill="#000" opacity="0.45" filter="url(#blur)"/>
<rect x="421.00" y="53.80" width="265.00" height="471.00" fill="#a2cfc6"/>
<use href="#pb1"/>
<text transform="scale(0.68,1)" x="866.47" y="500.30" font-size="18.6" font-weight="normal" textLength="81.76" lengthAdjust="spacing" fill="#2b2321" stroke="#2b2321" stroke-width="0.6" stroke-linejoin="round" vector-effect="non-scaling-stroke" >SAVE 60</text><text x="646.30" y="500.40" font-size="18.9" font-weight="bold" textLength="12.90" lengthAdjust="spacingAndGlyphs" fill="#2b2321" stroke="#2b2321" stroke-width="0.4" stroke-linejoin="round" >€</text>
</g>
<rect x="422.50" y="55.80" width="265.00" height="471.00" fill="#000" opacity="0.45" filter="url(#blur)"/>
<rect x="421.00" y="53.80" width="265.00" height="471.00" fill="#a2cfc6"/>
<use href="#pc1"/>
<text transform="scale(0.68,1)" x="866.47" y="500.30" font-size="18.6" font-weight="normal" textLength="81.76" lengthAdjust="spacing" fill="#2b2321" stroke="#2b2321" stroke-width="0.6" stroke-linejoin="round" vector-effect="non-scaling-stroke" >SAVE 60</text><text x="646.30" y="500.40" font-size="18.9" font-weight="bold" textLength="12.90" lengthAdjust="spacingAndGlyphs" fill="#2b2321" stroke="#2b2321" stroke-width="0.4" stroke-linejoin="round" >€</text>
<circle cx="435.90" cy="117.30" r="8.5" fill="url(#hole)" stroke="#000" stroke-opacity="0.55" stroke-width="1.1"/><circle cx="435.90" cy="173.30" r="8.5" fill="url(#hole)" stroke="#000" stroke-opacity="0.55" stroke-width="1.1"/><circle cx="435.90" cy="227.30" r="8.5" fill="url(#hole)" stroke="#000" stroke-opacity="0.55" stroke-width="1.1"/><circle cx="435.90" cy="350.30" r="8.5" fill="url(#hole)" stroke="#000" stroke-opacity="0.55" stroke-width="1.1"/><circle cx="435.90" cy="405.30" r="8.5" fill="url(#hole)" stroke="#000" stroke-opacity="0.55" stroke-width="1.1"/><circle cx="435.90" cy="460.30" r="8.5" fill="url(#hole)" stroke="#000" stroke-opacity="0.55" stroke-width="1.1"/>
<g transform="translate(92.40,0)">
<rect x="829.00" y="56.50" width="264.50" height="469.80" fill="#000" opacity="0.45" filter="url(#blur)"/>
<rect x="827.50" y="54.50" width="264.50" height="469.80" fill="#ebb7c4"/>
<use href="#pb2"/>
<text transform="scale(0.68,1)" x="1482.12" y="498.85" font-size="17.6" font-weight="normal" textLength="89.35" lengthAdjust="spacing" fill="#2b2321" stroke="#2b2321" stroke-width="0.8" stroke-linejoin="round" vector-effect="non-scaling-stroke" >SAVE150</text>
</g>
<g transform="translate(61.00,0)">
<rect x="829.00" y="56.50" width="264.50" height="469.80" fill="#000" opacity="0.45" filter="url(#blur)"/>
<rect x="827.50" y="54.50" width="264.50" height="469.80" fill="#ebb7c4"/>
<use href="#pb2"/>
<text transform="scale(0.68,1)" x="1482.12" y="498.85" font-size="17.6" font-weight="normal" textLength="89.35" lengthAdjust="spacing" fill="#2b2321" stroke="#2b2321" stroke-width="0.8" stroke-linejoin="round" vector-effect="non-scaling-stroke" >SAVE150</text>
</g>
<g transform="translate(31.00,0)">
<rect x="829.00" y="56.50" width="264.50" height="469.80" fill="#000" opacity="0.45" filter="url(#blur)"/>
<rect x="827.50" y="54.50" width="264.50" height="469.80" fill="#ebb7c4"/>
<use href="#pb2"/>
<text transform="scale(0.68,1)" x="1482.12" y="498.85" font-size="17.6" font-weight="normal" textLength="89.35" lengthAdjust="spacing" fill="#2b2321" stroke="#2b2321" stroke-width="0.8" stroke-linejoin="round" vector-effect="non-scaling-stroke" >SAVE150</text>
</g>
<rect x="829.00" y="56.50" width="264.50" height="469.80" fill="#000" opacity="0.45" filter="url(#blur)"/>
<rect x="827.50" y="54.50" width="264.50" height="469.80" fill="#ebb7c4"/>
<use href="#pc2"/>
<text transform="scale(0.68,1)" x="1459.63" y="498.95" font-size="17.9" font-weight="normal" textLength="86.87" lengthAdjust="spacing" fill="#2b2321" stroke="#2b2321" stroke-width="0.6" stroke-linejoin="round" vector-effect="non-scaling-stroke" >SAVE150</text><text x="1053.12" y="499.05" font-size="18.2" font-weight="bold" textLength="12.43" lengthAdjust="spacingAndGlyphs" fill="#2b2321" stroke="#2b2321" stroke-width="0.4" stroke-linejoin="round" >€</text>
<circle cx="842.40" cy="118.00" r="8.5" fill="url(#hole)" stroke="#000" stroke-opacity="0.55" stroke-width="1.1"/><circle cx="842.40" cy="174.00" r="8.5" fill="url(#hole)" stroke="#000" stroke-opacity="0.55" stroke-width="1.1"/><circle cx="842.40" cy="228.00" r="8.5" fill="url(#hole)" stroke="#000" stroke-opacity="0.55" stroke-width="1.1"/><circle cx="842.40" cy="351.00" r="8.5" fill="url(#hole)" stroke="#000" stroke-opacity="0.55" stroke-width="1.1"/><circle cx="842.40" cy="406.00" r="8.5" fill="url(#hole)" stroke="#000" stroke-opacity="0.55" stroke-width="1.1"/><circle cx="842.40" cy="461.00" r="8.5" fill="url(#hole)" stroke="#000" stroke-opacity="0.55" stroke-width="1.1"/>
<g transform="translate(96.00,0)">
<rect x="1223.50" y="56.50" width="264.00" height="470.25" fill="#000" opacity="0.45" filter="url(#blur)"/>
<rect x="1222.00" y="54.50" width="264.00" height="470.25" fill="#a0d4ea"/>
<use href="#pb3"/>
<text transform="scale(0.68,1)" x="2051.09" y="499.60" font-size="17.6" font-weight="normal" textLength="99.79" lengthAdjust="spacing" fill="#2b2321" stroke="#2b2321" stroke-width="0.8" stroke-linejoin="round" vector-effect="non-scaling-stroke" >SAVE 300</text>
</g>
<g transform="translate(65.00,0)">
<rect x="1223.50" y="56.50" width="264.00" height="470.25" fill="#000" opacity="0.45" filter="url(#blur)"/>
<rect x="1222.00" y="54.50" width="264.00" height="470.25" fill="#a0d4ea"/>
<use href="#pb3"/>
<text transform="scale(0.68,1)" x="2051.09" y="499.60" font-size="17.6" font-weight="normal" textLength="99.79" lengthAdjust="spacing" fill="#2b2321" stroke="#2b2321" stroke-width="0.8" stroke-linejoin="round" vector-effect="non-scaling-stroke" >SAVE 300</text>
</g>
<g transform="translate(32.00,0)">
<rect x="1223.50" y="56.50" width="264.00" height="470.25" fill="#000" opacity="0.45" filter="url(#blur)"/>
<rect x="1222.00" y="54.50" width="264.00" height="470.25" fill="#a0d4ea"/>
<use href="#pb3"/>
<text transform="scale(0.68,1)" x="2051.09" y="499.60" font-size="17.6" font-weight="normal" textLength="99.79" lengthAdjust="spacing" fill="#2b2321" stroke="#2b2321" stroke-width="0.8" stroke-linejoin="round" vector-effect="non-scaling-stroke" >SAVE 300</text>
</g>
<rect x="1223.50" y="56.50" width="264.00" height="470.25" fill="#000" opacity="0.45" filter="url(#blur)"/>
<rect x="1222.00" y="54.50" width="264.00" height="470.25" fill="#a0d4ea"/>
<use href="#pc3"/>
<text transform="scale(0.68,1)" x="2028.01" y="499.70" font-size="17.9" font-weight="normal" textLength="96.80" lengthAdjust="spacing" fill="#2b2321" stroke="#2b2321" stroke-width="0.6" stroke-linejoin="round" vector-effect="non-scaling-stroke" >SAVE 300</text><text x="1446.38" y="499.80" font-size="18.2" font-weight="bold" textLength="12.43" lengthAdjust="spacingAndGlyphs" fill="#2b2321" stroke="#2b2321" stroke-width="0.4" stroke-linejoin="round" >€</text>
<circle cx="1236.90" cy="118.00" r="8.5" fill="url(#hole)" stroke="#000" stroke-opacity="0.55" stroke-width="1.1"/><circle cx="1236.90" cy="174.00" r="8.5" fill="url(#hole)" stroke="#000" stroke-opacity="0.55" stroke-width="1.1"/><circle cx="1236.90" cy="228.00" r="8.5" fill="url(#hole)" stroke="#000" stroke-opacity="0.55" stroke-width="1.1"/><circle cx="1236.90" cy="351.00" r="8.5" fill="url(#hole)" stroke="#000" stroke-opacity="0.55" stroke-width="1.1"/><circle cx="1236.90" cy="406.00" r="8.5" fill="url(#hole)" stroke="#000" stroke-opacity="0.55" stroke-width="1.1"/><circle cx="1236.90" cy="461.00" r="8.5" fill="url(#hole)" stroke="#000" stroke-opacity="0.55" stroke-width="1.1"/>
<g transform="translate(104.25,-1.3)">
<rect x="18.50" y="570.50" width="262.75" height="469.50" fill="#000" opacity="0.45" filter="url(#blur)"/>
<rect x="17.00" y="568.50" width="262.75" height="469.50" fill="#e2b790"/>
<use href="#pb4"/>
<text transform="scale(0.68,1)" x="278.87" y="1013.10" font-size="17.6" font-weight="normal" textLength="98.85" lengthAdjust="spacing" fill="#2b2321" stroke="#2b2321" stroke-width="0.8" stroke-linejoin="round" vector-effect="non-scaling-stroke" >SAVE 450</text>
</g>
<g transform="translate(70.25,-1.3)">
<rect x="18.50" y="570.50" width="262.75" height="469.50" fill="#000" opacity="0.45" filter="url(#blur)"/>
<rect x="17.00" y="568.50" width="262.75" height="469.50" fill="#e2b790"/>
<use href="#pb4"/>
<text transform="scale(0.68,1)" x="278.87" y="1013.10" font-size="17.6" font-weight="normal" textLength="98.85" lengthAdjust="spacing" fill="#2b2321" stroke="#2b2321" stroke-width="0.8" stroke-linejoin="round" vector-effect="non-scaling-stroke" >SAVE 450</text>
</g>
<g transform="translate(35.25,-1.3)">
<rect x="18.50" y="570.50" width="262.75" height="469.50" fill="#000" opacity="0.45" filter="url(#blur)"/>
<rect x="17.00" y="568.50" width="262.75" height="469.50" fill="#e2b790"/>
<use href="#pb4"/>
<text transform="scale(0.68,1)" x="278.87" y="1013.10" font-size="17.6" font-weight="normal" textLength="98.85" lengthAdjust="spacing" fill="#2b2321" stroke="#2b2321" stroke-width="0.8" stroke-linejoin="round" vector-effect="non-scaling-stroke" >SAVE 450</text>
</g>
<rect x="18.50" y="570.50" width="262.75" height="469.50" fill="#000" opacity="0.45" filter="url(#blur)"/>
<rect x="17.00" y="568.50" width="262.75" height="469.50" fill="#e2b790"/>
<use href="#pc4"/>
<text transform="scale(0.68,1)" x="256.32" y="1013.20" font-size="17.9" font-weight="normal" textLength="95.70" lengthAdjust="spacing" fill="#2b2321" stroke="#2b2321" stroke-width="0.6" stroke-linejoin="round" vector-effect="non-scaling-stroke" >SAVE 450</text><text x="240.88" y="1013.30" font-size="18.2" font-weight="bold" textLength="12.42" lengthAdjust="spacingAndGlyphs" fill="#2b2321" stroke="#2b2321" stroke-width="0.4" stroke-linejoin="round" >€</text>
<circle cx="31.90" cy="632.00" r="8.5" fill="url(#hole)" stroke="#000" stroke-opacity="0.55" stroke-width="1.1"/><circle cx="31.90" cy="688.00" r="8.5" fill="url(#hole)" stroke="#000" stroke-opacity="0.55" stroke-width="1.1"/><circle cx="31.90" cy="742.00" r="8.5" fill="url(#hole)" stroke="#000" stroke-opacity="0.55" stroke-width="1.1"/><circle cx="31.90" cy="865.00" r="8.5" fill="url(#hole)" stroke="#000" stroke-opacity="0.55" stroke-width="1.1"/><circle cx="31.90" cy="920.00" r="8.5" fill="url(#hole)" stroke="#000" stroke-opacity="0.55" stroke-width="1.1"/><circle cx="31.90" cy="975.00" r="8.5" fill="url(#hole)" stroke="#000" stroke-opacity="0.55" stroke-width="1.1"/>
<g transform="translate(103.50,0)">
<rect x="422.75" y="567.60" width="264.65" height="471.15" fill="#000" opacity="0.45" filter="url(#blur)"/>
<rect x="421.25" y="565.60" width="264.65" height="471.15" fill="#d7d5d7"/>
<use href="#pb5"/>
<text transform="scale(0.68,1)" x="873.88" y="1012.35" font-size="18.7" font-weight="normal" textLength="99.79" lengthAdjust="spacing" fill="#2b2321" stroke="#2b2321" stroke-width="0.8" stroke-linejoin="round" vector-effect="non-scaling-stroke" >SAVE 600</text>
</g>
<g transform="translate(68.50,0)">
<rect x="422.75" y="567.60" width="264.65" height="471.15" fill="#000" opacity="0.45" filter="url(#blur)"/>
<rect x="421.25" y="565.60" width="264.65" height="471.15" fill="#d7d5d7"/>
<use href="#pb5"/>
<text transform="scale(0.68,1)" x="873.88" y="1012.35" font-size="18.7" font-weight="normal" textLength="99.79" lengthAdjust="spacing" fill="#2b2321" stroke="#2b2321" stroke-width="0.8" stroke-linejoin="round" vector-effect="non-scaling-stroke" >SAVE 600</text>
</g>
<g transform="translate(34.70,0)">
<rect x="422.75" y="567.60" width="264.65" height="471.15" fill="#000" opacity="0.45" filter="url(#blur)"/>
<rect x="421.25" y="565.60" width="264.65" height="471.15" fill="#d7d5d7"/>
<use href="#pb5"/>
<text transform="scale(0.68,1)" x="873.88" y="1012.35" font-size="18.7" font-weight="normal" textLength="99.79" lengthAdjust="spacing" fill="#2b2321" stroke="#2b2321" stroke-width="0.8" stroke-linejoin="round" vector-effect="non-scaling-stroke" >SAVE 600</text>
</g>
<rect x="422.75" y="567.60" width="264.65" height="471.15" fill="#000" opacity="0.45" filter="url(#blur)"/>
<rect x="421.25" y="565.60" width="264.65" height="471.15" fill="#d7d5d7"/>
<use href="#pc5"/>
<text transform="scale(0.68,1)" x="852.65" y="1012.45" font-size="19.0" font-weight="normal" textLength="95.75" lengthAdjust="spacing" fill="#2b2321" stroke="#2b2321" stroke-width="0.6" stroke-linejoin="round" vector-effect="non-scaling-stroke" >SAVE 600</text><text x="646.41" y="1012.55" font-size="19.2" font-weight="bold" textLength="13.14" lengthAdjust="spacingAndGlyphs" fill="#2b2321" stroke="#2b2321" stroke-width="0.4" stroke-linejoin="round" >€</text>
<circle cx="436.15" cy="629.10" r="8.5" fill="url(#hole)" stroke="#000" stroke-opacity="0.55" stroke-width="1.1"/><circle cx="436.15" cy="685.10" r="8.5" fill="url(#hole)" stroke="#000" stroke-opacity="0.55" stroke-width="1.1"/><circle cx="436.15" cy="739.10" r="8.5" fill="url(#hole)" stroke="#000" stroke-opacity="0.55" stroke-width="1.1"/><circle cx="436.15" cy="862.10" r="8.5" fill="url(#hole)" stroke="#000" stroke-opacity="0.55" stroke-width="1.1"/><circle cx="436.15" cy="917.10" r="8.5" fill="url(#hole)" stroke="#000" stroke-opacity="0.55" stroke-width="1.1"/><circle cx="436.15" cy="972.10" r="8.5" fill="url(#hole)" stroke="#000" stroke-opacity="0.55" stroke-width="1.1"/>
<g transform="translate(92.25,0)">
<rect x="829.50" y="567.00" width="264.75" height="471.20" fill="#000" opacity="0.45" filter="url(#blur)"/>
<rect x="828.00" y="565.00" width="264.75" height="471.20" fill="#aab7d0"/>
<use href="#pb6"/>
<text transform="scale(0.68,1)" x="1472.78" y="1011.60" font-size="18.7" font-weight="normal" textLength="99.79" lengthAdjust="spacing" fill="#2b2321" stroke="#2b2321" stroke-width="0.8" stroke-linejoin="round" vector-effect="non-scaling-stroke" >SAVE 750</text>
</g>
<g transform="translate(61.65,0)">
<rect x="829.50" y="567.00" width="264.75" height="471.20" fill="#000" opacity="0.45" filter="url(#blur)"/>
<rect x="828.00" y="565.00" width="264.75" height="471.20" fill="#aab7d0"/>
<use href="#pb6"/>
<text transform="scale(0.68,1)" x="1472.78" y="1011.60" font-size="18.7" font-weight="normal" textLength="99.79" lengthAdjust="spacing" fill="#2b2321" stroke="#2b2321" stroke-width="0.8" stroke-linejoin="round" vector-effect="non-scaling-stroke" >SAVE 750</text>
</g>
<g transform="translate(28.50,0)">
<rect x="829.50" y="567.00" width="264.75" height="471.20" fill="#000" opacity="0.45" filter="url(#blur)"/>
<rect x="828.00" y="565.00" width="264.75" height="471.20" fill="#aab7d0"/>
<use href="#pb6"/>
<text transform="scale(0.68,1)" x="1472.78" y="1011.60" font-size="18.7" font-weight="normal" textLength="99.79" lengthAdjust="spacing" fill="#2b2321" stroke="#2b2321" stroke-width="0.8" stroke-linejoin="round" vector-effect="non-scaling-stroke" >SAVE 750</text>
</g>
<rect x="829.50" y="567.00" width="264.75" height="471.20" fill="#000" opacity="0.45" filter="url(#blur)"/>
<rect x="828.00" y="565.00" width="264.75" height="471.20" fill="#aab7d0"/>
<use href="#pc6"/>
<text transform="scale(0.68,1)" x="1450.81" y="1011.70" font-size="19.0" font-weight="normal" textLength="95.75" lengthAdjust="spacing" fill="#2b2321" stroke="#2b2321" stroke-width="0.6" stroke-linejoin="round" vector-effect="non-scaling-stroke" >SAVE 750</text><text x="1053.16" y="1011.80" font-size="19.2" font-weight="bold" textLength="13.14" lengthAdjust="spacingAndGlyphs" fill="#2b2321" stroke="#2b2321" stroke-width="0.4" stroke-linejoin="round" >€</text>
<circle cx="842.90" cy="628.50" r="8.5" fill="url(#hole)" stroke="#000" stroke-opacity="0.55" stroke-width="1.1"/><circle cx="842.90" cy="684.50" r="8.5" fill="url(#hole)" stroke="#000" stroke-opacity="0.55" stroke-width="1.1"/><circle cx="842.90" cy="738.50" r="8.5" fill="url(#hole)" stroke="#000" stroke-opacity="0.55" stroke-width="1.1"/><circle cx="842.90" cy="861.50" r="8.5" fill="url(#hole)" stroke="#000" stroke-opacity="0.55" stroke-width="1.1"/><circle cx="842.90" cy="916.50" r="8.5" fill="url(#hole)" stroke="#000" stroke-opacity="0.55" stroke-width="1.1"/><circle cx="842.90" cy="971.50" r="8.5" fill="url(#hole)" stroke="#000" stroke-opacity="0.55" stroke-width="1.1"/>
<g transform="translate(95.00,0)">
<rect x="1223.50" y="567.50" width="264.00" height="470.00" fill="#000" opacity="0.45" filter="url(#blur)"/>
<rect x="1222.00" y="565.50" width="264.00" height="470.00" fill="#92bd8f"/>
<use href="#pb7"/>
<text transform="scale(0.68,1)" x="2053.92" y="1011.20" font-size="17.1" font-weight="normal" textLength="96.96" lengthAdjust="spacing" fill="#2b2321" stroke="#2b2321" stroke-width="0.8" stroke-linejoin="round" vector-effect="non-scaling-stroke" >SAVE 900</text>
</g>
<g transform="translate(63.00,0)">
<rect x="1223.50" y="567.50" width="264.00" height="470.00" fill="#000" opacity="0.45" filter="url(#blur)"/>
<rect x="1222.00" y="565.50" width="264.00" height="470.00" fill="#92bd8f"/>
<use href="#pb7"/>
<text transform="scale(0.68,1)" x="2053.92" y="1011.20" font-size="17.1" font-weight="normal" textLength="96.96" lengthAdjust="spacing" fill="#2b2321" stroke="#2b2321" stroke-width="0.8" stroke-linejoin="round" vector-effect="non-scaling-stroke" >SAVE 900</text>
</g>
<g transform="translate(32.00,0)">
<rect x="1223.50" y="567.50" width="264.00" height="470.00" fill="#000" opacity="0.45" filter="url(#blur)"/>
<rect x="1222.00" y="565.50" width="264.00" height="470.00" fill="#92bd8f"/>
<use href="#pb7"/>
<text transform="scale(0.68,1)" x="2053.92" y="1011.20" font-size="17.1" font-weight="normal" textLength="96.96" lengthAdjust="spacing" fill="#2b2321" stroke="#2b2321" stroke-width="0.8" stroke-linejoin="round" vector-effect="non-scaling-stroke" >SAVE 900</text>
</g>
<rect x="1223.50" y="567.50" width="264.00" height="470.00" fill="#000" opacity="0.45" filter="url(#blur)"/>
<rect x="1222.00" y="565.50" width="264.00" height="470.00" fill="#92bd8f"/>
<use href="#pc7"/>
<text transform="scale(0.68,1)" x="2031.32" y="1011.30" font-size="17.4" font-weight="normal" textLength="94.05" lengthAdjust="spacing" fill="#2b2321" stroke="#2b2321" stroke-width="0.6" stroke-linejoin="round" vector-effect="non-scaling-stroke" >SAVE 900</text><text x="1446.76" y="1011.40" font-size="17.6" font-weight="bold" textLength="12.04" lengthAdjust="spacingAndGlyphs" fill="#2b2321" stroke="#2b2321" stroke-width="0.4" stroke-linejoin="round" >€</text>
<circle cx="1236.90" cy="629.00" r="8.5" fill="url(#hole)" stroke="#000" stroke-opacity="0.55" stroke-width="1.1"/><circle cx="1236.90" cy="685.00" r="8.5" fill="url(#hole)" stroke="#000" stroke-opacity="0.55" stroke-width="1.1"/><circle cx="1236.90" cy="739.00" r="8.5" fill="url(#hole)" stroke="#000" stroke-opacity="0.55" stroke-width="1.1"/><circle cx="1236.90" cy="862.00" r="8.5" fill="url(#hole)" stroke="#000" stroke-opacity="0.55" stroke-width="1.1"/><circle cx="1236.90" cy="917.00" r="8.5" fill="url(#hole)" stroke="#000" stroke-opacity="0.55" stroke-width="1.1"/><circle cx="1236.90" cy="972.00" r="8.5" fill="url(#hole)" stroke="#000" stroke-opacity="0.55" stroke-width="1.1"/>
<g transform="translate(101.00,0)">
<rect x="18.50" y="1080.50" width="264.90" height="471.50" fill="#000" opacity="0.45" filter="url(#blur)"/>
<rect x="17.00" y="1078.50" width="264.90" height="471.50" fill="#f5afae"/>
<use href="#pb8"/>
<text transform="scale(0.68,1)" x="281.30" y="1525.35" font-size="17.6" font-weight="normal" textLength="98.85" lengthAdjust="spacing" fill="#2b2321" stroke="#2b2321" stroke-width="0.8" stroke-linejoin="round" vector-effect="non-scaling-stroke" >SAVE 702</text>
</g>
<g transform="translate(67.10,0)">
<rect x="18.50" y="1080.50" width="264.90" height="471.50" fill="#000" opacity="0.45" filter="url(#blur)"/>
<rect x="17.00" y="1078.50" width="264.90" height="471.50" fill="#f5afae"/>
<use href="#pb8"/>
<text transform="scale(0.68,1)" x="281.30" y="1525.35" font-size="17.6" font-weight="normal" textLength="98.85" lengthAdjust="spacing" fill="#2b2321" stroke="#2b2321" stroke-width="0.8" stroke-linejoin="round" vector-effect="non-scaling-stroke" >SAVE 702</text>
</g>
<g transform="translate(33.10,0)">
<rect x="18.50" y="1080.50" width="264.90" height="471.50" fill="#000" opacity="0.45" filter="url(#blur)"/>
<rect x="17.00" y="1078.50" width="264.90" height="471.50" fill="#f5afae"/>
<use href="#pb8"/>
<text transform="scale(0.68,1)" x="281.30" y="1525.35" font-size="17.6" font-weight="normal" textLength="98.85" lengthAdjust="spacing" fill="#2b2321" stroke="#2b2321" stroke-width="0.8" stroke-linejoin="round" vector-effect="non-scaling-stroke" >SAVE 702</text>
</g>
<rect x="18.50" y="1080.50" width="264.90" height="471.50" fill="#000" opacity="0.45" filter="url(#blur)"/>
<rect x="17.00" y="1078.50" width="264.90" height="471.50" fill="#f5afae"/>
<use href="#pc8"/>
<text transform="scale(0.68,1)" x="259.63" y="1525.45" font-size="17.9" font-weight="normal" textLength="95.70" lengthAdjust="spacing" fill="#2b2321" stroke="#2b2321" stroke-width="0.6" stroke-linejoin="round" vector-effect="non-scaling-stroke" >SAVE 702</text><text x="243.12" y="1525.55" font-size="18.2" font-weight="bold" textLength="12.42" lengthAdjust="spacingAndGlyphs" fill="#2b2321" stroke="#2b2321" stroke-width="0.4" stroke-linejoin="round" >€</text>
<circle cx="31.90" cy="1142.00" r="8.5" fill="url(#hole)" stroke="#000" stroke-opacity="0.55" stroke-width="1.1"/><circle cx="31.90" cy="1198.00" r="8.5" fill="url(#hole)" stroke="#000" stroke-opacity="0.55" stroke-width="1.1"/><circle cx="31.90" cy="1252.00" r="8.5" fill="url(#hole)" stroke="#000" stroke-opacity="0.55" stroke-width="1.1"/><circle cx="31.90" cy="1375.65" r="8.5" fill="url(#hole)" stroke="#000" stroke-opacity="0.55" stroke-width="1.1"/><circle cx="31.90" cy="1431.30" r="8.5" fill="url(#hole)" stroke="#000" stroke-opacity="0.55" stroke-width="1.1"/><circle cx="31.90" cy="1486.30" r="8.5" fill="url(#hole)" stroke="#000" stroke-opacity="0.55" stroke-width="1.1"/>
<g transform="translate(101.90,0)">
<rect x="420.90" y="1081.00" width="265.60" height="471.50" fill="#000" opacity="0.45" filter="url(#blur)"/>
<rect x="419.40" y="1079.00" width="265.60" height="471.50" fill="#ecdc89"/>
<use href="#pb9"/>
<text transform="scale(0.68,1)" x="870.21" y="1526.10" font-size="18.7" font-weight="normal" textLength="99.79" lengthAdjust="spacing" fill="#2b2321" stroke="#2b2321" stroke-width="0.8" stroke-linejoin="round" vector-effect="non-scaling-stroke" >SAVE 465</text>
</g>
<g transform="translate(67.00,0)">
<rect x="420.90" y="1081.00" width="265.60" height="471.50" fill="#000" opacity="0.45" filter="url(#blur)"/>
<rect x="419.40" y="1079.00" width="265.60" height="471.50" fill="#ecdc89"/>
<use href="#pb9"/>
<text transform="scale(0.68,1)" x="870.21" y="1526.10" font-size="18.7" font-weight="normal" textLength="99.79" lengthAdjust="spacing" fill="#2b2321" stroke="#2b2321" stroke-width="0.8" stroke-linejoin="round" vector-effect="non-scaling-stroke" >SAVE 465</text>
</g>
<g transform="translate(33.40,0)">
<rect x="420.90" y="1081.00" width="265.60" height="471.50" fill="#000" opacity="0.45" filter="url(#blur)"/>
<rect x="419.40" y="1079.00" width="265.60" height="471.50" fill="#ecdc89"/>
<use href="#pb9"/>
<text transform="scale(0.68,1)" x="870.21" y="1526.10" font-size="18.7" font-weight="normal" textLength="99.79" lengthAdjust="spacing" fill="#2b2321" stroke="#2b2321" stroke-width="0.8" stroke-linejoin="round" vector-effect="non-scaling-stroke" >SAVE 465</text>
</g>
<rect x="420.90" y="1081.00" width="265.60" height="471.50" fill="#000" opacity="0.45" filter="url(#blur)"/>
<rect x="419.40" y="1079.00" width="265.60" height="471.50" fill="#ecdc89"/>
<use href="#pc9"/>
<text transform="scale(0.68,1)" x="850.44" y="1526.20" font-size="19.0" font-weight="normal" textLength="95.75" lengthAdjust="spacing" fill="#2b2321" stroke="#2b2321" stroke-width="0.6" stroke-linejoin="round" vector-effect="non-scaling-stroke" >SAVE 465</text><text x="644.91" y="1526.30" font-size="19.2" font-weight="bold" textLength="13.14" lengthAdjust="spacingAndGlyphs" fill="#2b2321" stroke="#2b2321" stroke-width="0.4" stroke-linejoin="round" >€</text>
<circle cx="434.30" cy="1142.50" r="8.5" fill="url(#hole)" stroke="#000" stroke-opacity="0.55" stroke-width="1.1"/><circle cx="434.30" cy="1198.50" r="8.5" fill="url(#hole)" stroke="#000" stroke-opacity="0.55" stroke-width="1.1"/><circle cx="434.30" cy="1252.50" r="8.5" fill="url(#hole)" stroke="#000" stroke-opacity="0.55" stroke-width="1.1"/><circle cx="434.30" cy="1376.25" r="8.5" fill="url(#hole)" stroke="#000" stroke-opacity="0.55" stroke-width="1.1"/><circle cx="434.30" cy="1432.00" r="8.5" fill="url(#hole)" stroke="#000" stroke-opacity="0.55" stroke-width="1.1"/><circle cx="434.30" cy="1487.00" r="8.5" fill="url(#hole)" stroke="#000" stroke-opacity="0.55" stroke-width="1.1"/>
<g transform="translate(95.40,0)">
<rect x="825.25" y="1081.40" width="265.25" height="472.30" fill="#000" opacity="0.45" filter="url(#blur)"/>
<rect x="823.75" y="1079.40" width="265.25" height="472.30" fill="#f8a8df"/>
<use href="#pb10"/>
<text transform="scale(0.68,1)" x="1462.76" y="1526.10" font-size="17.6" font-weight="normal" textLength="103.57" lengthAdjust="spacing" fill="#2b2321" stroke="#2b2321" stroke-width="0.8" stroke-linejoin="round" vector-effect="non-scaling-stroke" >SAVE1300</text>
</g>
<g transform="translate(63.00,0)">
<rect x="825.25" y="1081.40" width="265.25" height="472.30" fill="#000" opacity="0.45" filter="url(#blur)"/>
<rect x="823.75" y="1079.40" width="265.25" height="472.30" fill="#f8a8df"/>
<use href="#pb10"/>
<text transform="scale(0.68,1)" x="1462.76" y="1526.10" font-size="17.6" font-weight="normal" textLength="103.57" lengthAdjust="spacing" fill="#2b2321" stroke="#2b2321" stroke-width="0.8" stroke-linejoin="round" vector-effect="non-scaling-stroke" >SAVE1300</text>
</g>
<g transform="translate(31.00,0)">
<rect x="825.25" y="1081.40" width="265.25" height="472.30" fill="#000" opacity="0.45" filter="url(#blur)"/>
<rect x="823.75" y="1079.40" width="265.25" height="472.30" fill="#f8a8df"/>
<use href="#pb10"/>
<text transform="scale(0.68,1)" x="1462.76" y="1526.10" font-size="17.6" font-weight="normal" textLength="103.57" lengthAdjust="spacing" fill="#2b2321" stroke="#2b2321" stroke-width="0.8" stroke-linejoin="round" vector-effect="non-scaling-stroke" >SAVE1300</text>
</g>
<rect x="825.25" y="1081.40" width="265.25" height="472.30" fill="#000" opacity="0.45" filter="url(#blur)"/>
<rect x="823.75" y="1079.40" width="265.25" height="472.30" fill="#f8a8df"/>
<use href="#pc10"/>
<text transform="scale(0.68,1)" x="1439.78" y="1526.20" font-size="17.9" font-weight="normal" textLength="101.21" lengthAdjust="spacing" fill="#2b2321" stroke="#2b2321" stroke-width="0.6" stroke-linejoin="round" vector-effect="non-scaling-stroke" >SAVE1300</text><text x="1049.38" y="1526.30" font-size="18.2" font-weight="bold" textLength="12.43" lengthAdjust="spacingAndGlyphs" fill="#2b2321" stroke="#2b2321" stroke-width="0.4" stroke-linejoin="round" >€</text>
<circle cx="838.65" cy="1142.90" r="8.5" fill="url(#hole)" stroke="#000" stroke-opacity="0.55" stroke-width="1.1"/><circle cx="838.65" cy="1198.90" r="8.5" fill="url(#hole)" stroke="#000" stroke-opacity="0.55" stroke-width="1.1"/><circle cx="838.65" cy="1252.90" r="8.5" fill="url(#hole)" stroke="#000" stroke-opacity="0.55" stroke-width="1.1"/><circle cx="838.65" cy="1376.65" r="8.5" fill="url(#hole)" stroke="#000" stroke-opacity="0.55" stroke-width="1.1"/><circle cx="838.65" cy="1432.40" r="8.5" fill="url(#hole)" stroke="#000" stroke-opacity="0.55" stroke-width="1.1"/><circle cx="838.65" cy="1487.40" r="8.5" fill="url(#hole)" stroke="#000" stroke-opacity="0.55" stroke-width="1.1"/>
<g transform="translate(96.70,0)">
<rect x="1222.50" y="1081.00" width="265.80" height="473.00" fill="#000" opacity="0.45" filter="url(#blur)"/>
<rect x="1221.00" y="1079.00" width="265.80" height="473.00" fill="#87b9e9"/>
<use href="#pb11"/>
<text transform="scale(0.68,1)" x="2057.97" y="1526.85" font-size="15.6" font-weight="normal" textLength="92.62" lengthAdjust="spacing" fill="#2b2321" stroke="#2b2321" stroke-width="0.8" stroke-linejoin="round" vector-effect="non-scaling-stroke" >SAVE5050</text>
</g>
<g transform="translate(64.20,0)">
<rect x="1222.50" y="1081.00" width="265.80" height="473.00" fill="#000" opacity="0.45" filter="url(#blur)"/>
<rect x="1221.00" y="1079.00" width="265.80" height="473.00" fill="#87b9e9"/>
<use href="#pb11"/>
<text transform="scale(0.68,1)" x="2057.97" y="1526.85" font-size="15.6" font-weight="normal" textLength="92.62" lengthAdjust="spacing" fill="#2b2321" stroke="#2b2321" stroke-width="0.8" stroke-linejoin="round" vector-effect="non-scaling-stroke" >SAVE5050</text>
</g>
<g transform="translate(32.20,0)">
<rect x="1222.50" y="1081.00" width="265.80" height="473.00" fill="#000" opacity="0.45" filter="url(#blur)"/>
<rect x="1221.00" y="1079.00" width="265.80" height="473.00" fill="#87b9e9"/>
<use href="#pb11"/>
<text transform="scale(0.68,1)" x="2057.97" y="1526.85" font-size="15.6" font-weight="normal" textLength="92.62" lengthAdjust="spacing" fill="#2b2321" stroke="#2b2321" stroke-width="0.8" stroke-linejoin="round" vector-effect="non-scaling-stroke" >SAVE5050</text>
</g>
<rect x="1222.50" y="1081.00" width="265.80" height="473.00" fill="#000" opacity="0.45" filter="url(#blur)"/>
<rect x="1221.00" y="1079.00" width="265.80" height="473.00" fill="#87b9e9"/>
<use href="#pc11"/>
<text transform="scale(0.68,1)" x="2047.87" y="1526.95" font-size="15.8" font-weight="normal" textLength="90.51" lengthAdjust="spacing" fill="#2b2321" stroke="#2b2321" stroke-width="0.6" stroke-linejoin="round" vector-effect="non-scaling-stroke" >SAVE5050</text><text x="1455.60" y="1527.05" font-size="16.1" font-weight="bold" textLength="11.00" lengthAdjust="spacingAndGlyphs" fill="#2b2321" stroke="#2b2321" stroke-width="0.4" stroke-linejoin="round" >€</text>
<circle cx="1235.90" cy="1142.50" r="8.5" fill="url(#hole)" stroke="#000" stroke-opacity="0.55" stroke-width="1.1"/><circle cx="1235.90" cy="1198.50" r="8.5" fill="url(#hole)" stroke="#000" stroke-opacity="0.55" stroke-width="1.1"/><circle cx="1235.90" cy="1252.50" r="8.5" fill="url(#hole)" stroke="#000" stroke-opacity="0.55" stroke-width="1.1"/><circle cx="1235.90" cy="1376.75" r="8.5" fill="url(#hole)" stroke="#000" stroke-opacity="0.55" stroke-width="1.1"/><circle cx="1235.90" cy="1433.00" r="8.5" fill="url(#hole)" stroke="#000" stroke-opacity="0.55" stroke-width="1.1"/><circle cx="1235.90" cy="1488.00" r="8.5" fill="url(#hole)" stroke="#000" stroke-opacity="0.55" stroke-width="1.1"/>
</svg></body></html>
